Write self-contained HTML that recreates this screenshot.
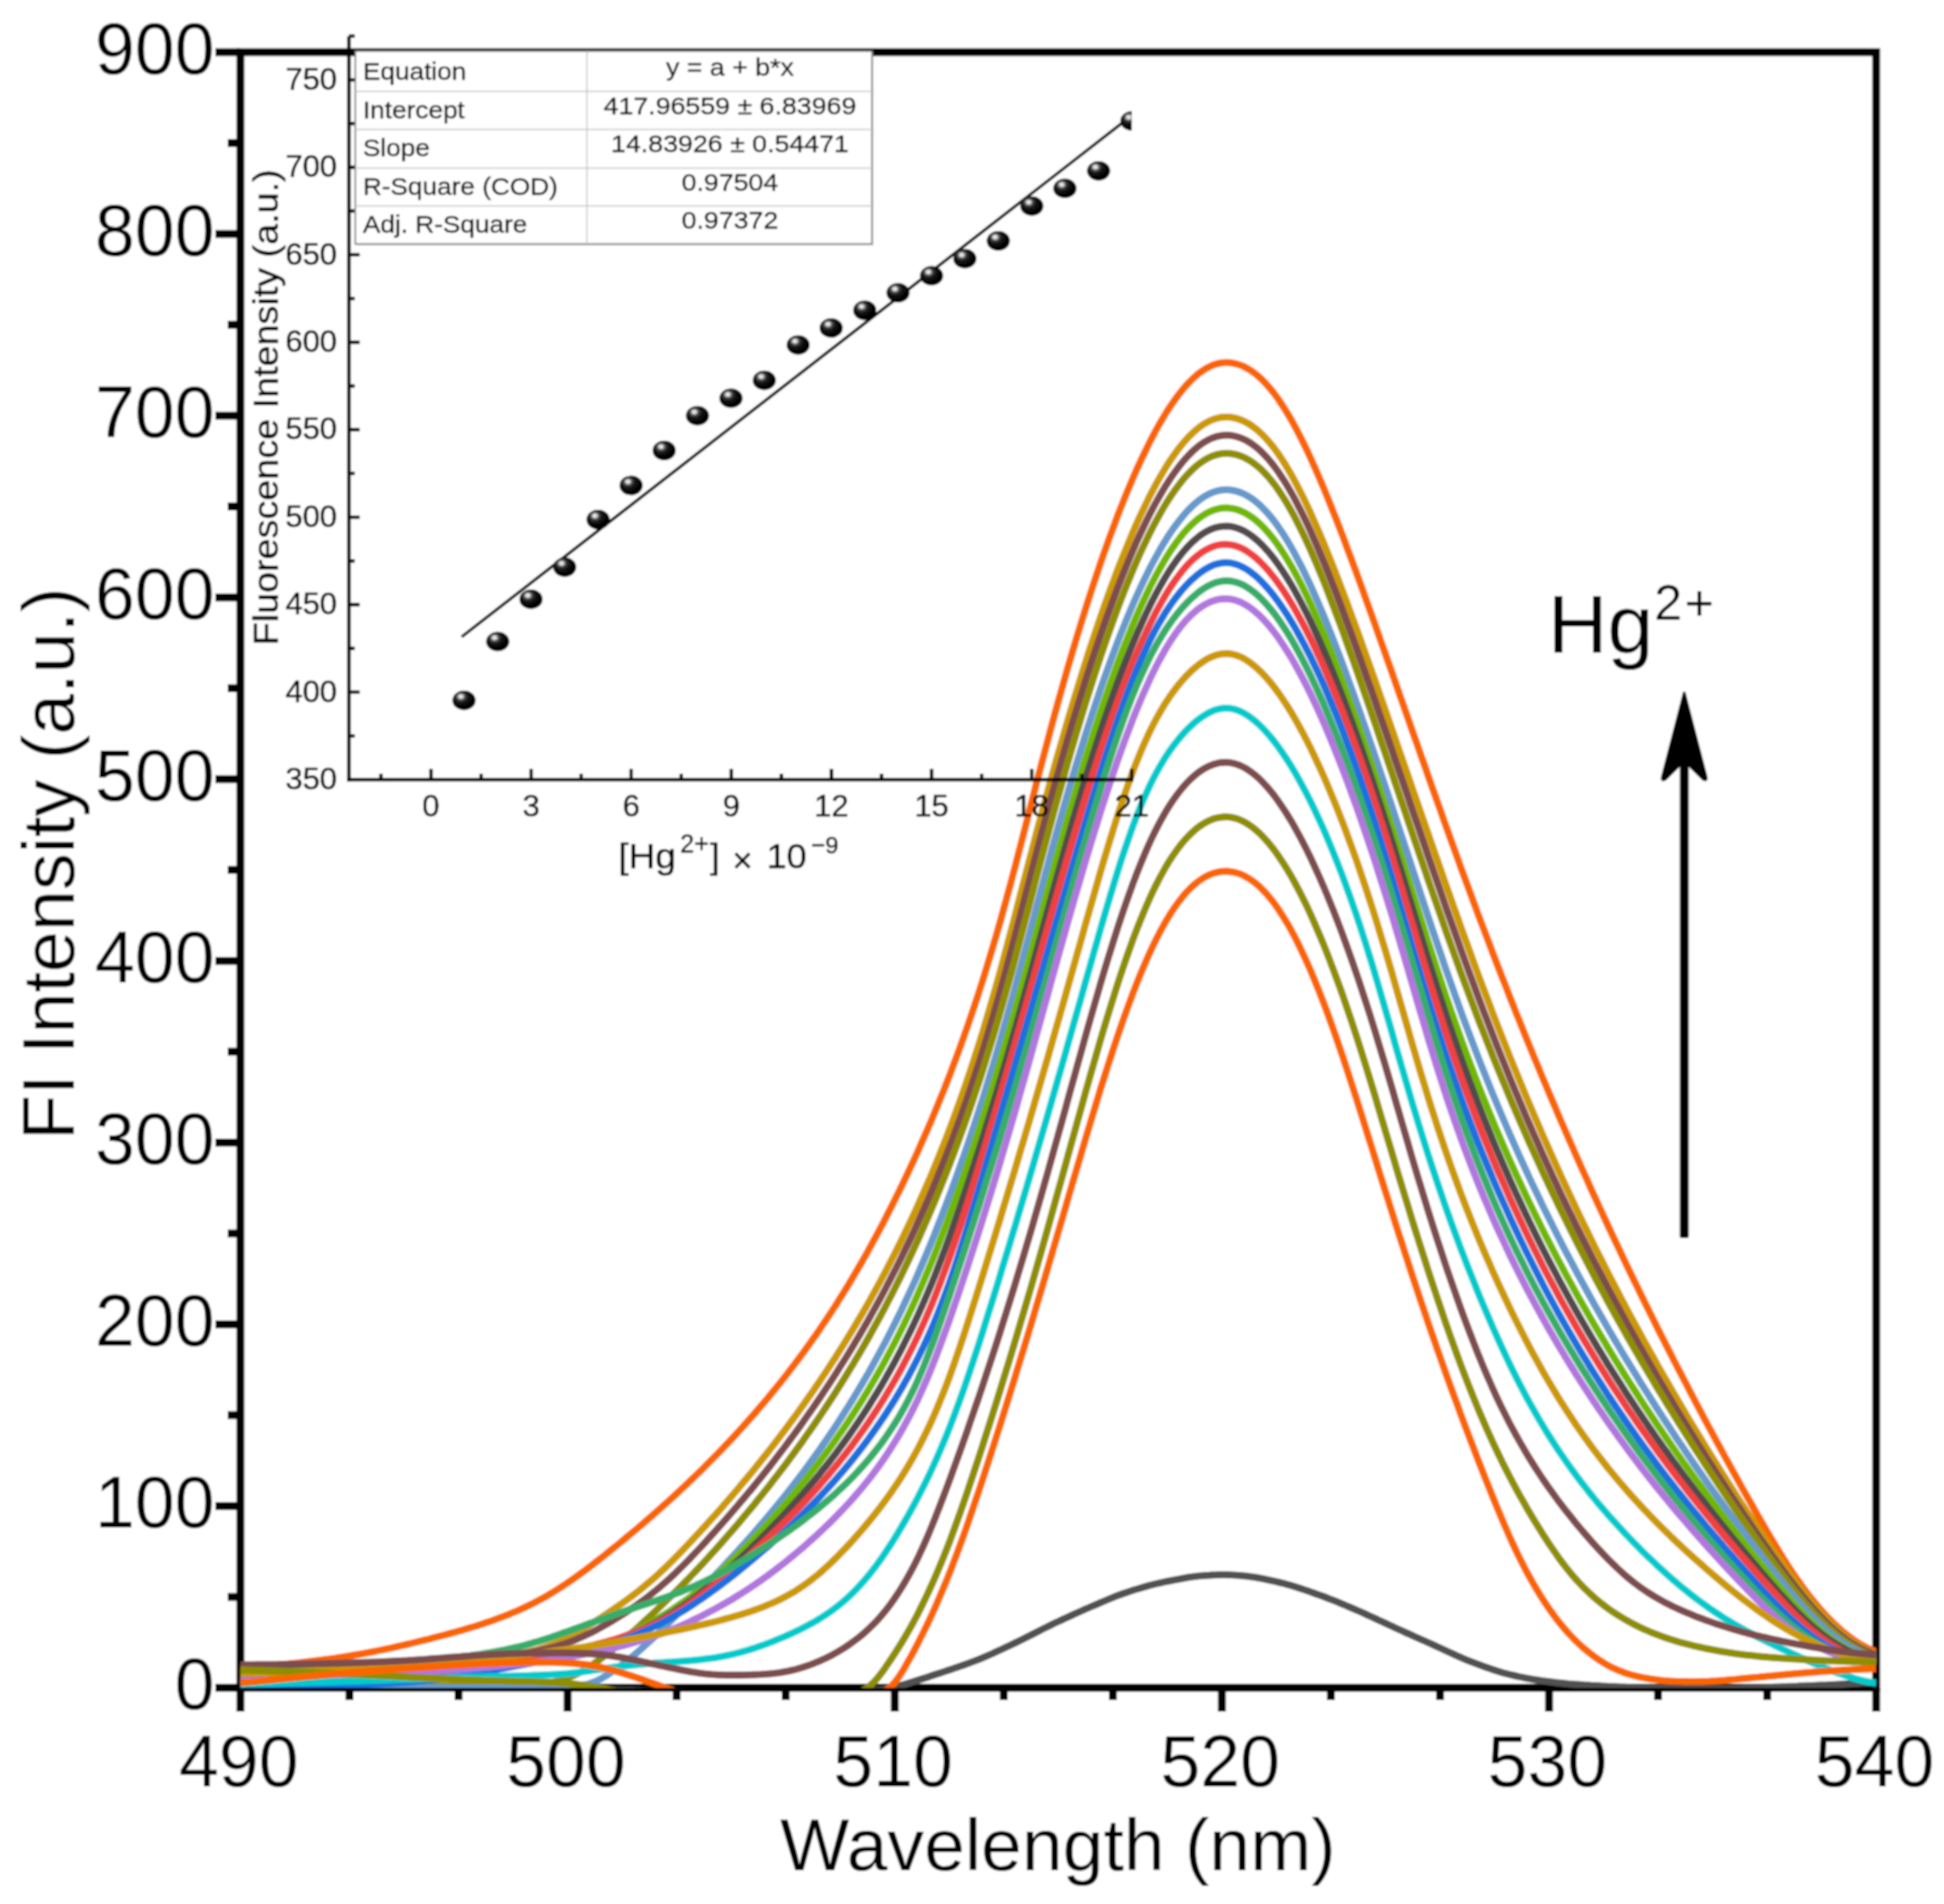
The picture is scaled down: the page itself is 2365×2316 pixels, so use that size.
<!DOCTYPE html>
<html lang="en"><head><meta charset="utf-8"><title>FI Intensity vs Wavelength</title>
<style>
html,body{margin:0;padding:0;background:#fff;}
svg{display:block;}
text{font-family:"Liberation Sans", Arial, Helvetica, sans-serif;fill:#000;}
</style></head><body>
<svg width="2365" height="2316" viewBox="0 0 2365 2316">
<defs>
<filter id="soft" x="0" y="0" width="2365" height="2316" filterUnits="userSpaceOnUse"><feGaussianBlur stdDeviation="0.85"/></filter>
<clipPath id="plotclip"><rect x="292.5" y="63.5" width="1990.0" height="1989.5"/></clipPath>
<clipPath id="insclip"><rect x="423" y="44" width="954" height="905"/></clipPath>
<radialGradient id="ball" cx="0.38" cy="0.33" r="0.62" fx="0.36" fy="0.30">
<stop offset="0" stop-color="#ffffff"/><stop offset="0.13" stop-color="#d8d8d8"/>
<stop offset="0.32" stop-color="#3a3a3a"/><stop offset="0.6" stop-color="#0a0a0a"/><stop offset="1" stop-color="#000"/>
</radialGradient>
</defs>
<g filter="url(#soft)">
<rect width="2365" height="2316" fill="#fff"/>

<g stroke="#000" stroke-width="9.6" fill="none" stroke-linecap="butt">
<rect x="292.5" y="63.5" width="1990.0" height="1989.5"/>
<line x1="262.0" y1="2053.0" x2="292.5" y2="2053.0"/>
<line x1="262.0" y1="1831.9" x2="292.5" y2="1831.9"/>
<line x1="262.0" y1="1610.9" x2="292.5" y2="1610.9"/>
<line x1="262.0" y1="1389.8" x2="292.5" y2="1389.8"/>
<line x1="262.0" y1="1168.8" x2="292.5" y2="1168.8"/>
<line x1="262.0" y1="947.7" x2="292.5" y2="947.7"/>
<line x1="262.0" y1="726.7" x2="292.5" y2="726.7"/>
<line x1="262.0" y1="505.6" x2="292.5" y2="505.6"/>
<line x1="262.0" y1="284.6" x2="292.5" y2="284.6"/>
<line x1="262.0" y1="63.5" x2="292.5" y2="63.5"/>
<line x1="277.0" y1="1942.5" x2="292.5" y2="1942.5"/>
<line x1="277.0" y1="1721.4" x2="292.5" y2="1721.4"/>
<line x1="277.0" y1="1500.4" x2="292.5" y2="1500.4"/>
<line x1="277.0" y1="1279.3" x2="292.5" y2="1279.3"/>
<line x1="277.0" y1="1058.2" x2="292.5" y2="1058.2"/>
<line x1="277.0" y1="837.2" x2="292.5" y2="837.2"/>
<line x1="277.0" y1="616.1" x2="292.5" y2="616.1"/>
<line x1="277.0" y1="395.1" x2="292.5" y2="395.1"/>
<line x1="277.0" y1="174.0" x2="292.5" y2="174.0"/>
<line x1="292.5" y1="2053.0" x2="292.5" y2="2082.0"/>
<line x1="690.5" y1="2053.0" x2="690.5" y2="2082.0"/>
<line x1="1088.5" y1="2053.0" x2="1088.5" y2="2082.0"/>
<line x1="1486.5" y1="2053.0" x2="1486.5" y2="2082.0"/>
<line x1="1884.5" y1="2053.0" x2="1884.5" y2="2082.0"/>
<line x1="2282.5" y1="2053.0" x2="2282.5" y2="2082.0"/>
<line x1="425.2" y1="2053.0" x2="425.2" y2="2068.0"/>
<line x1="557.8" y1="2053.0" x2="557.8" y2="2068.0"/>
<line x1="823.2" y1="2053.0" x2="823.2" y2="2068.0"/>
<line x1="955.8" y1="2053.0" x2="955.8" y2="2068.0"/>
<line x1="1221.2" y1="2053.0" x2="1221.2" y2="2068.0"/>
<line x1="1353.8" y1="2053.0" x2="1353.8" y2="2068.0"/>
<line x1="1619.2" y1="2053.0" x2="1619.2" y2="2068.0"/>
<line x1="1751.8" y1="2053.0" x2="1751.8" y2="2068.0"/>
<line x1="2017.2" y1="2053.0" x2="2017.2" y2="2068.0"/>
<line x1="2149.8" y1="2053.0" x2="2149.8" y2="2068.0"/>
</g>
<g clip-path="url(#plotclip)" fill="none" stroke-width="8.6" stroke-linejoin="round" stroke-linecap="butt">
<polyline stroke="#515151" points="292.5,2053.0 296.5,2053.0 300.5,2053.0 304.4,2053.0 308.4,2053.0 312.4,2053.0 316.4,2053.0 320.4,2053.0 324.3,2053.0 328.3,2053.0 332.3,2053.0 336.3,2053.0 340.3,2053.0 344.2,2053.1 348.2,2053.1 352.2,2053.1 356.2,2053.1 360.2,2053.1 364.1,2053.1 368.1,2053.1 372.1,2053.1 376.1,2053.1 380.1,2053.1 384.0,2053.2 388.0,2053.2 392.0,2053.2 396.0,2053.2 400.0,2053.2 403.9,2053.2 407.9,2053.2 411.9,2053.3 415.9,2053.3 419.9,2053.3 423.8,2053.3 427.8,2053.3 431.8,2053.4 435.8,2053.4 439.8,2053.4 443.7,2053.4 447.7,2053.4 451.7,2053.5 455.7,2053.5 459.7,2053.5 463.6,2053.5 467.6,2053.5 471.6,2053.6 475.6,2053.6 479.6,2053.6 483.5,2053.6 487.5,2053.7 491.5,2053.7 495.5,2053.7 499.5,2053.7 503.4,2053.8 507.4,2053.8 511.4,2053.8 515.4,2053.8 519.4,2053.9 523.3,2053.9 527.3,2053.9 531.3,2053.9 535.3,2054.0 539.3,2054.0 543.2,2054.0 547.2,2054.1 551.2,2054.1 555.2,2054.1 559.2,2054.1 563.1,2054.2 567.1,2054.2 571.1,2054.2 575.1,2054.3 579.1,2054.3 583.0,2054.3 587.0,2054.4 591.0,2054.4 595.0,2054.4 599.0,2054.5 602.9,2054.5 606.9,2054.5 610.9,2054.5 614.9,2054.6 618.9,2054.6 622.8,2054.6 626.8,2054.7 630.8,2054.7 634.8,2054.7 638.8,2054.8 642.7,2054.8 646.7,2054.8 650.7,2054.9 654.7,2054.9 658.7,2054.9 662.6,2055.0 666.6,2055.0 670.6,2055.0 674.6,2055.1 678.6,2055.1 682.5,2055.1 686.5,2055.2 690.5,2055.2 694.5,2055.2 698.5,2055.3 702.4,2055.3 706.4,2055.4 710.4,2055.4 714.4,2055.5 718.4,2055.5 722.3,2055.6 726.3,2055.6 730.3,2055.7 734.3,2055.8 738.3,2055.8 742.2,2055.9 746.2,2056.0 750.2,2056.0 754.2,2056.1 758.2,2056.2 762.1,2056.3 766.1,2056.4 770.1,2056.4 774.1,2056.5 778.1,2056.6 782.0,2056.7 786.0,2056.8 790.0,2056.8 794.0,2056.9 798.0,2057.0 801.9,2057.1 805.9,2057.2 809.9,2057.3 813.9,2057.4 817.9,2057.5 821.8,2057.5 825.8,2057.6 829.8,2057.7 833.8,2057.8 837.8,2057.9 841.7,2058.0 845.7,2058.1 849.7,2058.1 853.7,2058.2 857.7,2058.3 861.6,2058.4 865.6,2058.5 869.6,2058.5 873.6,2058.6 877.6,2058.7 881.5,2058.8 885.5,2058.8 889.5,2058.9 893.5,2059.0 897.5,2059.0 901.4,2059.1 905.4,2059.1 909.4,2059.2 913.4,2059.2 917.4,2059.3 921.3,2059.3 925.3,2059.4 929.3,2059.4 933.3,2059.5 937.3,2059.5 941.2,2059.5 945.2,2059.6 949.2,2059.6 953.2,2059.6 957.2,2059.6 961.1,2059.6 965.1,2059.6 969.1,2059.6 973.1,2059.6 977.1,2059.6 981.0,2059.6 985.0,2059.5 989.0,2059.5 993.0,2059.4 997.0,2059.3 1000.9,2059.2 1004.9,2059.1 1008.9,2059.0 1012.9,2058.8 1016.9,2058.7 1020.8,2058.5 1024.8,2058.3 1028.8,2058.1 1032.8,2057.9 1036.8,2057.7 1040.7,2057.5 1044.7,2057.3 1048.7,2057.0 1052.7,2056.7 1056.7,2056.5 1060.6,2056.2 1064.6,2055.9 1068.6,2055.5 1072.6,2055.2 1076.6,2054.7 1080.5,2053.9 1084.5,2052.9 1088.5,2051.9 1092.5,2050.9 1096.5,2049.9 1100.4,2048.8 1104.4,2047.6 1108.4,2046.4 1112.4,2045.2 1116.4,2043.9 1120.3,2042.7 1124.3,2041.4 1128.3,2040.1 1132.3,2038.7 1136.3,2037.4 1140.2,2036.1 1144.2,2034.8 1148.2,2033.5 1152.2,2032.2 1156.2,2030.9 1160.1,2029.5 1164.1,2028.2 1168.1,2026.8 1172.1,2025.4 1176.1,2024.0 1180.0,2022.5 1184.0,2021.0 1188.0,2019.5 1192.0,2017.9 1196.0,2016.3 1199.9,2014.6 1203.9,2012.8 1207.9,2011.1 1211.9,2009.2 1215.9,2007.4 1219.8,2005.6 1223.8,2003.7 1227.8,2001.8 1231.8,1999.9 1235.8,1998.0 1239.7,1996.1 1243.7,1994.2 1247.7,1992.2 1251.7,1990.2 1255.7,1988.1 1259.6,1986.1 1263.6,1984.1 1267.6,1982.0 1271.6,1980.0 1275.6,1978.1 1279.5,1976.1 1283.5,1974.2 1287.5,1972.4 1291.5,1970.5 1295.5,1968.6 1299.4,1966.8 1303.4,1965.0 1307.4,1963.2 1311.4,1961.4 1315.4,1959.6 1319.3,1957.8 1323.3,1956.1 1327.3,1954.4 1331.3,1952.7 1335.3,1951.0 1339.2,1949.3 1343.2,1947.6 1347.2,1945.9 1351.2,1944.3 1355.2,1942.6 1359.1,1941.1 1363.1,1939.6 1367.1,1938.1 1371.1,1936.8 1375.1,1935.5 1379.0,1934.2 1383.0,1933.0 1387.0,1931.8 1391.0,1930.6 1395.0,1929.5 1398.9,1928.4 1402.9,1927.4 1406.9,1926.4 1410.9,1925.5 1414.9,1924.6 1418.8,1923.8 1422.8,1923.0 1426.8,1922.2 1430.8,1921.4 1434.8,1920.7 1438.7,1920.0 1442.7,1919.3 1446.7,1918.6 1450.7,1918.0 1454.7,1917.5 1458.6,1917.0 1462.6,1916.7 1466.6,1916.4 1470.6,1916.2 1474.6,1915.9 1478.5,1915.8 1482.5,1915.6 1486.5,1915.5 1490.5,1915.5 1494.5,1915.6 1498.4,1915.8 1502.4,1916.0 1506.4,1916.3 1510.4,1916.6 1514.4,1917.0 1518.3,1917.4 1522.3,1917.9 1526.3,1918.5 1530.3,1919.2 1534.3,1919.9 1538.2,1920.7 1542.2,1921.6 1546.2,1922.5 1550.2,1923.4 1554.2,1924.3 1558.1,1925.2 1562.1,1926.2 1566.1,1927.3 1570.1,1928.4 1574.1,1929.6 1578.0,1930.8 1582.0,1932.1 1586.0,1933.5 1590.0,1934.8 1594.0,1936.2 1597.9,1937.6 1601.9,1939.1 1605.9,1940.5 1609.9,1941.9 1613.9,1943.4 1617.8,1945.0 1621.8,1946.5 1625.8,1948.1 1629.8,1949.8 1633.8,1951.4 1637.7,1953.1 1641.7,1954.8 1645.7,1956.5 1649.7,1958.2 1653.7,1959.9 1657.6,1961.7 1661.6,1963.5 1665.6,1965.3 1669.6,1967.1 1673.6,1969.0 1677.5,1970.8 1681.5,1972.7 1685.5,1974.5 1689.5,1976.4 1693.5,1978.2 1697.4,1980.1 1701.4,1981.9 1705.4,1983.7 1709.4,1985.5 1713.4,1987.2 1717.3,1989.0 1721.3,1990.8 1725.3,1992.6 1729.3,1994.4 1733.3,1996.2 1737.2,1997.9 1741.2,1999.7 1745.2,2001.5 1749.2,2003.3 1753.2,2005.1 1757.1,2007.0 1761.1,2008.8 1765.1,2010.7 1769.1,2012.5 1773.1,2014.3 1777.0,2016.0 1781.0,2017.8 1785.0,2019.4 1789.0,2021.0 1793.0,2022.5 1796.9,2024.0 1800.9,2025.5 1804.9,2027.0 1808.9,2028.4 1812.9,2029.8 1816.8,2031.1 1820.8,2032.4 1824.8,2033.6 1828.8,2034.8 1832.8,2035.9 1836.7,2036.9 1840.7,2037.8 1844.7,2038.7 1848.7,2039.6 1852.7,2040.4 1856.6,2041.2 1860.6,2041.9 1864.6,2042.7 1868.6,2043.3 1872.6,2044.0 1876.5,2044.6 1880.5,2045.1 1884.5,2045.6 1888.5,2046.1 1892.5,2046.6 1896.4,2047.0 1900.4,2047.4 1904.4,2047.8 1908.4,2048.2 1912.4,2048.5 1916.3,2048.8 1920.3,2049.1 1924.3,2049.4 1928.3,2049.7 1932.3,2049.9 1936.2,2050.2 1940.2,2050.4 1944.2,2050.6 1948.2,2050.9 1952.2,2051.1 1956.1,2051.3 1960.1,2051.5 1964.1,2051.6 1968.1,2051.8 1972.1,2052.0 1976.0,2052.1 1980.0,2052.2 1984.0,2052.3 1988.0,2052.4 1992.0,2052.6 1995.9,2052.7 1999.9,2052.8 2003.9,2052.9 2007.9,2053.0 2011.9,2053.1 2015.8,2053.2 2019.8,2053.3 2023.8,2053.3 2027.8,2053.4 2031.8,2053.5 2035.7,2053.6 2039.7,2053.7 2043.7,2053.7 2047.7,2053.8 2051.7,2053.9 2055.6,2053.9 2059.6,2054.0 2063.6,2054.0 2067.6,2054.0 2071.6,2054.1 2075.5,2054.1 2079.5,2054.1 2083.5,2054.1 2087.5,2054.1 2091.5,2054.1 2095.4,2054.0 2099.4,2054.0 2103.4,2053.9 2107.4,2053.8 2111.4,2053.8 2115.3,2053.7 2119.3,2053.6 2123.3,2053.4 2127.3,2053.3 2131.3,2053.2 2135.2,2053.1 2139.2,2052.9 2143.2,2052.8 2147.2,2052.6 2151.2,2052.5 2155.1,2052.3 2159.1,2052.1 2163.1,2052.0 2167.1,2051.8 2171.1,2051.7 2175.0,2051.5 2179.0,2051.4 2183.0,2051.2 2187.0,2051.1 2191.0,2050.9 2194.9,2050.8 2198.9,2050.6 2202.9,2050.5 2206.9,2050.3 2210.9,2050.1 2214.8,2049.9 2218.8,2049.7 2222.8,2049.6 2226.8,2049.4 2230.8,2049.2 2234.7,2049.0 2238.7,2048.8 2242.7,2048.6 2246.7,2048.4 2250.7,2048.2 2254.6,2047.9 2258.6,2047.7 2262.6,2047.5 2266.6,2047.3 2270.6,2047.1 2274.5,2046.8 2278.5,2046.6 2282.5,2046.4"/>
<polyline stroke="#FB6501" points="292.5,2028.0 296.5,2027.8 300.5,2027.7 304.4,2027.5 308.4,2027.3 312.4,2027.0 316.4,2026.8 320.4,2026.5 324.3,2026.2 328.3,2025.9 332.3,2025.6 336.3,2025.3 340.3,2024.9 344.2,2024.6 348.2,2024.2 352.2,2023.8 356.2,2023.4 360.2,2022.9 364.1,2022.5 368.1,2022.0 372.1,2021.6 376.1,2021.1 380.1,2020.6 384.0,2020.1 388.0,2019.6 392.0,2019.1 396.0,2018.5 400.0,2018.0 403.9,2017.4 407.9,2016.9 411.9,2016.3 415.9,2015.7 419.9,2015.1 423.8,2014.4 427.8,2013.8 431.8,2013.1 435.8,2012.4 439.8,2011.7 443.7,2011.0 447.7,2010.3 451.7,2009.5 455.7,2008.7 459.7,2007.9 463.6,2007.1 467.6,2006.3 471.6,2005.4 475.6,2004.6 479.6,2003.7 483.5,2002.8 487.5,2001.9 491.5,2001.0 495.5,2000.0 499.5,1999.1 503.4,1998.1 507.4,1997.2 511.4,1996.2 515.4,1995.2 519.4,1994.3 523.3,1993.3 527.3,1992.2 531.3,1991.2 535.3,1990.2 539.3,1989.2 543.2,1988.1 547.2,1987.0 551.2,1985.9 555.2,1984.8 559.2,1983.7 563.1,1982.6 567.1,1981.4 571.1,1980.2 575.1,1979.0 579.1,1977.8 583.0,1976.5 587.0,1975.3 591.0,1973.9 595.0,1972.6 599.0,1971.2 602.9,1969.8 606.9,1968.3 610.9,1966.8 614.9,1965.3 618.9,1963.7 622.8,1962.1 626.8,1960.4 630.8,1958.7 634.8,1956.9 638.8,1955.0 642.7,1953.1 646.7,1951.2 650.7,1949.1 654.7,1947.0 658.7,1944.9 662.6,1942.7 666.6,1940.4 670.6,1938.0 674.6,1935.6 678.6,1933.1 682.5,1930.6 686.5,1928.0 690.5,1925.3 694.5,1922.6 698.5,1919.8 702.4,1917.0 706.4,1914.1 710.4,1911.2 714.4,1908.2 718.4,1905.2 722.3,1902.1 726.3,1899.0 730.3,1895.9 734.3,1892.8 738.3,1889.6 742.2,1886.4 746.2,1883.2 750.2,1880.0 754.2,1876.7 758.2,1873.4 762.1,1870.1 766.1,1866.8 770.1,1863.5 774.1,1860.2 778.1,1856.8 782.0,1853.4 786.0,1850.0 790.0,1846.5 794.0,1843.1 798.0,1839.6 801.9,1836.1 805.9,1832.5 809.9,1829.0 813.9,1825.4 817.9,1821.8 821.8,1818.1 825.8,1814.4 829.8,1810.7 833.8,1807.0 837.8,1803.2 841.7,1799.4 845.7,1795.5 849.7,1791.7 853.7,1787.8 857.7,1783.8 861.6,1779.8 865.6,1775.8 869.6,1771.8 873.6,1767.7 877.6,1763.6 881.5,1759.4 885.5,1755.2 889.5,1751.0 893.5,1746.7 897.5,1742.4 901.4,1738.0 905.4,1733.6 909.4,1729.1 913.4,1724.7 917.4,1720.1 921.3,1715.5 925.3,1710.9 929.3,1706.2 933.3,1701.4 937.3,1696.6 941.2,1691.8 945.2,1686.9 949.2,1681.9 953.2,1676.9 957.2,1671.8 961.1,1666.7 965.1,1661.5 969.1,1656.2 973.1,1650.9 977.1,1645.5 981.0,1640.0 985.0,1634.5 989.0,1628.8 993.0,1623.2 997.0,1617.4 1000.9,1611.5 1004.9,1605.6 1008.9,1599.6 1012.9,1593.5 1016.9,1587.4 1020.8,1581.1 1024.8,1574.7 1028.8,1568.3 1032.8,1561.7 1036.8,1555.1 1040.7,1548.4 1044.7,1541.5 1048.7,1534.6 1052.7,1527.6 1056.7,1520.5 1060.6,1513.2 1064.6,1505.9 1068.6,1498.5 1072.6,1490.9 1076.6,1483.3 1080.5,1475.5 1084.5,1467.7 1088.5,1459.7 1092.5,1451.7 1096.5,1443.5 1100.4,1435.3 1104.4,1426.9 1108.4,1418.4 1112.4,1409.8 1116.4,1401.0 1120.3,1392.1 1124.3,1383.1 1128.3,1374.0 1132.3,1364.7 1136.3,1355.2 1140.2,1345.6 1144.2,1335.9 1148.2,1326.0 1152.2,1315.9 1156.2,1305.6 1160.1,1295.1 1164.1,1284.4 1168.1,1273.5 1172.1,1262.4 1176.1,1251.1 1180.0,1239.6 1184.0,1227.8 1188.0,1215.8 1192.0,1203.5 1196.0,1191.0 1199.9,1178.2 1203.9,1165.1 1207.9,1151.7 1211.9,1138.1 1215.9,1124.2 1219.8,1110.0 1223.8,1095.6 1227.8,1080.9 1231.8,1066.0 1235.8,1050.8 1239.7,1035.5 1243.7,1020.1 1247.7,1004.6 1251.7,989.0 1255.7,973.5 1259.6,957.9 1263.6,942.5 1267.6,927.2 1271.6,912.0 1275.6,897.0 1279.5,882.1 1283.5,867.5 1287.5,853.0 1291.5,838.8 1295.5,824.7 1299.4,810.9 1303.4,797.2 1307.4,783.8 1311.4,770.5 1315.4,757.5 1319.3,744.7 1323.3,732.1 1327.3,719.7 1331.3,707.5 1335.3,695.6 1339.2,683.9 1343.2,672.4 1347.2,661.2 1351.2,650.1 1355.2,639.4 1359.1,628.8 1363.1,618.5 1367.1,608.5 1371.1,598.7 1375.1,589.2 1379.0,579.9 1383.0,570.8 1387.0,562.1 1391.0,553.6 1395.0,545.3 1398.9,537.4 1402.9,529.7 1406.9,522.3 1410.9,515.2 1414.9,508.4 1418.8,501.9 1422.8,495.7 1426.8,489.8 1430.8,484.2 1434.8,478.9 1438.7,473.9 1442.7,469.3 1446.7,465.0 1450.7,461.0 1454.7,457.4 1458.6,454.1 1462.6,451.2 1466.6,448.6 1470.6,446.4 1474.6,444.6 1478.5,443.1 1482.5,442.0 1486.5,441.3 1490.5,441.0 1494.5,441.0 1498.4,441.4 1502.4,442.2 1506.4,443.3 1510.4,444.7 1514.4,446.5 1518.3,448.6 1522.3,451.1 1526.3,454.0 1530.3,457.2 1534.3,460.8 1538.2,464.8 1542.2,469.1 1546.2,473.8 1550.2,478.8 1554.2,484.2 1558.1,490.0 1562.1,496.1 1566.1,502.5 1570.1,509.3 1574.1,516.4 1578.0,523.8 1582.0,531.5 1586.0,539.5 1590.0,547.7 1594.0,556.3 1597.9,565.0 1601.9,574.0 1605.9,583.2 1609.9,592.7 1613.9,602.3 1617.8,612.1 1621.8,622.1 1625.8,632.2 1629.8,642.4 1633.8,652.8 1637.7,663.4 1641.7,674.0 1645.7,684.7 1649.7,695.5 1653.7,706.4 1657.6,717.4 1661.6,728.5 1665.6,739.6 1669.6,750.7 1673.6,761.9 1677.5,773.1 1681.5,784.4 1685.5,795.7 1689.5,807.0 1693.5,818.3 1697.4,829.7 1701.4,841.0 1705.4,852.4 1709.4,863.7 1713.4,875.1 1717.3,886.5 1721.3,897.8 1725.3,909.2 1729.3,920.5 1733.3,931.8 1737.2,943.1 1741.2,954.4 1745.2,965.7 1749.2,976.9 1753.2,988.1 1757.1,999.3 1761.1,1010.4 1765.1,1021.5 1769.1,1032.5 1773.1,1043.6 1777.0,1054.5 1781.0,1065.4 1785.0,1076.3 1789.0,1087.1 1793.0,1097.9 1796.9,1108.6 1800.9,1119.2 1804.9,1129.8 1808.9,1140.3 1812.9,1150.8 1816.8,1161.2 1820.8,1171.6 1824.8,1181.9 1828.8,1192.1 1832.8,1202.3 1836.7,1212.4 1840.7,1222.5 1844.7,1232.5 1848.7,1242.4 1852.7,1252.3 1856.6,1262.2 1860.6,1271.9 1864.6,1281.6 1868.6,1291.3 1872.6,1300.9 1876.5,1310.5 1880.5,1319.9 1884.5,1329.4 1888.5,1338.8 1892.5,1348.1 1896.4,1357.4 1900.4,1366.6 1904.4,1375.8 1908.4,1384.9 1912.4,1394.0 1916.3,1403.0 1920.3,1412.0 1924.3,1420.9 1928.3,1429.8 1932.3,1438.6 1936.2,1447.4 1940.2,1456.1 1944.2,1464.8 1948.2,1473.5 1952.2,1482.1 1956.1,1490.6 1960.1,1499.1 1964.1,1507.6 1968.1,1516.0 1972.1,1524.4 1976.0,1532.8 1980.0,1541.1 1984.0,1549.3 1988.0,1557.6 1992.0,1565.7 1995.9,1573.9 1999.9,1582.0 2003.9,1590.1 2007.9,1598.1 2011.9,1606.1 2015.8,1614.1 2019.8,1622.0 2023.8,1629.9 2027.8,1637.7 2031.8,1645.5 2035.7,1653.3 2039.7,1661.1 2043.7,1668.8 2047.7,1676.5 2051.7,1684.1 2055.6,1691.7 2059.6,1699.3 2063.6,1706.9 2067.6,1714.4 2071.6,1721.9 2075.5,1729.4 2079.5,1736.8 2083.5,1744.2 2087.5,1751.6 2091.5,1758.9 2095.4,1766.2 2099.4,1773.5 2103.4,1780.7 2107.4,1788.0 2111.4,1795.2 2115.3,1802.3 2119.3,1809.5 2123.3,1816.6 2127.3,1823.6 2131.3,1830.7 2135.2,1837.7 2139.2,1844.6 2143.2,1851.6 2147.2,1858.4 2151.2,1865.3 2155.1,1872.0 2159.1,1878.7 2163.1,1885.3 2167.1,1891.8 2171.1,1898.1 2175.0,1904.3 2179.0,1910.4 2183.0,1916.3 2187.0,1922.0 2191.0,1927.6 2194.9,1933.0 2198.9,1938.3 2202.9,1943.4 2206.9,1948.3 2210.9,1953.1 2214.8,1957.7 2218.8,1962.2 2222.8,1966.4 2226.8,1970.5 2230.8,1974.5 2234.7,1978.2 2238.7,1981.8 2242.7,1985.2 2246.7,1988.4 2250.7,1991.5 2254.6,1994.4 2258.6,1997.1 2262.6,1999.6 2266.6,2001.9 2270.6,2004.0 2274.5,2006.0 2278.5,2007.7 2282.5,2009.3"/>
<polyline stroke="#CC9900" points="292.5,2032.8 296.5,2032.7 300.5,2032.6 304.4,2032.5 308.4,2032.4 312.4,2032.3 316.4,2032.1 320.4,2032.0 324.3,2031.9 328.3,2031.7 332.3,2031.6 336.3,2031.5 340.3,2031.3 344.2,2031.2 348.2,2031.0 352.2,2030.8 356.2,2030.7 360.2,2030.5 364.1,2030.4 368.1,2030.2 372.1,2030.0 376.1,2029.9 380.1,2029.7 384.0,2029.5 388.0,2029.4 392.0,2029.2 396.0,2029.0 400.0,2028.8 403.9,2028.7 407.9,2028.5 411.9,2028.3 415.9,2028.1 419.9,2027.9 423.8,2027.8 427.8,2027.6 431.8,2027.4 435.8,2027.2 439.8,2027.0 443.7,2026.8 447.7,2026.7 451.7,2026.5 455.7,2026.3 459.7,2026.1 463.6,2025.9 467.6,2025.7 471.6,2025.5 475.6,2025.3 479.6,2025.1 483.5,2024.9 487.5,2024.7 491.5,2024.5 495.5,2024.3 499.5,2024.1 503.4,2023.9 507.4,2023.7 511.4,2023.5 515.4,2023.3 519.4,2023.1 523.3,2022.8 527.3,2022.6 531.3,2022.4 535.3,2022.1 539.3,2021.9 543.2,2021.6 547.2,2021.3 551.2,2021.1 555.2,2020.8 559.2,2020.5 563.1,2020.2 567.1,2019.8 571.1,2019.5 575.1,2019.2 579.1,2018.8 583.0,2018.5 587.0,2018.1 591.0,2017.7 595.0,2017.2 599.0,2016.8 602.9,2016.3 606.9,2015.8 610.9,2015.3 614.9,2014.7 618.9,2014.1 622.8,2013.5 626.8,2012.8 630.8,2012.1 634.8,2011.3 638.8,2010.4 642.7,2009.5 646.7,2008.5 650.7,2007.5 654.7,2006.4 658.7,2005.1 662.6,2003.8 666.6,2002.4 670.6,2000.9 674.6,1999.3 678.6,1997.7 682.5,1995.9 686.5,1994.0 690.5,1992.0 694.5,1989.9 698.5,1987.8 702.4,1985.5 706.4,1983.2 710.4,1980.9 714.4,1978.4 718.4,1975.9 722.3,1973.4 726.3,1970.9 730.3,1968.3 734.3,1965.6 738.3,1963.0 742.2,1960.3 746.2,1957.6 750.2,1954.9 754.2,1952.1 758.2,1949.3 762.1,1946.4 766.1,1943.5 770.1,1940.5 774.1,1937.4 778.1,1934.3 782.0,1931.1 786.0,1927.8 790.0,1924.4 794.0,1921.0 798.0,1917.5 801.9,1913.8 805.9,1910.1 809.9,1906.3 813.9,1902.4 817.9,1898.5 821.8,1894.5 825.8,1890.4 829.8,1886.3 833.8,1882.1 837.8,1877.9 841.7,1873.7 845.7,1869.4 849.7,1865.1 853.7,1860.8 857.7,1856.5 861.6,1852.1 865.6,1847.7 869.6,1843.3 873.6,1838.8 877.6,1834.3 881.5,1829.8 885.5,1825.2 889.5,1820.6 893.5,1816.0 897.5,1811.3 901.4,1806.6 905.4,1801.8 909.4,1797.1 913.4,1792.2 917.4,1787.4 921.3,1782.5 925.3,1777.5 929.3,1772.5 933.3,1767.5 937.3,1762.4 941.2,1757.3 945.2,1752.1 949.2,1746.9 953.2,1741.7 957.2,1736.4 961.1,1731.0 965.1,1725.6 969.1,1720.2 973.1,1714.6 977.1,1709.1 981.0,1703.5 985.0,1697.8 989.0,1692.1 993.0,1686.3 997.0,1680.4 1000.9,1674.5 1004.9,1668.6 1008.9,1662.5 1012.9,1656.4 1016.9,1650.3 1020.8,1644.0 1024.8,1637.7 1028.8,1631.3 1032.8,1624.8 1036.8,1618.3 1040.7,1611.7 1044.7,1605.0 1048.7,1598.2 1052.7,1591.3 1056.7,1584.3 1060.6,1577.2 1064.6,1570.1 1068.6,1562.8 1072.6,1555.4 1076.6,1548.0 1080.5,1540.4 1084.5,1532.7 1088.5,1524.9 1092.5,1517.0 1096.5,1509.0 1100.4,1500.8 1104.4,1492.5 1108.4,1484.1 1112.4,1475.5 1116.4,1466.8 1120.3,1458.0 1124.3,1449.0 1128.3,1439.9 1132.3,1430.6 1136.3,1421.1 1140.2,1411.5 1144.2,1401.7 1148.2,1391.7 1152.2,1381.5 1156.2,1371.1 1160.1,1360.4 1164.1,1349.6 1168.1,1338.5 1172.1,1327.2 1176.1,1315.7 1180.0,1303.9 1184.0,1291.8 1188.0,1279.4 1192.0,1266.8 1196.0,1253.9 1199.9,1240.7 1203.9,1227.2 1207.9,1213.4 1211.9,1199.4 1215.9,1185.1 1219.8,1170.5 1223.8,1155.7 1227.8,1140.7 1231.8,1125.5 1235.8,1110.3 1239.7,1094.9 1243.7,1079.5 1247.7,1064.1 1251.7,1048.8 1255.7,1033.5 1259.6,1018.4 1263.6,1003.4 1267.6,988.5 1271.6,973.8 1275.6,959.2 1279.5,944.7 1283.5,930.5 1287.5,916.4 1291.5,902.4 1295.5,888.7 1299.4,875.1 1303.4,861.7 1307.4,848.4 1311.4,835.4 1315.4,822.5 1319.3,809.9 1323.3,797.4 1327.3,785.1 1331.3,773.1 1335.3,761.2 1339.2,749.6 1343.2,738.1 1347.2,726.9 1351.2,715.9 1355.2,705.2 1359.1,694.6 1363.1,684.3 1367.1,674.3 1371.1,664.5 1375.1,654.9 1379.0,645.6 1383.0,636.6 1387.0,627.8 1391.0,619.3 1395.0,611.0 1398.9,603.1 1402.9,595.4 1406.9,588.0 1410.9,580.9 1414.9,574.1 1418.8,567.6 1422.8,561.4 1426.8,555.5 1430.8,549.9 1434.8,544.6 1438.7,539.7 1442.7,535.1 1446.7,530.8 1450.7,526.9 1454.7,523.3 1458.6,520.1 1462.6,517.2 1466.6,514.7 1470.6,512.5 1474.6,510.7 1478.5,509.3 1482.5,508.3 1486.5,507.6 1490.5,507.3 1494.5,507.3 1498.4,507.7 1502.4,508.5 1506.4,509.6 1510.4,511.1 1514.4,512.9 1518.3,515.0 1522.3,517.5 1526.3,520.4 1530.3,523.6 1534.3,527.3 1538.2,531.2 1542.2,535.6 1546.2,540.3 1550.2,545.3 1554.2,550.8 1558.1,556.5 1562.1,562.7 1566.1,569.1 1570.1,575.9 1574.1,583.1 1578.0,590.5 1582.0,598.2 1586.0,606.2 1590.0,614.5 1594.0,623.1 1597.9,631.9 1601.9,640.9 1605.9,650.2 1609.9,659.7 1613.9,669.4 1617.8,679.2 1621.8,689.2 1625.8,699.4 1629.8,709.8 1633.8,720.2 1637.7,730.8 1641.7,741.5 1645.7,752.4 1649.7,763.3 1653.7,774.3 1657.6,785.3 1661.6,796.5 1665.6,807.7 1669.6,819.0 1673.6,830.3 1677.5,841.6 1681.5,853.0 1685.5,864.4 1689.5,875.9 1693.5,887.3 1697.4,898.8 1701.4,910.3 1705.4,921.8 1709.4,933.3 1713.4,944.8 1717.3,956.3 1721.3,967.8 1725.3,979.3 1729.3,990.8 1733.3,1002.3 1737.2,1013.7 1741.2,1025.2 1745.2,1036.6 1749.2,1048.0 1753.2,1059.4 1757.1,1070.8 1761.1,1082.1 1765.1,1093.4 1769.1,1104.6 1773.1,1115.8 1777.0,1127.0 1781.0,1138.0 1785.0,1149.0 1789.0,1160.0 1793.0,1170.9 1796.9,1181.6 1800.9,1192.4 1804.9,1203.0 1808.9,1213.6 1812.9,1224.0 1816.8,1234.4 1820.8,1244.7 1824.8,1254.9 1828.8,1265.1 1832.8,1275.1 1836.7,1285.1 1840.7,1294.9 1844.7,1304.7 1848.7,1314.4 1852.7,1324.1 1856.6,1333.6 1860.6,1343.0 1864.6,1352.4 1868.6,1361.7 1872.6,1370.9 1876.5,1380.1 1880.5,1389.1 1884.5,1398.1 1888.5,1407.0 1892.5,1415.9 1896.4,1424.6 1900.4,1433.3 1904.4,1441.9 1908.4,1450.5 1912.4,1459.0 1916.3,1467.4 1920.3,1475.8 1924.3,1484.1 1928.3,1492.3 1932.3,1500.4 1936.2,1508.5 1940.2,1516.6 1944.2,1524.6 1948.2,1532.5 1952.2,1540.4 1956.1,1548.2 1960.1,1555.9 1964.1,1563.6 1968.1,1571.3 1972.1,1578.9 1976.0,1586.4 1980.0,1593.9 1984.0,1601.4 1988.0,1608.8 1992.0,1616.1 1995.9,1623.4 1999.9,1630.7 2003.9,1637.9 2007.9,1645.1 2011.9,1652.2 2015.8,1659.3 2019.8,1666.3 2023.8,1673.3 2027.8,1680.2 2031.8,1687.1 2035.7,1694.0 2039.7,1700.8 2043.7,1707.6 2047.7,1714.4 2051.7,1721.1 2055.6,1727.8 2059.6,1734.4 2063.6,1741.0 2067.6,1747.6 2071.6,1754.1 2075.5,1760.6 2079.5,1767.1 2083.5,1773.5 2087.5,1779.9 2091.5,1786.3 2095.4,1792.6 2099.4,1798.9 2103.4,1805.1 2107.4,1811.3 2111.4,1817.5 2115.3,1823.7 2119.3,1829.8 2123.3,1835.9 2127.3,1842.0 2131.3,1848.0 2135.2,1854.0 2139.2,1859.9 2143.2,1865.9 2147.2,1871.8 2151.2,1877.6 2155.1,1883.5 2159.1,1889.2 2163.1,1895.0 2167.1,1900.6 2171.1,1906.2 2175.0,1911.7 2179.0,1917.2 2183.0,1922.5 2187.0,1927.8 2191.0,1932.9 2194.9,1938.0 2198.9,1943.0 2202.9,1947.9 2206.9,1952.6 2210.9,1957.2 2214.8,1961.7 2218.8,1966.0 2222.8,1970.2 2226.8,1974.3 2230.8,1978.1 2234.7,1981.9 2238.7,1985.4 2242.7,1988.8 2246.7,1992.0 2250.7,1995.0 2254.6,1997.8 2258.6,2000.4 2262.6,2002.8 2266.6,2005.1 2270.6,2007.1 2274.5,2009.0 2278.5,2010.6 2282.5,2012.1"/>
<polyline stroke="#7D4E4E" points="292.5,2030.5 296.5,2030.4 300.5,2030.3 304.4,2030.2 308.4,2030.1 312.4,2030.0 316.4,2029.8 320.4,2029.7 324.3,2029.6 328.3,2029.4 332.3,2029.3 336.3,2029.1 340.3,2029.0 344.2,2028.8 348.2,2028.7 352.2,2028.5 356.2,2028.3 360.2,2028.2 364.1,2028.0 368.1,2027.8 372.1,2027.7 376.1,2027.5 380.1,2027.3 384.0,2027.2 388.0,2027.0 392.0,2026.8 396.0,2026.7 400.0,2026.5 403.9,2026.3 407.9,2026.2 411.9,2026.0 415.9,2025.8 419.9,2025.7 423.8,2025.5 427.8,2025.3 431.8,2025.1 435.8,2025.0 439.8,2024.8 443.7,2024.6 447.7,2024.5 451.7,2024.3 455.7,2024.1 459.7,2024.0 463.6,2023.8 467.6,2023.6 471.6,2023.5 475.6,2023.3 479.6,2023.1 483.5,2023.0 487.5,2022.8 491.5,2022.7 495.5,2022.5 499.5,2022.3 503.4,2022.2 507.4,2022.0 511.4,2021.8 515.4,2021.7 519.4,2021.5 523.3,2021.3 527.3,2021.1 531.3,2020.9 535.3,2020.7 539.3,2020.6 543.2,2020.3 547.2,2020.1 551.2,2019.9 555.2,2019.7 559.2,2019.5 563.1,2019.2 567.1,2018.9 571.1,2018.7 575.1,2018.4 579.1,2018.1 583.0,2017.8 587.0,2017.4 591.0,2017.1 595.0,2016.7 599.0,2016.4 602.9,2015.9 606.9,2015.5 610.9,2015.1 614.9,2014.6 618.9,2014.1 622.8,2013.6 626.8,2013.0 630.8,2012.4 634.8,2011.8 638.8,2011.1 642.7,2010.4 646.7,2009.7 650.7,2008.9 654.7,2008.1 658.7,2007.3 662.6,2006.4 666.6,2005.4 670.6,2004.4 674.6,2003.3 678.6,2002.1 682.5,2000.9 686.5,1999.6 690.5,1998.2 694.5,1996.8 698.5,1995.2 702.4,1993.6 706.4,1991.9 710.4,1990.1 714.4,1988.2 718.4,1986.3 722.3,1984.3 726.3,1982.2 730.3,1980.0 734.3,1977.8 738.3,1975.5 742.2,1973.2 746.2,1970.8 750.2,1968.4 754.2,1965.9 758.2,1963.4 762.1,1960.8 766.1,1958.1 770.1,1955.4 774.1,1952.7 778.1,1949.8 782.0,1946.9 786.0,1943.9 790.0,1940.9 794.0,1937.7 798.0,1934.5 801.9,1931.2 805.9,1927.8 809.9,1924.3 813.9,1920.7 817.9,1917.0 821.8,1913.3 825.8,1909.4 829.8,1905.5 833.8,1901.5 837.8,1897.4 841.7,1893.3 845.7,1889.1 849.7,1884.9 853.7,1880.6 857.7,1876.3 861.6,1871.9 865.6,1867.5 869.6,1863.1 873.6,1858.7 877.6,1854.2 881.5,1849.7 885.5,1845.1 889.5,1840.5 893.5,1835.9 897.5,1831.3 901.4,1826.6 905.4,1821.9 909.4,1817.1 913.4,1812.4 917.4,1807.5 921.3,1802.6 925.3,1797.7 929.3,1792.7 933.3,1787.7 937.3,1782.7 941.2,1777.6 945.2,1772.4 949.2,1767.2 953.2,1762.0 957.2,1756.7 961.1,1751.4 965.1,1746.0 969.1,1740.6 973.1,1735.1 977.1,1729.5 981.0,1723.9 985.0,1718.3 989.0,1712.6 993.0,1706.8 997.0,1701.0 1000.9,1695.1 1004.9,1689.1 1008.9,1683.1 1012.9,1677.0 1016.9,1670.9 1020.8,1664.6 1024.8,1658.3 1028.8,1652.0 1032.8,1645.5 1036.8,1639.0 1040.7,1632.4 1044.7,1625.7 1048.7,1618.9 1052.7,1612.0 1056.7,1605.1 1060.6,1598.0 1064.6,1590.9 1068.6,1583.6 1072.6,1576.3 1076.6,1568.8 1080.5,1561.3 1084.5,1553.6 1088.5,1545.8 1092.5,1537.9 1096.5,1529.9 1100.4,1521.7 1104.4,1513.5 1108.4,1505.1 1112.4,1496.5 1116.4,1487.8 1120.3,1479.0 1124.3,1470.1 1128.3,1461.0 1132.3,1451.7 1136.3,1442.3 1140.2,1432.7 1144.2,1422.9 1148.2,1413.0 1152.2,1402.9 1156.2,1392.6 1160.1,1382.0 1164.1,1371.3 1168.1,1360.4 1172.1,1349.2 1176.1,1337.8 1180.0,1326.2 1184.0,1314.3 1188.0,1302.1 1192.0,1289.7 1196.0,1277.0 1199.9,1264.0 1203.9,1250.7 1207.9,1237.2 1211.9,1223.3 1215.9,1209.2 1219.8,1194.9 1223.8,1180.2 1227.8,1165.4 1231.8,1150.3 1235.8,1135.1 1239.7,1119.7 1243.7,1104.3 1247.7,1088.8 1251.7,1073.3 1255.7,1057.9 1259.6,1042.6 1263.6,1027.3 1267.6,1012.2 1271.6,997.3 1275.6,982.5 1279.5,967.9 1283.5,953.5 1287.5,939.2 1291.5,925.1 1295.5,911.2 1299.4,897.5 1303.4,884.0 1307.4,870.7 1311.4,857.6 1315.4,844.7 1319.3,831.9 1323.3,819.4 1327.3,807.1 1331.3,795.0 1335.3,783.1 1339.2,771.5 1343.2,760.0 1347.2,748.8 1351.2,737.8 1355.2,727.1 1359.1,716.6 1363.1,706.3 1367.1,696.3 1371.1,686.5 1375.1,676.9 1379.0,667.7 1383.0,658.6 1387.0,649.9 1391.0,641.4 1395.0,633.2 1398.9,625.2 1402.9,617.6 1406.9,610.2 1410.9,603.1 1414.9,596.3 1418.8,589.8 1422.8,583.6 1426.8,577.7 1430.8,572.2 1434.8,566.9 1438.7,562.0 1442.7,557.4 1446.7,553.1 1450.7,549.1 1454.7,545.6 1458.6,542.3 1462.6,539.4 1466.6,536.9 1470.6,534.7 1474.6,532.9 1478.5,531.5 1482.5,530.4 1486.5,529.7 1490.5,529.4 1494.5,529.4 1498.4,529.8 1502.4,530.6 1506.4,531.7 1510.4,533.1 1514.4,534.9 1518.3,537.0 1522.3,539.5 1526.3,542.4 1530.3,545.6 1534.3,549.2 1538.2,553.2 1542.2,557.5 1546.2,562.2 1550.2,567.2 1554.2,572.7 1558.1,578.5 1562.1,584.6 1566.1,591.1 1570.1,597.9 1574.1,605.0 1578.0,612.5 1582.0,620.3 1586.0,628.4 1590.0,636.7 1594.0,645.3 1597.9,654.2 1601.9,663.3 1605.9,672.7 1609.9,682.3 1613.9,692.0 1617.8,702.0 1621.8,712.1 1625.8,722.4 1629.8,732.9 1633.8,743.5 1637.7,754.2 1641.7,765.1 1645.7,776.0 1649.7,787.1 1653.7,798.2 1657.6,809.4 1661.6,820.7 1665.6,832.0 1669.6,843.4 1673.6,854.9 1677.5,866.4 1681.5,877.9 1685.5,889.5 1689.5,901.0 1693.5,912.7 1697.4,924.3 1701.4,935.9 1705.4,947.5 1709.4,959.2 1713.4,970.8 1717.3,982.5 1721.3,994.1 1725.3,1005.7 1729.3,1017.4 1733.3,1029.0 1737.2,1040.6 1741.2,1052.1 1745.2,1063.7 1749.2,1075.2 1753.2,1086.6 1757.1,1098.1 1761.1,1109.5 1765.1,1120.8 1769.1,1132.0 1773.1,1143.2 1777.0,1154.4 1781.0,1165.4 1785.0,1176.4 1789.0,1187.2 1793.0,1198.0 1796.9,1208.7 1800.9,1219.3 1804.9,1229.9 1808.9,1240.3 1812.9,1250.6 1816.8,1260.8 1820.8,1271.0 1824.8,1281.0 1828.8,1291.0 1832.8,1300.8 1836.7,1310.6 1840.7,1320.3 1844.7,1329.9 1848.7,1339.4 1852.7,1348.8 1856.6,1358.1 1860.6,1367.3 1864.6,1376.5 1868.6,1385.5 1872.6,1394.5 1876.5,1403.4 1880.5,1412.3 1884.5,1421.0 1888.5,1429.7 1892.5,1438.3 1896.4,1446.8 1900.4,1455.3 1904.4,1463.6 1908.4,1472.0 1912.4,1480.2 1916.3,1488.4 1920.3,1496.5 1924.3,1504.5 1928.3,1512.5 1932.3,1520.4 1936.2,1528.3 1940.2,1536.1 1944.2,1543.8 1948.2,1551.5 1952.2,1559.2 1956.1,1566.7 1960.1,1574.2 1964.1,1581.7 1968.1,1589.1 1972.1,1596.5 1976.0,1603.8 1980.0,1611.0 1984.0,1618.3 1988.0,1625.4 1992.0,1632.5 1995.9,1639.6 1999.9,1646.6 2003.9,1653.6 2007.9,1660.5 2011.9,1667.4 2015.8,1674.3 2019.8,1681.1 2023.8,1687.8 2027.8,1694.6 2031.8,1701.2 2035.7,1707.9 2039.7,1714.5 2043.7,1721.0 2047.7,1727.6 2051.7,1734.1 2055.6,1740.5 2059.6,1746.9 2063.6,1753.3 2067.6,1759.7 2071.6,1766.0 2075.5,1772.3 2079.5,1778.5 2083.5,1784.7 2087.5,1790.9 2091.5,1797.0 2095.4,1803.2 2099.4,1809.2 2103.4,1815.3 2107.4,1821.3 2111.4,1827.2 2115.3,1833.2 2119.3,1839.1 2123.3,1845.0 2127.3,1850.8 2131.3,1856.7 2135.2,1862.5 2139.2,1868.2 2143.2,1873.9 2147.2,1879.6 2151.2,1885.3 2155.1,1890.9 2159.1,1896.5 2163.1,1902.0 2167.1,1907.5 2171.1,1912.9 2175.0,1918.2 2179.0,1923.4 2183.0,1928.6 2187.0,1933.7 2191.0,1938.6 2194.9,1943.5 2198.9,1948.3 2202.9,1953.0 2206.9,1957.5 2210.9,1961.9 2214.8,1966.2 2218.8,1970.3 2222.8,1974.3 2226.8,1978.1 2230.8,1981.7 2234.7,1985.2 2238.7,1988.5 2242.7,1991.6 2246.7,1994.6 2250.7,1997.4 2254.6,2000.0 2258.6,2002.4 2262.6,2004.6 2266.6,2006.6 2270.6,2008.5 2274.5,2010.1 2278.5,2011.6 2282.5,2013.0"/>
<polyline stroke="#8E8E00" points="292.5,2040.2 296.5,2040.3 300.5,2040.5 304.4,2040.7 308.4,2040.9 312.4,2041.1 316.4,2041.3 320.4,2041.5 324.3,2041.8 328.3,2042.0 332.3,2042.2 336.3,2042.4 340.3,2042.7 344.2,2042.9 348.2,2043.1 352.2,2043.3 356.2,2043.6 360.2,2043.8 364.1,2044.0 368.1,2044.2 372.1,2044.4 376.1,2044.6 380.1,2044.8 384.0,2045.0 388.0,2045.2 392.0,2045.4 396.0,2045.6 400.0,2045.8 403.9,2046.0 407.9,2046.2 411.9,2046.4 415.9,2046.6 419.9,2046.7 423.8,2046.9 427.8,2047.1 431.8,2047.3 435.8,2047.5 439.8,2047.7 443.7,2047.9 447.7,2048.1 451.7,2048.3 455.7,2048.5 459.7,2048.7 463.6,2048.9 467.6,2049.0 471.6,2049.2 475.6,2049.4 479.6,2049.5 483.5,2049.7 487.5,2049.9 491.5,2050.0 495.5,2050.1 499.5,2050.2 503.4,2050.3 507.4,2050.4 511.4,2050.5 515.4,2050.6 519.4,2050.7 523.3,2050.7 527.3,2050.7 531.3,2050.7 535.3,2050.8 539.3,2050.8 543.2,2050.8 547.2,2050.8 551.2,2050.8 555.2,2050.7 559.2,2050.7 563.1,2050.7 567.1,2050.7 571.1,2050.7 575.1,2050.6 579.1,2050.6 583.0,2050.6 587.0,2050.6 591.0,2050.5 595.0,2050.5 599.0,2050.4 602.9,2050.4 606.9,2050.4 610.9,2050.3 614.9,2050.3 618.9,2050.2 622.8,2050.1 626.8,2050.1 630.8,2050.0 634.8,2049.9 638.8,2049.8 642.7,2049.7 646.7,2049.5 650.7,2049.3 654.7,2049.0 658.7,2048.6 662.6,2048.1 666.6,2047.4 670.6,2046.7 674.6,2045.8 678.6,2044.7 682.5,2043.6 686.5,2042.3 690.5,2040.9 694.5,2039.4 698.5,2037.7 702.4,2035.9 706.4,2033.8 710.4,2031.6 714.4,2029.2 718.4,2026.6 722.3,2023.9 726.3,2021.1 730.3,2018.1 734.3,2015.1 738.3,2012.0 742.2,2008.8 746.2,2005.6 750.2,2002.3 754.2,1998.9 758.2,1995.4 762.1,1991.9 766.1,1988.4 770.1,1984.8 774.1,1981.2 778.1,1977.6 782.0,1973.9 786.0,1970.3 790.0,1966.6 794.0,1962.9 798.0,1959.1 801.9,1955.4 805.9,1951.6 809.9,1947.7 813.9,1943.9 817.9,1940.0 821.8,1936.1 825.8,1932.1 829.8,1928.1 833.8,1924.1 837.8,1920.0 841.7,1915.9 845.7,1911.7 849.7,1907.5 853.7,1903.2 857.7,1898.9 861.6,1894.6 865.6,1890.2 869.6,1885.8 873.6,1881.4 877.6,1876.9 881.5,1872.4 885.5,1867.8 889.5,1863.2 893.5,1858.6 897.5,1854.0 901.4,1849.3 905.4,1844.5 909.4,1839.8 913.4,1835.0 917.4,1830.2 921.3,1825.3 925.3,1820.4 929.3,1815.4 933.3,1810.4 937.3,1805.3 941.2,1800.2 945.2,1795.1 949.2,1789.9 953.2,1784.6 957.2,1779.3 961.1,1774.0 965.1,1768.6 969.1,1763.1 973.1,1757.6 977.1,1752.1 981.0,1746.4 985.0,1740.8 989.0,1735.0 993.0,1729.2 997.0,1723.4 1000.9,1717.5 1004.9,1711.5 1008.9,1705.4 1012.9,1699.3 1016.9,1693.1 1020.8,1686.9 1024.8,1680.5 1028.8,1674.1 1032.8,1667.6 1036.8,1661.1 1040.7,1654.4 1044.7,1647.7 1048.7,1640.9 1052.7,1634.0 1056.7,1627.0 1060.6,1619.9 1064.6,1612.7 1068.6,1605.4 1072.6,1598.0 1076.6,1590.5 1080.5,1582.9 1084.5,1575.2 1088.5,1567.4 1092.5,1559.4 1096.5,1551.3 1100.4,1543.1 1104.4,1534.8 1108.4,1526.4 1112.4,1517.8 1116.4,1509.1 1120.3,1500.2 1124.3,1491.2 1128.3,1482.1 1132.3,1472.8 1136.3,1463.4 1140.2,1453.8 1144.2,1444.1 1148.2,1434.2 1152.2,1424.1 1156.2,1413.9 1160.1,1403.5 1164.1,1392.9 1168.1,1382.1 1172.1,1371.1 1176.1,1359.9 1180.0,1348.4 1184.0,1336.8 1188.0,1324.9 1192.0,1312.8 1196.0,1300.4 1199.9,1287.8 1203.9,1275.0 1207.9,1261.9 1211.9,1248.5 1215.9,1234.9 1219.8,1221.0 1223.8,1206.9 1227.8,1192.5 1231.8,1178.0 1235.8,1163.2 1239.7,1148.3 1243.7,1133.2 1247.7,1118.0 1251.7,1102.8 1255.7,1087.5 1259.6,1072.2 1263.6,1057.0 1267.6,1041.9 1271.6,1026.9 1275.6,1012.0 1279.5,997.3 1283.5,982.7 1287.5,968.3 1291.5,954.1 1295.5,940.0 1299.4,926.1 1303.4,912.4 1307.4,898.8 1311.4,885.5 1315.4,872.3 1319.3,859.4 1323.3,846.6 1327.3,834.1 1331.3,821.7 1335.3,809.6 1339.2,797.7 1343.2,786.0 1347.2,774.5 1351.2,763.3 1355.2,752.3 1359.1,741.5 1363.1,731.0 1367.1,720.8 1371.1,710.7 1375.1,701.0 1379.0,691.5 1383.0,682.3 1387.0,673.3 1391.0,664.7 1395.0,656.3 1398.9,648.2 1402.9,640.4 1406.9,632.9 1410.9,625.6 1414.9,618.7 1418.8,612.1 1422.8,605.9 1426.8,599.9 1430.8,594.3 1434.8,589.0 1438.7,584.0 1442.7,579.4 1446.7,575.1 1450.7,571.1 1454.7,567.5 1458.6,564.3 1462.6,561.4 1466.6,558.9 1470.6,556.7 1474.6,554.9 1478.5,553.5 1482.5,552.5 1486.5,551.8 1490.5,551.5 1494.5,551.5 1498.4,551.9 1502.4,552.6 1506.4,553.7 1510.4,555.1 1514.4,556.9 1518.3,559.0 1522.3,561.4 1526.3,564.3 1530.3,567.5 1534.3,571.0 1538.2,575.0 1542.2,579.3 1546.2,584.0 1550.2,589.0 1554.2,594.5 1558.1,600.3 1562.1,606.5 1566.1,613.1 1570.1,620.0 1574.1,627.2 1578.0,634.8 1582.0,642.7 1586.0,650.9 1590.0,659.5 1594.0,668.3 1597.9,677.3 1601.9,686.6 1605.9,696.2 1609.9,706.0 1613.9,716.0 1617.8,726.2 1621.8,736.6 1625.8,747.1 1629.8,757.8 1633.8,768.6 1637.7,779.6 1641.7,790.7 1645.7,801.8 1649.7,813.1 1653.7,824.5 1657.6,835.9 1661.6,847.4 1665.6,858.9 1669.6,870.5 1673.6,882.2 1677.5,893.8 1681.5,905.5 1685.5,917.2 1689.5,929.0 1693.5,940.7 1697.4,952.5 1701.4,964.2 1705.4,976.0 1709.4,987.7 1713.4,999.5 1717.3,1011.2 1721.3,1022.9 1725.3,1034.6 1729.3,1046.3 1733.3,1057.9 1737.2,1069.6 1741.2,1081.1 1745.2,1092.7 1749.2,1104.1 1753.2,1115.5 1757.1,1126.9 1761.1,1138.2 1765.1,1149.4 1769.1,1160.5 1773.1,1171.5 1777.0,1182.5 1781.0,1193.3 1785.0,1204.1 1789.0,1214.7 1793.0,1225.3 1796.9,1235.7 1800.9,1246.1 1804.9,1256.3 1808.9,1266.5 1812.9,1276.5 1816.8,1286.5 1820.8,1296.4 1824.8,1306.1 1828.8,1315.8 1832.8,1325.4 1836.7,1334.9 1840.7,1344.2 1844.7,1353.5 1848.7,1362.8 1852.7,1371.9 1856.6,1380.9 1860.6,1389.9 1864.6,1398.7 1868.6,1407.5 1872.6,1416.2 1876.5,1424.9 1880.5,1433.4 1884.5,1441.9 1888.5,1450.3 1892.5,1458.6 1896.4,1466.9 1900.4,1475.1 1904.4,1483.2 1908.4,1491.3 1912.4,1499.2 1916.3,1507.2 1920.3,1515.0 1924.3,1522.8 1928.3,1530.6 1932.3,1538.2 1936.2,1545.9 1940.2,1553.4 1944.2,1560.9 1948.2,1568.4 1952.2,1575.8 1956.1,1583.1 1960.1,1590.4 1964.1,1597.6 1968.1,1604.8 1972.1,1612.0 1976.0,1619.0 1980.0,1626.1 1984.0,1633.1 1988.0,1640.0 1992.0,1646.9 1995.9,1653.8 1999.9,1660.6 2003.9,1667.4 2007.9,1674.1 2011.9,1680.8 2015.8,1687.5 2019.8,1694.1 2023.8,1700.6 2027.8,1707.2 2031.8,1713.7 2035.7,1720.1 2039.7,1726.5 2043.7,1732.9 2047.7,1739.3 2051.7,1745.6 2055.6,1751.8 2059.6,1758.1 2063.6,1764.3 2067.6,1770.5 2071.6,1776.6 2075.5,1782.7 2079.5,1788.8 2083.5,1794.8 2087.5,1800.8 2091.5,1806.8 2095.4,1812.7 2099.4,1818.6 2103.4,1824.5 2107.4,1830.4 2111.4,1836.2 2115.3,1842.0 2119.3,1847.7 2123.3,1853.4 2127.3,1859.1 2131.3,1864.8 2135.2,1870.4 2139.2,1876.1 2143.2,1881.6 2147.2,1887.2 2151.2,1892.7 2155.1,1898.1 2159.1,1903.5 2163.1,1908.9 2167.1,1914.2 2171.1,1919.4 2175.0,1924.5 2179.0,1929.6 2183.0,1934.6 2187.0,1939.5 2191.0,1944.3 2194.9,1949.0 2198.9,1953.6 2202.9,1958.0 2206.9,1962.4 2210.9,1966.6 2214.8,1970.7 2218.8,1974.6 2222.8,1978.4 2226.8,1982.0 2230.8,1985.5 2234.7,1988.8 2238.7,1992.0 2242.7,1995.0 2246.7,1997.8 2250.7,2000.4 2254.6,2002.9 2258.6,2005.2 2262.6,2007.4 2266.6,2009.3 2270.6,2011.1 2274.5,2012.7 2278.5,2014.1 2282.5,2015.4"/>
<polyline stroke="#6699CC" points="292.5,2050.9 296.5,2050.9 300.5,2051.0 304.4,2051.0 308.4,2051.1 312.4,2051.1 316.4,2051.2 320.4,2051.3 324.3,2051.3 328.3,2051.4 332.3,2051.5 336.3,2051.5 340.3,2051.6 344.2,2051.6 348.2,2051.7 352.2,2051.8 356.2,2051.8 360.2,2051.9 364.1,2051.9 368.1,2052.0 372.1,2052.1 376.1,2052.1 380.1,2052.2 384.0,2052.2 388.0,2052.3 392.0,2052.3 396.0,2052.4 400.0,2052.4 403.9,2052.5 407.9,2052.5 411.9,2052.5 415.9,2052.6 419.9,2052.6 423.8,2052.7 427.8,2052.7 431.8,2052.7 435.8,2052.8 439.8,2052.8 443.7,2052.8 447.7,2052.8 451.7,2052.9 455.7,2052.9 459.7,2052.9 463.6,2052.9 467.6,2052.9 471.6,2053.0 475.6,2053.0 479.6,2053.0 483.5,2053.0 487.5,2053.0 491.5,2053.0 495.5,2053.0 499.5,2053.0 503.4,2053.0 507.4,2053.0 511.4,2053.0 515.4,2053.0 519.4,2053.0 523.3,2053.0 527.3,2053.0 531.3,2053.0 535.3,2053.0 539.3,2053.0 543.2,2053.0 547.2,2053.0 551.2,2053.0 555.2,2053.0 559.2,2053.0 563.1,2053.0 567.1,2053.0 571.1,2053.0 575.1,2053.0 579.1,2053.0 583.0,2053.0 587.0,2053.0 591.0,2053.0 595.0,2053.0 599.0,2053.0 602.9,2053.0 606.9,2053.0 610.9,2053.0 614.9,2053.0 618.9,2053.0 622.8,2053.0 626.8,2053.0 630.8,2053.0 634.8,2053.0 638.8,2053.0 642.7,2053.0 646.7,2053.0 650.7,2053.0 654.7,2052.9 658.7,2052.9 662.6,2052.8 666.6,2052.7 670.6,2052.6 674.6,2052.5 678.6,2052.4 682.5,2052.2 686.5,2052.1 690.5,2051.9 694.5,2051.6 698.5,2051.3 702.4,2050.9 706.4,2050.4 710.4,2049.7 714.4,2048.8 718.4,2047.6 722.3,2046.1 726.3,2044.4 730.3,2042.4 734.3,2040.1 738.3,2037.7 742.2,2035.1 746.2,2032.4 750.2,2029.6 754.2,2026.7 758.2,2023.7 762.1,2020.6 766.1,2017.5 770.1,2014.2 774.1,2010.9 778.1,2007.5 782.0,2004.0 786.0,2000.4 790.0,1996.8 794.0,1993.1 798.0,1989.3 801.9,1985.5 805.9,1981.6 809.9,1977.7 813.9,1973.7 817.9,1969.7 821.8,1965.7 825.8,1961.7 829.8,1957.7 833.8,1953.6 837.8,1949.5 841.7,1945.4 845.7,1941.4 849.7,1937.2 853.7,1933.1 857.7,1929.0 861.6,1924.8 865.6,1920.7 869.6,1916.5 873.6,1912.3 877.6,1908.1 881.5,1903.8 885.5,1899.5 889.5,1895.3 893.5,1890.9 897.5,1886.6 901.4,1882.2 905.4,1877.8 909.4,1873.3 913.4,1868.8 917.4,1864.3 921.3,1859.7 925.3,1855.1 929.3,1850.5 933.3,1845.8 937.3,1841.0 941.2,1836.3 945.2,1831.4 949.2,1826.5 953.2,1821.6 957.2,1816.6 961.1,1811.6 965.1,1806.5 969.1,1801.3 973.1,1796.1 977.1,1790.8 981.0,1785.5 985.0,1780.1 989.0,1774.6 993.0,1769.0 997.0,1763.4 1000.9,1757.7 1004.9,1752.0 1008.9,1746.2 1012.9,1740.3 1016.9,1734.3 1020.8,1728.2 1024.8,1722.1 1028.8,1715.8 1032.8,1709.5 1036.8,1703.1 1040.7,1696.6 1044.7,1690.0 1048.7,1683.3 1052.7,1676.5 1056.7,1669.6 1060.6,1662.6 1064.6,1655.4 1068.6,1648.2 1072.6,1640.8 1076.6,1633.3 1080.5,1625.7 1084.5,1617.9 1088.5,1610.0 1092.5,1602.0 1096.5,1593.8 1100.4,1585.4 1104.4,1576.9 1108.4,1568.3 1112.4,1559.5 1116.4,1550.5 1120.3,1541.3 1124.3,1532.0 1128.3,1522.5 1132.3,1512.9 1136.3,1503.1 1140.2,1493.1 1144.2,1482.9 1148.2,1472.6 1152.2,1462.1 1156.2,1451.5 1160.1,1440.7 1164.1,1429.7 1168.1,1418.5 1172.1,1407.2 1176.1,1395.7 1180.0,1384.0 1184.0,1372.1 1188.0,1360.0 1192.0,1347.7 1196.0,1335.2 1199.9,1322.4 1203.9,1309.5 1207.9,1296.4 1211.9,1283.0 1215.9,1269.5 1219.8,1255.7 1223.8,1241.7 1227.8,1227.5 1231.8,1213.1 1235.8,1198.6 1239.7,1183.9 1243.7,1169.0 1247.7,1154.1 1251.7,1139.0 1255.7,1124.0 1259.6,1108.9 1263.6,1093.8 1267.6,1078.8 1271.6,1063.8 1275.6,1049.0 1279.5,1034.3 1283.5,1019.8 1287.5,1005.5 1291.5,991.3 1295.5,977.3 1299.4,963.6 1303.4,950.0 1307.4,936.6 1311.4,923.4 1315.4,910.5 1319.3,897.7 1323.3,885.2 1327.3,872.8 1331.3,860.7 1335.3,848.8 1339.2,837.1 1343.2,825.7 1347.2,814.5 1351.2,803.5 1355.2,792.8 1359.1,782.2 1363.1,772.0 1367.1,762.0 1371.1,752.2 1375.1,742.7 1379.0,733.4 1383.0,724.4 1387.0,715.7 1391.0,707.2 1395.0,699.1 1398.9,691.1 1402.9,683.5 1406.9,676.2 1410.9,669.1 1414.9,662.3 1418.8,655.9 1422.8,649.7 1426.8,643.8 1430.8,638.3 1434.8,633.1 1438.7,628.2 1442.7,623.6 1446.7,619.3 1450.7,615.4 1454.7,611.8 1458.6,608.6 1462.6,605.7 1466.6,603.2 1470.6,601.0 1474.6,599.2 1478.5,597.8 1482.5,596.7 1486.5,596.0 1490.5,595.7 1494.5,595.8 1498.4,596.2 1502.4,597.0 1506.4,598.1 1510.4,599.6 1514.4,601.4 1518.3,603.6 1522.3,606.1 1526.3,609.0 1530.3,612.3 1534.3,615.9 1538.2,619.9 1542.2,624.2 1546.2,628.9 1550.2,634.0 1554.2,639.4 1558.1,645.1 1562.1,651.2 1566.1,657.6 1570.1,664.4 1574.1,671.5 1578.0,678.9 1582.0,686.5 1586.0,694.5 1590.0,702.8 1594.0,711.3 1597.9,720.1 1601.9,729.1 1605.9,738.4 1609.9,747.9 1613.9,757.6 1617.8,767.6 1621.8,777.7 1625.8,788.0 1629.8,798.4 1633.8,809.0 1637.7,819.8 1641.7,830.7 1645.7,841.8 1649.7,852.9 1653.7,864.2 1657.6,875.6 1661.6,887.0 1665.6,898.6 1669.6,910.2 1673.6,921.9 1677.5,933.7 1681.5,945.6 1685.5,957.4 1689.5,969.4 1693.5,981.4 1697.4,993.4 1701.4,1005.5 1705.4,1017.6 1709.4,1029.7 1713.4,1041.8 1717.3,1053.9 1721.3,1066.1 1725.3,1078.2 1729.3,1090.3 1733.3,1102.4 1737.2,1114.4 1741.2,1126.3 1745.2,1138.2 1749.2,1150.0 1753.2,1161.7 1757.1,1173.3 1761.1,1184.8 1765.1,1196.1 1769.1,1207.4 1773.1,1218.5 1777.0,1229.5 1781.0,1240.4 1785.0,1251.1 1789.0,1261.7 1793.0,1272.2 1796.9,1282.6 1800.9,1292.8 1804.9,1302.9 1808.9,1312.9 1812.9,1322.8 1816.8,1332.5 1820.8,1342.1 1824.8,1351.7 1828.8,1361.1 1832.8,1370.4 1836.7,1379.5 1840.7,1388.6 1844.7,1397.6 1848.7,1406.5 1852.7,1415.3 1856.6,1423.9 1860.6,1432.5 1864.6,1441.0 1868.6,1449.4 1872.6,1457.7 1876.5,1466.0 1880.5,1474.1 1884.5,1482.2 1888.5,1490.2 1892.5,1498.1 1896.4,1505.9 1900.4,1513.7 1904.4,1521.4 1908.4,1529.0 1912.4,1536.6 1916.3,1544.1 1920.3,1551.5 1924.3,1558.8 1928.3,1566.1 1932.3,1573.4 1936.2,1580.5 1940.2,1587.6 1944.2,1594.7 1948.2,1601.7 1952.2,1608.6 1956.1,1615.5 1960.1,1622.4 1964.1,1629.2 1968.1,1635.9 1972.1,1642.6 1976.0,1649.2 1980.0,1655.8 1984.0,1662.3 1988.0,1668.8 1992.0,1675.3 1995.9,1681.7 1999.9,1688.0 2003.9,1694.3 2007.9,1700.6 2011.9,1706.9 2015.8,1713.1 2019.8,1719.2 2023.8,1725.3 2027.8,1731.4 2031.8,1737.4 2035.7,1743.4 2039.7,1749.4 2043.7,1755.3 2047.7,1761.2 2051.7,1767.1 2055.6,1772.9 2059.6,1778.7 2063.6,1784.5 2067.6,1790.2 2071.6,1795.9 2075.5,1801.5 2079.5,1807.2 2083.5,1812.7 2087.5,1818.3 2091.5,1823.8 2095.4,1829.3 2099.4,1834.8 2103.4,1840.2 2107.4,1845.6 2111.4,1851.0 2115.3,1856.4 2119.3,1861.7 2123.3,1867.0 2127.3,1872.3 2131.3,1877.5 2135.2,1882.7 2139.2,1887.9 2143.2,1893.1 2147.2,1898.3 2151.2,1903.4 2155.1,1908.5 2159.1,1913.5 2163.1,1918.5 2167.1,1923.5 2171.1,1928.4 2175.0,1933.2 2179.0,1938.0 2183.0,1942.7 2187.0,1947.4 2191.0,1951.9 2194.9,1956.3 2198.9,1960.6 2202.9,1964.8 2206.9,1968.9 2210.9,1972.9 2214.8,1976.7 2218.8,1980.3 2222.8,1983.8 2226.8,1987.1 2230.8,1990.3 2234.7,1993.3 2238.7,1996.2 2242.7,1998.9 2246.7,2001.4 2250.7,2003.7 2254.6,2005.9 2258.6,2007.9 2262.6,2009.8 2266.6,2011.4 2270.6,2013.0 2274.5,2014.3 2278.5,2015.6 2282.5,2016.6"/>
<polyline stroke="#6FB802" points="292.5,2044.1 296.5,2044.1 300.5,2044.1 304.4,2044.1 308.4,2044.0 312.4,2044.0 316.4,2044.0 320.4,2043.9 324.3,2043.9 328.3,2043.8 332.3,2043.7 336.3,2043.7 340.3,2043.6 344.2,2043.5 348.2,2043.4 352.2,2043.3 356.2,2043.2 360.2,2043.1 364.1,2043.0 368.1,2042.9 372.1,2042.7 376.1,2042.6 380.1,2042.5 384.0,2042.3 388.0,2042.2 392.0,2042.1 396.0,2041.9 400.0,2041.8 403.9,2041.6 407.9,2041.4 411.9,2041.3 415.9,2041.1 419.9,2040.9 423.8,2040.8 427.8,2040.6 431.8,2040.4 435.8,2040.2 439.8,2040.0 443.7,2039.9 447.7,2039.7 451.7,2039.5 455.7,2039.3 459.7,2039.1 463.6,2038.9 467.6,2038.7 471.6,2038.5 475.6,2038.3 479.6,2038.1 483.5,2037.9 487.5,2037.7 491.5,2037.4 495.5,2037.2 499.5,2037.0 503.4,2036.7 507.4,2036.5 511.4,2036.3 515.4,2036.0 519.4,2035.7 523.3,2035.4 527.3,2035.2 531.3,2034.9 535.3,2034.6 539.3,2034.2 543.2,2033.9 547.2,2033.6 551.2,2033.2 555.2,2032.9 559.2,2032.5 563.1,2032.2 567.1,2031.8 571.1,2031.4 575.1,2031.0 579.1,2030.6 583.0,2030.2 587.0,2029.7 591.0,2029.3 595.0,2028.9 599.0,2028.4 602.9,2028.0 606.9,2027.5 610.9,2027.0 614.9,2026.5 618.9,2026.0 622.8,2025.5 626.8,2025.0 630.8,2024.4 634.8,2023.9 638.8,2023.3 642.7,2022.7 646.7,2022.1 650.7,2021.5 654.7,2020.9 658.7,2020.2 662.6,2019.5 666.6,2018.8 670.6,2018.0 674.6,2017.3 678.6,2016.5 682.5,2015.7 686.5,2014.8 690.5,2013.9 694.5,2013.0 698.5,2012.0 702.4,2011.0 706.4,2009.9 710.4,2008.8 714.4,2007.6 718.4,2006.4 722.3,2005.2 726.3,2003.9 730.3,2002.5 734.3,2001.1 738.3,1999.6 742.2,1998.0 746.2,1996.4 750.2,1994.8 754.2,1993.0 758.2,1991.2 762.1,1989.4 766.1,1987.5 770.1,1985.5 774.1,1983.5 778.1,1981.4 782.0,1979.3 786.0,1977.1 790.0,1974.8 794.0,1972.6 798.0,1970.2 801.9,1967.9 805.9,1965.4 809.9,1962.9 813.9,1960.4 817.9,1957.8 821.8,1955.1 825.8,1952.4 829.8,1949.6 833.8,1946.8 837.8,1943.9 841.7,1940.9 845.7,1937.8 849.7,1934.7 853.7,1931.5 857.7,1928.2 861.6,1924.8 865.6,1921.4 869.6,1917.9 873.6,1914.3 877.6,1910.7 881.5,1907.0 885.5,1903.2 889.5,1899.3 893.5,1895.5 897.5,1891.5 901.4,1887.5 905.4,1883.5 909.4,1879.4 913.4,1875.3 917.4,1871.2 921.3,1867.0 925.3,1862.7 929.3,1858.5 933.3,1854.2 937.3,1849.8 941.2,1845.4 945.2,1841.0 949.2,1836.5 953.2,1831.9 957.2,1827.4 961.1,1822.7 965.1,1818.0 969.1,1813.3 973.1,1808.5 977.1,1803.6 981.0,1798.6 985.0,1793.6 989.0,1788.6 993.0,1783.4 997.0,1778.2 1000.9,1773.0 1004.9,1767.6 1008.9,1762.2 1012.9,1756.7 1016.9,1751.1 1020.8,1745.4 1024.8,1739.7 1028.8,1733.8 1032.8,1727.9 1036.8,1721.9 1040.7,1715.8 1044.7,1709.5 1048.7,1703.2 1052.7,1696.8 1056.7,1690.2 1060.6,1683.6 1064.6,1676.8 1068.6,1669.8 1072.6,1662.8 1076.6,1655.6 1080.5,1648.3 1084.5,1640.8 1088.5,1633.2 1092.5,1625.4 1096.5,1617.4 1100.4,1609.3 1104.4,1601.0 1108.4,1592.6 1112.4,1583.9 1116.4,1575.0 1120.3,1566.0 1124.3,1556.7 1128.3,1547.3 1132.3,1537.6 1136.3,1527.8 1140.2,1517.8 1144.2,1507.5 1148.2,1497.1 1152.2,1486.5 1156.2,1475.7 1160.1,1464.8 1164.1,1453.7 1168.1,1442.4 1172.1,1431.0 1176.1,1419.4 1180.0,1407.7 1184.0,1395.8 1188.0,1383.7 1192.0,1371.5 1196.0,1359.1 1199.9,1346.5 1203.9,1333.8 1207.9,1320.9 1211.9,1307.8 1215.9,1294.5 1219.8,1281.0 1223.8,1267.4 1227.8,1253.6 1231.8,1239.7 1235.8,1225.6 1239.7,1211.4 1243.7,1197.0 1247.7,1182.5 1251.7,1167.9 1255.7,1153.3 1259.6,1138.6 1263.6,1123.8 1267.6,1109.1 1271.6,1094.3 1275.6,1079.7 1279.5,1065.1 1283.5,1050.6 1287.5,1036.2 1291.5,1022.0 1295.5,1007.9 1299.4,994.0 1303.4,980.3 1307.4,966.7 1311.4,953.3 1315.4,940.1 1319.3,927.1 1323.3,914.3 1327.3,901.7 1331.3,889.3 1335.3,877.1 1339.2,865.1 1343.2,853.3 1347.2,841.8 1351.2,830.4 1355.2,819.4 1359.1,808.5 1363.1,797.9 1367.1,787.6 1371.1,777.5 1375.1,767.6 1379.0,758.1 1383.0,748.8 1387.0,739.8 1391.0,731.0 1395.0,722.6 1398.9,714.4 1402.9,706.6 1406.9,699.0 1410.9,691.8 1414.9,684.8 1418.8,678.2 1422.8,671.9 1426.8,666.0 1430.8,660.3 1434.8,655.0 1438.7,650.0 1442.7,645.4 1446.7,641.1 1450.7,637.2 1454.7,633.6 1458.6,630.4 1462.6,627.6 1466.6,625.1 1470.6,622.9 1474.6,621.2 1478.5,619.8 1482.5,618.8 1486.5,618.1 1490.5,617.8 1494.5,617.9 1498.4,618.4 1502.4,619.2 1506.4,620.4 1510.4,621.9 1514.4,623.8 1518.3,626.1 1522.3,628.7 1526.3,631.6 1530.3,635.0 1534.3,638.6 1538.2,642.7 1542.2,647.1 1546.2,651.8 1550.2,656.9 1554.2,662.3 1558.1,668.0 1562.1,674.1 1566.1,680.5 1570.1,687.2 1574.1,694.2 1578.0,701.5 1582.0,709.1 1586.0,717.0 1590.0,725.1 1594.0,733.6 1597.9,742.3 1601.9,751.2 1605.9,760.4 1609.9,769.8 1613.9,779.4 1617.8,789.3 1621.8,799.3 1625.8,809.6 1629.8,820.0 1633.8,830.6 1637.7,841.4 1641.7,852.4 1645.7,863.5 1649.7,874.8 1653.7,886.2 1657.6,897.7 1661.6,909.4 1665.6,921.1 1669.6,933.0 1673.6,945.0 1677.5,957.1 1681.5,969.3 1685.5,981.6 1689.5,994.0 1693.5,1006.4 1697.4,1018.9 1701.4,1031.5 1705.4,1044.1 1709.4,1056.8 1713.4,1069.5 1717.3,1082.2 1721.3,1094.9 1725.3,1107.6 1729.3,1120.2 1733.3,1132.8 1737.2,1145.3 1741.2,1157.6 1745.2,1169.9 1749.2,1182.0 1753.2,1194.0 1757.1,1205.9 1761.1,1217.6 1765.1,1229.1 1769.1,1240.5 1773.1,1251.7 1777.0,1262.8 1781.0,1273.7 1785.0,1284.5 1789.0,1295.1 1793.0,1305.5 1796.9,1315.8 1800.9,1326.0 1804.9,1336.0 1808.9,1345.9 1812.9,1355.6 1816.8,1365.2 1820.8,1374.7 1824.8,1384.0 1828.8,1393.3 1832.8,1402.4 1836.7,1411.3 1840.7,1420.2 1844.7,1429.0 1848.7,1437.6 1852.7,1446.1 1856.6,1454.6 1860.6,1462.9 1864.6,1471.2 1868.6,1479.3 1872.6,1487.4 1876.5,1495.4 1880.5,1503.2 1884.5,1511.0 1888.5,1518.8 1892.5,1526.4 1896.4,1534.0 1900.4,1541.4 1904.4,1548.9 1908.4,1556.2 1912.4,1563.5 1916.3,1570.7 1920.3,1577.8 1924.3,1584.9 1928.3,1591.9 1932.3,1598.8 1936.2,1605.7 1940.2,1612.5 1944.2,1619.3 1948.2,1626.0 1952.2,1632.6 1956.1,1639.2 1960.1,1645.8 1964.1,1652.3 1968.1,1658.7 1972.1,1665.1 1976.0,1671.5 1980.0,1677.8 1984.0,1684.0 1988.0,1690.2 1992.0,1696.4 1995.9,1702.5 1999.9,1708.6 2003.9,1714.6 2007.9,1720.6 2011.9,1726.5 2015.8,1732.5 2019.8,1738.3 2023.8,1744.2 2027.8,1750.0 2031.8,1755.7 2035.7,1761.4 2039.7,1767.1 2043.7,1772.8 2047.7,1778.4 2051.7,1784.0 2055.6,1789.5 2059.6,1795.0 2063.6,1800.5 2067.6,1805.9 2071.6,1811.3 2075.5,1816.7 2079.5,1822.1 2083.5,1827.4 2087.5,1832.7 2091.5,1837.9 2095.4,1843.1 2099.4,1848.3 2103.4,1853.5 2107.4,1858.6 2111.4,1863.7 2115.3,1868.8 2119.3,1873.9 2123.3,1879.0 2127.3,1884.0 2131.3,1889.0 2135.2,1894.0 2139.2,1898.9 2143.2,1903.8 2147.2,1908.7 2151.2,1913.6 2155.1,1918.5 2159.1,1923.3 2163.1,1928.0 2167.1,1932.8 2171.1,1937.4 2175.0,1942.0 2179.0,1946.6 2183.0,1951.0 2187.0,1955.4 2191.0,1959.7 2194.9,1963.9 2198.9,1967.9 2202.9,1971.8 2206.9,1975.6 2210.9,1979.3 2214.8,1982.8 2218.8,1986.2 2222.8,1989.4 2226.8,1992.5 2230.8,1995.4 2234.7,1998.2 2238.7,2000.8 2242.7,2003.2 2246.7,2005.5 2250.7,2007.7 2254.6,2009.7 2258.6,2011.5 2262.6,2013.2 2266.6,2014.7 2270.6,2016.1 2274.5,2017.3 2278.5,2018.4 2282.5,2019.4"/>
<polyline stroke="#534c4c" points="292.5,2044.1 296.5,2044.1 300.5,2044.1 304.4,2044.1 308.4,2044.0 312.4,2044.0 316.4,2044.0 320.4,2043.9 324.3,2043.9 328.3,2043.8 332.3,2043.7 336.3,2043.7 340.3,2043.6 344.2,2043.5 348.2,2043.4 352.2,2043.3 356.2,2043.2 360.2,2043.1 364.1,2043.0 368.1,2042.9 372.1,2042.8 376.1,2042.6 380.1,2042.5 384.0,2042.4 388.0,2042.2 392.0,2042.1 396.0,2041.9 400.0,2041.8 403.9,2041.6 407.9,2041.5 411.9,2041.3 415.9,2041.2 419.9,2041.0 423.8,2040.8 427.8,2040.6 431.8,2040.5 435.8,2040.3 439.8,2040.1 443.7,2039.9 447.7,2039.7 451.7,2039.5 455.7,2039.3 459.7,2039.1 463.6,2038.9 467.6,2038.7 471.6,2038.5 475.6,2038.3 479.6,2038.1 483.5,2037.9 487.5,2037.6 491.5,2037.4 495.5,2037.2 499.5,2036.9 503.4,2036.6 507.4,2036.4 511.4,2036.1 515.4,2035.8 519.4,2035.5 523.3,2035.2 527.3,2034.8 531.3,2034.5 535.3,2034.2 539.3,2033.8 543.2,2033.4 547.2,2033.0 551.2,2032.6 555.2,2032.2 559.2,2031.8 563.1,2031.4 567.1,2030.9 571.1,2030.5 575.1,2030.0 579.1,2029.5 583.0,2029.0 587.0,2028.6 591.0,2028.1 595.0,2027.5 599.0,2027.0 602.9,2026.5 606.9,2026.0 610.9,2025.4 614.9,2024.9 618.9,2024.3 622.8,2023.7 626.8,2023.1 630.8,2022.6 634.8,2021.9 638.8,2021.3 642.7,2020.7 646.7,2020.0 650.7,2019.4 654.7,2018.7 658.7,2018.0 662.6,2017.3 666.6,2016.5 670.6,2015.8 674.6,2015.0 678.6,2014.2 682.5,2013.3 686.5,2012.5 690.5,2011.6 694.5,2010.7 698.5,2009.7 702.4,2008.8 706.4,2007.8 710.4,2006.7 714.4,2005.7 718.4,2004.6 722.3,2003.4 726.3,2002.3 730.3,2001.1 734.3,1999.8 738.3,1998.5 742.2,1997.2 746.2,1995.8 750.2,1994.4 754.2,1992.9 758.2,1991.4 762.1,1989.9 766.1,1988.3 770.1,1986.6 774.1,1984.9 778.1,1983.1 782.0,1981.3 786.0,1979.4 790.0,1977.4 794.0,1975.4 798.0,1973.3 801.9,1971.2 805.9,1968.9 809.9,1966.7 813.9,1964.3 817.9,1961.8 821.8,1959.3 825.8,1956.7 829.8,1954.0 833.8,1951.3 837.8,1948.5 841.7,1945.6 845.7,1942.6 849.7,1939.6 853.7,1936.5 857.7,1933.3 861.6,1930.1 865.6,1926.8 869.6,1923.4 873.6,1920.1 877.6,1916.6 881.5,1913.1 885.5,1909.6 889.5,1906.0 893.5,1902.4 897.5,1898.7 901.4,1895.0 905.4,1891.2 909.4,1887.4 913.4,1883.6 917.4,1879.7 921.3,1875.8 925.3,1871.9 929.3,1867.9 933.3,1863.9 937.3,1859.8 941.2,1855.7 945.2,1851.6 949.2,1847.4 953.2,1843.2 957.2,1838.9 961.1,1834.6 965.1,1830.2 969.1,1825.8 973.1,1821.3 977.1,1816.8 981.0,1812.2 985.0,1807.5 989.0,1802.8 993.0,1798.0 997.0,1793.2 1000.9,1788.2 1004.9,1783.2 1008.9,1778.2 1012.9,1773.0 1016.9,1767.8 1020.8,1762.5 1024.8,1757.1 1028.8,1751.6 1032.8,1746.1 1036.8,1740.4 1040.7,1734.7 1044.7,1728.8 1048.7,1722.9 1052.7,1716.8 1056.7,1710.6 1060.6,1704.3 1064.6,1697.9 1068.6,1691.4 1072.6,1684.7 1076.6,1677.9 1080.5,1670.9 1084.5,1663.8 1088.5,1656.6 1092.5,1649.1 1096.5,1641.5 1100.4,1633.7 1104.4,1625.7 1108.4,1617.5 1112.4,1609.1 1116.4,1600.5 1120.3,1591.7 1124.3,1582.7 1128.3,1573.4 1132.3,1563.9 1136.3,1554.1 1140.2,1544.1 1144.2,1533.8 1148.2,1523.3 1152.2,1512.6 1156.2,1501.7 1160.1,1490.5 1164.1,1479.2 1168.1,1467.7 1172.1,1456.0 1176.1,1444.2 1180.0,1432.2 1184.0,1420.0 1188.0,1407.8 1192.0,1395.3 1196.0,1382.7 1199.9,1370.0 1203.9,1357.1 1207.9,1344.1 1211.9,1330.9 1215.9,1317.6 1219.8,1304.2 1223.8,1290.6 1227.8,1276.8 1231.8,1262.9 1235.8,1248.9 1239.7,1234.8 1243.7,1220.5 1247.7,1206.1 1251.7,1191.7 1255.7,1177.2 1259.6,1162.6 1263.6,1148.0 1267.6,1133.4 1271.6,1118.7 1275.6,1104.2 1279.5,1089.6 1283.5,1075.2 1287.5,1060.8 1291.5,1046.6 1295.5,1032.4 1299.4,1018.5 1303.4,1004.7 1307.4,991.0 1311.4,977.6 1315.4,964.3 1319.3,951.2 1323.3,938.3 1327.3,925.6 1331.3,913.1 1335.3,900.8 1339.2,888.7 1343.2,876.9 1347.2,865.2 1351.2,853.8 1355.2,842.6 1359.1,831.7 1363.1,821.0 1367.1,810.6 1371.1,800.4 1375.1,790.5 1379.0,780.8 1383.0,771.4 1387.0,762.4 1391.0,753.5 1395.0,745.0 1398.9,736.8 1402.9,728.9 1406.9,721.3 1410.9,714.0 1414.9,707.0 1418.8,700.4 1422.8,694.0 1426.8,688.0 1430.8,682.4 1434.8,677.1 1438.7,672.1 1442.7,667.5 1446.7,663.2 1450.7,659.2 1454.7,655.7 1458.6,652.5 1462.6,649.6 1466.6,647.1 1470.6,645.0 1474.6,643.3 1478.5,641.9 1482.5,640.9 1486.5,640.2 1490.5,640.0 1494.5,640.1 1498.4,640.6 1502.4,641.5 1506.4,642.8 1510.4,644.4 1514.4,646.4 1518.3,648.8 1522.3,651.5 1526.3,654.6 1530.3,658.0 1534.3,661.8 1538.2,665.9 1542.2,670.3 1546.2,675.0 1550.2,680.1 1554.2,685.5 1558.1,691.1 1562.1,697.1 1566.1,703.4 1570.1,709.9 1574.1,716.8 1578.0,723.9 1582.0,731.3 1586.0,738.9 1590.0,746.8 1594.0,754.9 1597.9,763.3 1601.9,771.9 1605.9,780.8 1609.9,789.9 1613.9,799.2 1617.8,808.7 1621.8,818.4 1625.8,828.3 1629.8,838.5 1633.8,848.8 1637.7,859.3 1641.7,870.0 1645.7,880.9 1649.7,891.9 1653.7,903.1 1657.6,914.5 1661.6,926.1 1665.6,937.7 1669.6,949.6 1673.6,961.6 1677.5,973.7 1681.5,986.0 1685.5,998.4 1689.5,1010.9 1693.5,1023.6 1697.4,1036.3 1701.4,1049.2 1705.4,1062.2 1709.4,1075.2 1713.4,1088.3 1717.3,1101.3 1721.3,1114.4 1725.3,1127.5 1729.3,1140.5 1733.3,1153.4 1737.2,1166.2 1741.2,1178.9 1745.2,1191.4 1749.2,1203.8 1753.2,1216.0 1757.1,1228.1 1761.1,1240.0 1765.1,1251.7 1769.1,1263.3 1773.1,1274.7 1777.0,1285.9 1781.0,1296.9 1785.0,1307.7 1789.0,1318.4 1793.0,1328.9 1796.9,1339.3 1800.9,1349.5 1804.9,1359.5 1808.9,1369.4 1812.9,1379.1 1816.8,1388.7 1820.8,1398.2 1824.8,1407.5 1828.8,1416.7 1832.8,1425.8 1836.7,1434.7 1840.7,1443.6 1844.7,1452.3 1848.7,1460.9 1852.7,1469.4 1856.6,1477.7 1860.6,1486.0 1864.6,1494.2 1868.6,1502.3 1872.6,1510.3 1876.5,1518.1 1880.5,1525.9 1884.5,1533.7 1888.5,1541.3 1892.5,1548.8 1896.4,1556.3 1900.4,1563.6 1904.4,1570.9 1908.4,1578.2 1912.4,1585.3 1916.3,1592.4 1920.3,1599.4 1924.3,1606.3 1928.3,1613.2 1932.3,1620.0 1936.2,1626.7 1940.2,1633.3 1944.2,1639.9 1948.2,1646.5 1952.2,1653.0 1956.1,1659.4 1960.1,1665.8 1964.1,1672.1 1968.1,1678.3 1972.1,1684.5 1976.0,1690.7 1980.0,1696.8 1984.0,1702.9 1988.0,1708.9 1992.0,1714.8 1995.9,1720.7 1999.9,1726.6 2003.9,1732.4 2007.9,1738.2 2011.9,1743.9 2015.8,1749.6 2019.8,1755.3 2023.8,1760.9 2027.8,1766.4 2031.8,1772.0 2035.7,1777.4 2039.7,1782.9 2043.7,1788.3 2047.7,1793.7 2051.7,1799.0 2055.6,1804.3 2059.6,1809.6 2063.6,1814.8 2067.6,1820.0 2071.6,1825.1 2075.5,1830.2 2079.5,1835.3 2083.5,1840.4 2087.5,1845.4 2091.5,1850.4 2095.4,1855.4 2099.4,1860.3 2103.4,1865.2 2107.4,1870.1 2111.4,1874.9 2115.3,1879.8 2119.3,1884.6 2123.3,1889.4 2127.3,1894.1 2131.3,1898.9 2135.2,1903.6 2139.2,1908.3 2143.2,1913.0 2147.2,1917.6 2151.2,1922.2 2155.1,1926.8 2159.1,1931.3 2163.1,1935.8 2167.1,1940.3 2171.1,1944.6 2175.0,1948.9 2179.0,1953.2 2183.0,1957.3 2187.0,1961.4 2191.0,1965.4 2194.9,1969.2 2198.9,1972.9 2202.9,1976.5 2206.9,1980.0 2210.9,1983.4 2214.8,1986.6 2218.8,1989.7 2222.8,1992.6 2226.8,1995.4 2230.8,1998.0 2234.7,2000.5 2238.7,2002.9 2242.7,2005.1 2246.7,2007.2 2250.7,2009.2 2254.6,2011.0 2258.6,2012.6 2262.6,2014.2 2266.6,2015.6 2270.6,2016.8 2274.5,2017.9 2278.5,2018.9 2282.5,2019.8"/>
<polyline stroke="#F14040" points="292.5,2044.1 296.5,2044.1 300.5,2044.1 304.4,2044.0 308.4,2044.0 312.4,2044.0 316.4,2043.9 320.4,2043.8 324.3,2043.8 328.3,2043.7 332.3,2043.6 336.3,2043.5 340.3,2043.4 344.2,2043.3 348.2,2043.1 352.2,2043.0 356.2,2042.9 360.2,2042.7 364.1,2042.6 368.1,2042.4 372.1,2042.2 376.1,2042.1 380.1,2041.9 384.0,2041.7 388.0,2041.5 392.0,2041.3 396.0,2041.1 400.0,2040.9 403.9,2040.7 407.9,2040.5 411.9,2040.3 415.9,2040.1 419.9,2039.8 423.8,2039.6 427.8,2039.4 431.8,2039.1 435.8,2038.9 439.8,2038.6 443.7,2038.4 447.7,2038.1 451.7,2037.9 455.7,2037.6 459.7,2037.4 463.6,2037.1 467.6,2036.9 471.6,2036.6 475.6,2036.3 479.6,2036.0 483.5,2035.7 487.5,2035.5 491.5,2035.2 495.5,2034.9 499.5,2034.5 503.4,2034.2 507.4,2033.9 511.4,2033.5 515.4,2033.2 519.4,2032.8 523.3,2032.4 527.3,2032.0 531.3,2031.6 535.3,2031.2 539.3,2030.7 543.2,2030.3 547.2,2029.8 551.2,2029.4 555.2,2028.9 559.2,2028.4 563.1,2027.9 567.1,2027.4 571.1,2026.9 575.1,2026.4 579.1,2025.9 583.0,2025.3 587.0,2024.8 591.0,2024.2 595.0,2023.7 599.0,2023.1 602.9,2022.5 606.9,2022.0 610.9,2021.4 614.9,2020.8 618.9,2020.2 622.8,2019.6 626.8,2019.0 630.8,2018.4 634.8,2017.8 638.8,2017.1 642.7,2016.5 646.7,2015.9 650.7,2015.2 654.7,2014.6 658.7,2013.9 662.6,2013.2 666.6,2012.5 670.6,2011.8 674.6,2011.1 678.6,2010.4 682.5,2009.6 686.5,2008.9 690.5,2008.1 694.5,2007.3 698.5,2006.5 702.4,2005.6 706.4,2004.8 710.4,2003.9 714.4,2003.0 718.4,2002.0 722.3,2001.1 726.3,2000.0 730.3,1999.0 734.3,1997.9 738.3,1996.8 742.2,1995.7 746.2,1994.5 750.2,1993.3 754.2,1992.0 758.2,1990.7 762.1,1989.4 766.1,1988.0 770.1,1986.5 774.1,1985.0 778.1,1983.4 782.0,1981.8 786.0,1980.1 790.0,1978.4 794.0,1976.5 798.0,1974.6 801.9,1972.7 805.9,1970.6 809.9,1968.5 813.9,1966.2 817.9,1964.0 821.8,1961.6 825.8,1959.1 829.8,1956.6 833.8,1954.0 837.8,1951.3 841.7,1948.5 845.7,1945.7 849.7,1942.8 853.7,1939.8 857.7,1936.8 861.6,1933.8 865.6,1930.7 869.6,1927.5 873.6,1924.3 877.6,1921.1 881.5,1917.8 885.5,1914.5 889.5,1911.2 893.5,1907.8 897.5,1904.4 901.4,1900.9 905.4,1897.4 909.4,1893.9 913.4,1890.4 917.4,1886.8 921.3,1883.2 925.3,1879.6 929.3,1875.9 933.3,1872.2 937.3,1868.4 941.2,1864.6 945.2,1860.8 949.2,1856.9 953.2,1853.0 957.2,1849.0 961.1,1845.0 965.1,1841.0 969.1,1836.9 973.1,1832.8 977.1,1828.6 981.0,1824.3 985.0,1820.0 989.0,1815.7 993.0,1811.3 997.0,1806.8 1000.9,1802.2 1004.9,1797.6 1008.9,1792.9 1012.9,1788.1 1016.9,1783.3 1020.8,1778.4 1024.8,1773.4 1028.8,1768.3 1032.8,1763.1 1036.8,1757.8 1040.7,1752.5 1044.7,1747.0 1048.7,1741.5 1052.7,1735.8 1056.7,1730.0 1060.6,1724.2 1064.6,1718.1 1068.6,1712.0 1072.6,1705.7 1076.6,1699.3 1080.5,1692.8 1084.5,1686.1 1088.5,1679.2 1092.5,1672.1 1096.5,1664.9 1100.4,1657.5 1104.4,1649.8 1108.4,1642.0 1112.4,1633.9 1116.4,1625.6 1120.3,1617.0 1124.3,1608.2 1128.3,1599.1 1132.3,1589.7 1136.3,1580.0 1140.2,1570.1 1144.2,1559.7 1148.2,1549.1 1152.2,1538.2 1156.2,1527.0 1160.1,1515.5 1164.1,1503.7 1168.1,1491.7 1172.1,1479.5 1176.1,1467.1 1180.0,1454.5 1184.0,1441.8 1188.0,1429.0 1192.0,1416.1 1196.0,1403.0 1199.9,1389.9 1203.9,1376.6 1207.9,1363.3 1211.9,1349.8 1215.9,1336.3 1219.8,1322.7 1223.8,1308.9 1227.8,1295.1 1231.8,1281.3 1235.8,1267.3 1239.7,1253.3 1243.7,1239.2 1247.7,1225.1 1251.7,1210.9 1255.7,1196.7 1259.6,1182.4 1263.6,1168.2 1267.6,1153.9 1271.6,1139.7 1275.6,1125.4 1279.5,1111.3 1283.5,1097.1 1287.5,1083.1 1291.5,1069.1 1295.5,1055.3 1299.4,1041.6 1303.4,1028.0 1307.4,1014.5 1311.4,1001.2 1315.4,988.0 1319.3,975.0 1323.3,962.1 1327.3,949.5 1331.3,937.0 1335.3,924.7 1339.2,912.6 1343.2,900.7 1347.2,889.0 1351.2,877.5 1355.2,866.3 1359.1,855.2 1363.1,844.5 1367.1,833.9 1371.1,823.6 1375.1,813.6 1379.0,803.8 1383.0,794.4 1387.0,785.1 1391.0,776.2 1395.0,767.6 1398.9,759.3 1402.9,751.3 1406.9,743.6 1410.9,736.2 1414.9,729.1 1418.8,722.4 1422.8,716.0 1426.8,710.0 1430.8,704.3 1434.8,699.0 1438.7,694.0 1442.7,689.3 1446.7,685.0 1450.7,681.1 1454.7,677.6 1458.6,674.4 1462.6,671.5 1466.6,669.1 1470.6,667.0 1474.6,665.3 1478.5,663.9 1482.5,662.9 1486.5,662.3 1490.5,662.1 1494.5,662.3 1498.4,662.9 1502.4,663.8 1506.4,665.1 1510.4,666.8 1514.4,668.9 1518.3,671.4 1522.3,674.2 1526.3,677.3 1530.3,680.8 1534.3,684.6 1538.2,688.7 1542.2,693.1 1546.2,697.9 1550.2,702.9 1554.2,708.2 1558.1,713.8 1562.1,719.7 1566.1,725.9 1570.1,732.3 1574.1,739.0 1578.0,745.9 1582.0,753.1 1586.0,760.5 1590.0,768.2 1594.0,776.1 1597.9,784.2 1601.9,792.6 1605.9,801.2 1609.9,810.1 1613.9,819.1 1617.8,828.4 1621.8,837.9 1625.8,847.6 1629.8,857.5 1633.8,867.6 1637.7,877.9 1641.7,888.4 1645.7,899.1 1649.7,910.0 1653.7,921.1 1657.6,932.4 1661.6,943.9 1665.6,955.6 1669.6,967.5 1673.6,979.5 1677.5,991.8 1681.5,1004.2 1685.5,1016.8 1689.5,1029.5 1693.5,1042.5 1697.4,1055.5 1701.4,1068.7 1705.4,1082.0 1709.4,1095.4 1713.4,1108.8 1717.3,1122.2 1721.3,1135.6 1725.3,1149.0 1729.3,1162.3 1733.3,1175.4 1737.2,1188.5 1741.2,1201.3 1745.2,1214.0 1749.2,1226.6 1753.2,1238.9 1757.1,1251.1 1761.1,1263.1 1765.1,1274.9 1769.1,1286.4 1773.1,1297.8 1777.0,1309.0 1781.0,1320.1 1785.0,1330.9 1789.0,1341.5 1793.0,1352.0 1796.9,1362.3 1800.9,1372.4 1804.9,1382.4 1808.9,1392.2 1812.9,1401.9 1816.8,1411.4 1820.8,1420.8 1824.8,1430.0 1828.8,1439.1 1832.8,1448.1 1836.7,1457.0 1840.7,1465.7 1844.7,1474.3 1848.7,1482.8 1852.7,1491.2 1856.6,1499.4 1860.6,1507.6 1864.6,1515.7 1868.6,1523.6 1872.6,1531.5 1876.5,1539.2 1880.5,1546.9 1884.5,1554.5 1888.5,1561.9 1892.5,1569.3 1896.4,1576.6 1900.4,1583.8 1904.4,1591.0 1908.4,1598.0 1912.4,1605.0 1916.3,1611.9 1920.3,1618.7 1924.3,1625.5 1928.3,1632.2 1932.3,1638.8 1936.2,1645.3 1940.2,1651.8 1944.2,1658.2 1948.2,1664.6 1952.2,1670.9 1956.1,1677.1 1960.1,1683.3 1964.1,1689.4 1968.1,1695.4 1972.1,1701.4 1976.0,1707.4 1980.0,1713.3 1984.0,1719.1 1988.0,1724.9 1992.0,1730.7 1995.9,1736.4 1999.9,1742.0 2003.9,1747.6 2007.9,1753.2 2011.9,1758.7 2015.8,1764.2 2019.8,1769.6 2023.8,1775.0 2027.8,1780.3 2031.8,1785.7 2035.7,1790.9 2039.7,1796.1 2043.7,1801.3 2047.7,1806.5 2051.7,1811.6 2055.6,1816.6 2059.6,1821.7 2063.6,1826.6 2067.6,1831.6 2071.6,1836.5 2075.5,1841.4 2079.5,1846.3 2083.5,1851.1 2087.5,1855.9 2091.5,1860.7 2095.4,1865.4 2099.4,1870.1 2103.4,1874.8 2107.4,1879.5 2111.4,1884.1 2115.3,1888.7 2119.3,1893.3 2123.3,1897.9 2127.3,1902.5 2131.3,1907.1 2135.2,1911.6 2139.2,1916.1 2143.2,1920.7 2147.2,1925.1 2151.2,1929.6 2155.1,1934.1 2159.1,1938.5 2163.1,1942.8 2167.1,1947.1 2171.1,1951.4 2175.0,1955.6 2179.0,1959.7 2183.0,1963.7 2187.0,1967.6 2191.0,1971.4 2194.9,1975.1 2198.9,1978.7 2202.9,1982.2 2206.9,1985.5 2210.9,1988.7 2214.8,1991.7 2218.8,1994.6 2222.8,1997.4 2226.8,2000.0 2230.8,2002.5 2234.7,2004.8 2238.7,2007.0 2242.7,2009.1 2246.7,2011.0 2250.7,2012.8 2254.6,2014.5 2258.6,2016.0 2262.6,2017.4 2266.6,2018.7 2270.6,2019.8 2274.5,2020.8 2278.5,2021.8 2282.5,2022.6"/>
<polyline stroke="#1A6FDF" points="292.5,2053.0 296.5,2053.0 300.5,2053.0 304.4,2052.9 308.4,2052.9 312.4,2052.9 316.4,2052.8 320.4,2052.8 324.3,2052.8 328.3,2052.7 332.3,2052.6 336.3,2052.6 340.3,2052.5 344.2,2052.4 348.2,2052.3 352.2,2052.2 356.2,2052.1 360.2,2052.0 364.1,2051.9 368.1,2051.8 372.1,2051.7 376.1,2051.6 380.1,2051.5 384.0,2051.3 388.0,2051.2 392.0,2051.1 396.0,2050.9 400.0,2050.8 403.9,2050.6 407.9,2050.5 411.9,2050.3 415.9,2050.1 419.9,2050.0 423.8,2049.8 427.8,2049.6 431.8,2049.4 435.8,2049.2 439.8,2049.1 443.7,2048.9 447.7,2048.7 451.7,2048.5 455.7,2048.3 459.7,2048.1 463.6,2047.9 467.6,2047.6 471.6,2047.4 475.6,2047.2 479.6,2047.0 483.5,2046.8 487.5,2046.5 491.5,2046.3 495.5,2046.0 499.5,2045.7 503.4,2045.4 507.4,2045.0 511.4,2044.7 515.4,2044.3 519.4,2043.8 523.3,2043.4 527.3,2042.9 531.3,2042.5 535.3,2041.9 539.3,2041.4 543.2,2040.9 547.2,2040.3 551.2,2039.7 555.2,2039.1 559.2,2038.5 563.1,2037.9 567.1,2037.2 571.1,2036.6 575.1,2035.9 579.1,2035.2 583.0,2034.5 587.0,2033.8 591.0,2033.1 595.0,2032.4 599.0,2031.7 602.9,2030.9 606.9,2030.2 610.9,2029.5 614.9,2028.7 618.9,2028.0 622.8,2027.3 626.8,2026.5 630.8,2025.8 634.8,2025.0 638.8,2024.2 642.7,2023.5 646.7,2022.7 650.7,2021.9 654.7,2021.2 658.7,2020.4 662.6,2019.6 666.6,2018.8 670.6,2017.9 674.6,2017.1 678.6,2016.3 682.5,2015.4 686.5,2014.5 690.5,2013.6 694.5,2012.7 698.5,2011.8 702.4,2010.8 706.4,2009.9 710.4,2008.8 714.4,2007.8 718.4,2006.8 722.3,2005.7 726.3,2004.5 730.3,2003.4 734.3,2002.2 738.3,2001.0 742.2,1999.7 746.2,1998.4 750.2,1997.1 754.2,1995.7 758.2,1994.3 762.1,1992.8 766.1,1991.3 770.1,1989.8 774.1,1988.2 778.1,1986.5 782.0,1984.8 786.0,1983.1 790.0,1981.3 794.0,1979.4 798.0,1977.5 801.9,1975.6 805.9,1973.5 809.9,1971.5 813.9,1969.3 817.9,1967.1 821.8,1964.8 825.8,1962.5 829.8,1960.1 833.8,1957.7 837.8,1955.2 841.7,1952.6 845.7,1950.0 849.7,1947.3 853.7,1944.6 857.7,1941.8 861.6,1939.0 865.6,1936.1 869.6,1933.2 873.6,1930.2 877.6,1927.3 881.5,1924.2 885.5,1921.2 889.5,1918.1 893.5,1915.0 897.5,1911.8 901.4,1908.6 905.4,1905.4 909.4,1902.1 913.4,1898.8 917.4,1895.5 921.3,1892.1 925.3,1888.7 929.3,1885.3 933.3,1881.9 937.3,1878.4 941.2,1874.8 945.2,1871.3 949.2,1867.7 953.2,1864.0 957.2,1860.4 961.1,1856.6 965.1,1852.9 969.1,1849.1 973.1,1845.2 977.1,1841.3 981.0,1837.4 985.0,1833.4 989.0,1829.4 993.0,1825.3 997.0,1821.1 1000.9,1816.9 1004.9,1812.6 1008.9,1808.3 1012.9,1803.9 1016.9,1799.4 1020.8,1794.8 1024.8,1790.2 1028.8,1785.5 1032.8,1780.7 1036.8,1775.8 1040.7,1770.8 1044.7,1765.8 1048.7,1760.6 1052.7,1755.4 1056.7,1750.0 1060.6,1744.5 1064.6,1739.0 1068.6,1733.3 1072.6,1727.4 1076.6,1721.5 1080.5,1715.4 1084.5,1709.1 1088.5,1702.7 1092.5,1696.1 1096.5,1689.4 1100.4,1682.4 1104.4,1675.3 1108.4,1667.9 1112.4,1660.3 1116.4,1652.5 1120.3,1644.4 1124.3,1636.0 1128.3,1627.4 1132.3,1618.4 1136.3,1609.1 1140.2,1599.5 1144.2,1589.4 1148.2,1579.0 1152.2,1568.2 1156.2,1557.1 1160.1,1545.5 1164.1,1533.5 1168.1,1521.2 1172.1,1508.6 1176.1,1495.7 1180.0,1482.6 1184.0,1469.3 1188.0,1455.9 1192.0,1442.3 1196.0,1428.8 1199.9,1415.1 1203.9,1401.5 1207.9,1387.8 1211.9,1374.1 1215.9,1360.5 1219.8,1346.7 1223.8,1333.0 1227.8,1319.3 1231.8,1305.5 1235.8,1291.8 1239.7,1278.0 1243.7,1264.3 1247.7,1250.5 1251.7,1236.7 1255.7,1222.9 1259.6,1209.2 1263.6,1195.4 1267.6,1181.6 1271.6,1167.8 1275.6,1154.0 1279.5,1140.3 1283.5,1126.5 1287.5,1112.8 1291.5,1099.0 1295.5,1085.3 1299.4,1071.6 1303.4,1058.0 1307.4,1044.4 1311.4,1030.8 1315.4,1017.3 1319.3,1003.9 1323.3,990.5 1327.3,977.3 1331.3,964.2 1335.3,951.2 1339.2,938.4 1343.2,925.8 1347.2,913.4 1351.2,901.2 1355.2,889.3 1359.1,877.6 1363.1,866.2 1367.1,855.1 1371.1,844.3 1375.1,833.9 1379.0,823.8 1383.0,814.1 1387.0,804.8 1391.0,795.8 1395.0,787.2 1398.9,779.0 1402.9,771.2 1406.9,763.8 1410.9,756.7 1414.9,750.0 1418.8,743.6 1422.8,737.6 1426.8,731.9 1430.8,726.6 1434.8,721.5 1438.7,716.8 1442.7,712.4 1446.7,708.2 1450.7,704.4 1454.7,700.9 1458.6,697.7 1462.6,694.8 1466.6,692.2 1470.6,690.0 1474.6,688.1 1478.5,686.6 1482.5,685.5 1486.5,684.8 1490.5,684.4 1494.5,684.5 1498.4,685.1 1502.4,686.0 1506.4,687.3 1510.4,689.1 1514.4,691.2 1518.3,693.6 1522.3,696.5 1526.3,699.6 1530.3,703.1 1534.3,707.0 1538.2,711.1 1542.2,715.5 1546.2,720.3 1550.2,725.3 1554.2,730.6 1558.1,736.2 1562.1,742.1 1566.1,748.2 1570.1,754.6 1574.1,761.2 1578.0,768.1 1582.0,775.3 1586.0,782.7 1590.0,790.4 1594.0,798.2 1597.9,806.4 1601.9,814.7 1605.9,823.3 1609.9,832.1 1613.9,841.2 1617.8,850.5 1621.8,860.0 1625.8,869.7 1629.8,879.6 1633.8,889.8 1637.7,900.2 1641.7,910.8 1645.7,921.6 1649.7,932.6 1653.7,943.9 1657.6,955.3 1661.6,967.0 1665.6,978.9 1669.6,991.0 1673.6,1003.3 1677.5,1015.8 1681.5,1028.5 1685.5,1041.4 1689.5,1054.5 1693.5,1067.8 1697.4,1081.2 1701.4,1094.7 1705.4,1108.3 1709.4,1121.9 1713.4,1135.5 1717.3,1149.1 1721.3,1162.6 1725.3,1176.0 1729.3,1189.3 1733.3,1202.4 1737.2,1215.4 1741.2,1228.2 1745.2,1240.8 1749.2,1253.2 1753.2,1265.4 1757.1,1277.5 1761.1,1289.3 1765.1,1300.9 1769.1,1312.3 1773.1,1323.5 1777.0,1334.6 1781.0,1345.4 1785.0,1356.1 1789.0,1366.6 1793.0,1376.9 1796.9,1387.0 1800.9,1397.0 1804.9,1406.8 1808.9,1416.5 1812.9,1426.0 1816.8,1435.4 1820.8,1444.6 1824.8,1453.7 1828.8,1462.7 1832.8,1471.6 1836.7,1480.3 1840.7,1488.9 1844.7,1497.4 1848.7,1505.8 1852.7,1514.1 1856.6,1522.2 1860.6,1530.2 1864.6,1538.2 1868.6,1546.0 1872.6,1553.7 1876.5,1561.4 1880.5,1568.9 1884.5,1576.4 1888.5,1583.7 1892.5,1591.0 1896.4,1598.1 1900.4,1605.2 1904.4,1612.2 1908.4,1619.1 1912.4,1626.0 1916.3,1632.7 1920.3,1639.4 1924.3,1646.0 1928.3,1652.6 1932.3,1659.0 1936.2,1665.4 1940.2,1671.8 1944.2,1678.0 1948.2,1684.2 1952.2,1690.4 1956.1,1696.5 1960.1,1702.5 1964.1,1708.5 1968.1,1714.4 1972.1,1720.2 1976.0,1726.0 1980.0,1731.8 1984.0,1737.5 1988.0,1743.1 1992.0,1748.7 1995.9,1754.3 1999.9,1759.8 2003.9,1765.2 2007.9,1770.6 2011.9,1776.0 2015.8,1781.3 2019.8,1786.6 2023.8,1791.8 2027.8,1797.0 2031.8,1802.1 2035.7,1807.2 2039.7,1812.3 2043.7,1817.3 2047.7,1822.3 2051.7,1827.2 2055.6,1832.1 2059.6,1837.0 2063.6,1841.8 2067.6,1846.6 2071.6,1851.4 2075.5,1856.2 2079.5,1860.9 2083.5,1865.5 2087.5,1870.2 2091.5,1874.8 2095.4,1879.4 2099.4,1884.0 2103.4,1888.5 2107.4,1893.1 2111.4,1897.6 2115.3,1902.1 2119.3,1906.5 2123.3,1911.0 2127.3,1915.4 2131.3,1919.8 2135.2,1924.2 2139.2,1928.5 2143.2,1932.9 2147.2,1937.1 2151.2,1941.4 2155.1,1945.6 2159.1,1949.7 2163.1,1953.8 2167.1,1957.8 2171.1,1961.7 2175.0,1965.5 2179.0,1969.2 2183.0,1972.8 2187.0,1976.3 2191.0,1979.7 2194.9,1982.9 2198.9,1986.0 2202.9,1989.0 2206.9,1991.9 2210.9,1994.6 2214.8,1997.2 2218.8,1999.7 2222.8,2002.0 2226.8,2004.3 2230.8,2006.4 2234.7,2008.4 2238.7,2010.2 2242.7,2012.0 2246.7,2013.6 2250.7,2015.1 2254.6,2016.5 2258.6,2017.8 2262.6,2019.0 2266.6,2020.1 2270.6,2021.0 2274.5,2021.9 2278.5,2022.6 2282.5,2023.3"/>
<polyline stroke="#37AD6B" points="292.5,2035.0 296.5,2034.9 300.5,2034.8 304.4,2034.7 308.4,2034.6 312.4,2034.4 316.4,2034.3 320.4,2034.2 324.3,2034.0 328.3,2033.8 332.3,2033.7 336.3,2033.5 340.3,2033.3 344.2,2033.1 348.2,2032.9 352.2,2032.7 356.2,2032.5 360.2,2032.3 364.1,2032.1 368.1,2031.9 372.1,2031.6 376.1,2031.4 380.1,2031.2 384.0,2030.9 388.0,2030.7 392.0,2030.4 396.0,2030.2 400.0,2029.9 403.9,2029.7 407.9,2029.4 411.9,2029.2 415.9,2028.9 419.9,2028.6 423.8,2028.4 427.8,2028.1 431.8,2027.8 435.8,2027.5 439.8,2027.2 443.7,2027.0 447.7,2026.7 451.7,2026.4 455.7,2026.1 459.7,2025.8 463.6,2025.4 467.6,2025.1 471.6,2024.8 475.6,2024.5 479.6,2024.1 483.5,2023.8 487.5,2023.5 491.5,2023.1 495.5,2022.7 499.5,2022.4 503.4,2022.0 507.4,2021.6 511.4,2021.2 515.4,2020.8 519.4,2020.4 523.3,2020.0 527.3,2019.6 531.3,2019.2 535.3,2018.7 539.3,2018.3 543.2,2017.8 547.2,2017.3 551.2,2016.8 555.2,2016.3 559.2,2015.8 563.1,2015.3 567.1,2014.7 571.1,2014.2 575.1,2013.6 579.1,2013.0 583.0,2012.4 587.0,2011.8 591.0,2011.1 595.0,2010.4 599.0,2009.7 602.9,2009.0 606.9,2008.3 610.9,2007.5 614.9,2006.7 618.9,2005.8 622.8,2004.9 626.8,2004.0 630.8,2003.1 634.8,2002.1 638.8,2001.1 642.7,2000.0 646.7,1998.9 650.7,1997.7 654.7,1996.6 658.7,1995.3 662.6,1994.1 666.6,1992.8 670.6,1991.5 674.6,1990.1 678.6,1988.7 682.5,1987.3 686.5,1985.9 690.5,1984.5 694.5,1983.1 698.5,1981.6 702.4,1980.2 706.4,1978.7 710.4,1977.3 714.4,1975.8 718.4,1974.4 722.3,1973.0 726.3,1971.5 730.3,1970.1 734.3,1968.7 738.3,1967.3 742.2,1965.9 746.2,1964.5 750.2,1963.1 754.2,1961.7 758.2,1960.4 762.1,1959.0 766.1,1957.7 770.1,1956.4 774.1,1955.0 778.1,1953.7 782.0,1952.4 786.0,1951.1 790.0,1949.8 794.0,1948.4 798.0,1947.1 801.9,1945.7 805.9,1944.4 809.9,1943.0 813.9,1941.6 817.9,1940.1 821.8,1938.6 825.8,1937.1 829.8,1935.6 833.8,1933.9 837.8,1932.3 841.7,1930.6 845.7,1928.8 849.7,1927.0 853.7,1925.2 857.7,1923.3 861.6,1921.3 865.6,1919.4 869.6,1917.3 873.6,1915.2 877.6,1913.1 881.5,1910.9 885.5,1908.7 889.5,1906.4 893.5,1904.2 897.5,1901.8 901.4,1899.5 905.4,1897.1 909.4,1894.7 913.4,1892.3 917.4,1889.9 921.3,1887.4 925.3,1884.9 929.3,1882.4 933.3,1879.8 937.3,1877.2 941.2,1874.6 945.2,1871.9 949.2,1869.2 953.2,1866.5 957.2,1863.7 961.1,1860.9 965.1,1858.0 969.1,1855.2 973.1,1852.2 977.1,1849.2 981.0,1846.2 985.0,1843.1 989.0,1840.0 993.0,1836.8 997.0,1833.6 1000.9,1830.3 1004.9,1826.9 1008.9,1823.5 1012.9,1820.0 1016.9,1816.4 1020.8,1812.7 1024.8,1809.0 1028.8,1805.2 1032.8,1801.2 1036.8,1797.2 1040.7,1793.1 1044.7,1788.8 1048.7,1784.4 1052.7,1779.9 1056.7,1775.3 1060.6,1770.5 1064.6,1765.5 1068.6,1760.4 1072.6,1755.1 1076.6,1749.6 1080.5,1743.9 1084.5,1737.9 1088.5,1731.7 1092.5,1725.2 1096.5,1718.5 1100.4,1711.4 1104.4,1703.9 1108.4,1696.1 1112.4,1687.8 1116.4,1679.2 1120.3,1670.1 1124.3,1660.6 1128.3,1650.6 1132.3,1640.3 1136.3,1629.7 1140.2,1618.7 1144.2,1607.5 1148.2,1596.0 1152.2,1584.4 1156.2,1572.7 1160.1,1560.9 1164.1,1549.0 1168.1,1536.9 1172.1,1524.8 1176.1,1512.7 1180.0,1500.4 1184.0,1488.1 1188.0,1475.6 1192.0,1463.1 1196.0,1450.5 1199.9,1437.8 1203.9,1425.0 1207.9,1412.2 1211.9,1399.2 1215.9,1386.2 1219.8,1373.1 1223.8,1359.9 1227.8,1346.6 1231.8,1333.2 1235.8,1319.7 1239.7,1306.2 1243.7,1292.5 1247.7,1278.8 1251.7,1265.1 1255.7,1251.2 1259.6,1237.3 1263.6,1223.3 1267.6,1209.3 1271.6,1195.2 1275.6,1181.1 1279.5,1166.9 1283.5,1152.7 1287.5,1138.5 1291.5,1124.3 1295.5,1110.1 1299.4,1095.9 1303.4,1081.8 1307.4,1067.7 1311.4,1053.6 1315.4,1039.7 1319.3,1025.8 1323.3,1012.0 1327.3,998.4 1331.3,984.9 1335.3,971.7 1339.2,958.6 1343.2,945.7 1347.2,933.1 1351.2,920.7 1355.2,908.7 1359.1,896.9 1363.1,885.5 1367.1,874.4 1371.1,863.6 1375.1,853.3 1379.0,843.3 1383.0,833.7 1387.0,824.5 1391.0,815.7 1395.0,807.3 1398.9,799.3 1402.9,791.7 1406.9,784.4 1410.9,777.6 1414.9,771.1 1418.8,764.9 1422.8,759.1 1426.8,753.5 1430.8,748.3 1434.8,743.4 1438.7,738.8 1442.7,734.5 1446.7,730.4 1450.7,726.7 1454.7,723.2 1458.6,720.0 1462.6,717.1 1466.6,714.5 1470.6,712.3 1474.6,710.4 1478.5,708.8 1482.5,707.7 1486.5,706.9 1490.5,706.5 1494.5,706.6 1498.4,707.0 1502.4,707.9 1506.4,709.1 1510.4,710.7 1514.4,712.7 1518.3,715.1 1522.3,717.8 1526.3,720.9 1530.3,724.3 1534.3,728.1 1538.2,732.2 1542.2,736.6 1546.2,741.3 1550.2,746.3 1554.2,751.7 1558.1,757.3 1562.1,763.3 1566.1,769.5 1570.1,776.1 1574.1,782.9 1578.0,789.9 1582.0,797.3 1586.0,804.9 1590.0,812.7 1594.0,820.8 1597.9,829.2 1601.9,837.8 1605.9,846.6 1609.9,855.6 1613.9,864.9 1617.8,874.4 1621.8,884.1 1625.8,894.0 1629.8,904.1 1633.8,914.3 1637.7,924.8 1641.7,935.5 1645.7,946.3 1649.7,957.4 1653.7,968.6 1657.6,979.9 1661.6,991.5 1665.6,1003.1 1669.6,1015.0 1673.6,1027.0 1677.5,1039.1 1681.5,1051.4 1685.5,1063.8 1689.5,1076.4 1693.5,1089.1 1697.4,1101.9 1701.4,1114.8 1705.4,1127.9 1709.4,1141.1 1713.4,1154.3 1717.3,1167.6 1721.3,1181.0 1725.3,1194.4 1729.3,1207.8 1733.3,1221.2 1737.2,1234.5 1741.2,1247.7 1745.2,1260.7 1749.2,1273.6 1753.2,1286.3 1757.1,1298.8 1761.1,1311.0 1765.1,1323.1 1769.1,1334.9 1773.1,1346.5 1777.0,1357.9 1781.0,1369.0 1785.0,1379.9 1789.0,1390.6 1793.0,1401.1 1796.9,1411.4 1800.9,1421.4 1804.9,1431.3 1808.9,1441.0 1812.9,1450.5 1816.8,1459.9 1820.8,1469.0 1824.8,1478.0 1828.8,1486.9 1832.8,1495.6 1836.7,1504.1 1840.7,1512.5 1844.7,1520.8 1848.7,1528.9 1852.7,1536.9 1856.6,1544.8 1860.6,1552.6 1864.6,1560.3 1868.6,1567.9 1872.6,1575.3 1876.5,1582.7 1880.5,1589.9 1884.5,1597.1 1888.5,1604.2 1892.5,1611.1 1896.4,1618.0 1900.4,1624.9 1904.4,1631.6 1908.4,1638.2 1912.4,1644.8 1916.3,1651.3 1920.3,1657.8 1924.3,1664.1 1928.3,1670.4 1932.3,1676.7 1936.2,1682.8 1940.2,1688.9 1944.2,1695.0 1948.2,1701.0 1952.2,1706.9 1956.1,1712.8 1960.1,1718.6 1964.1,1724.4 1968.1,1730.1 1972.1,1735.7 1976.0,1741.4 1980.0,1746.9 1984.0,1752.5 1988.0,1757.9 1992.0,1763.4 1995.9,1768.7 1999.9,1774.1 2003.9,1779.4 2007.9,1784.6 2011.9,1789.9 2015.8,1795.0 2019.8,1800.2 2023.8,1805.3 2027.8,1810.3 2031.8,1815.3 2035.7,1820.3 2039.7,1825.2 2043.7,1830.1 2047.7,1835.0 2051.7,1839.8 2055.6,1844.6 2059.6,1849.4 2063.6,1854.1 2067.6,1858.8 2071.6,1863.5 2075.5,1868.2 2079.5,1872.8 2083.5,1877.4 2087.5,1882.0 2091.5,1886.5 2095.4,1891.1 2099.4,1895.6 2103.4,1900.0 2107.4,1904.5 2111.4,1908.9 2115.3,1913.3 2119.3,1917.6 2123.3,1922.0 2127.3,1926.3 2131.3,1930.5 2135.2,1934.8 2139.2,1938.9 2143.2,1943.1 2147.2,1947.1 2151.2,1951.1 2155.1,1955.0 2159.1,1958.9 2163.1,1962.7 2167.1,1966.3 2171.1,1969.9 2175.0,1973.3 2179.0,1976.7 2183.0,1979.9 2187.0,1983.0 2191.0,1986.0 2194.9,1988.9 2198.9,1991.6 2202.9,1994.2 2206.9,1996.7 2210.9,1999.1 2214.8,2001.4 2218.8,2003.5 2222.8,2005.5 2226.8,2007.5 2230.8,2009.3 2234.7,2011.0 2238.7,2012.6 2242.7,2014.1 2246.7,2015.5 2250.7,2016.9 2254.6,2018.1 2258.6,2019.2 2262.6,2020.2 2266.6,2021.1 2270.6,2021.9 2274.5,2022.6 2278.5,2023.3 2282.5,2023.8"/>
<polyline stroke="#B177DE" points="292.5,2044.0 296.5,2043.9 300.5,2043.9 304.4,2043.8 308.4,2043.7 312.4,2043.6 316.4,2043.5 320.4,2043.4 324.3,2043.2 328.3,2043.1 332.3,2043.0 336.3,2042.8 340.3,2042.7 344.2,2042.6 348.2,2042.4 352.2,2042.3 356.2,2042.1 360.2,2042.0 364.1,2041.8 368.1,2041.6 372.1,2041.5 376.1,2041.3 380.1,2041.1 384.0,2041.0 388.0,2040.8 392.0,2040.6 396.0,2040.4 400.0,2040.2 403.9,2040.0 407.9,2039.8 411.9,2039.6 415.9,2039.4 419.9,2039.2 423.8,2039.0 427.8,2038.8 431.8,2038.6 435.8,2038.4 439.8,2038.2 443.7,2038.0 447.7,2037.8 451.7,2037.6 455.7,2037.3 459.7,2037.1 463.6,2036.9 467.6,2036.7 471.6,2036.4 475.6,2036.2 479.6,2036.0 483.5,2035.7 487.5,2035.5 491.5,2035.3 495.5,2035.0 499.5,2034.8 503.4,2034.5 507.4,2034.3 511.4,2034.0 515.4,2033.8 519.4,2033.5 523.3,2033.2 527.3,2033.0 531.3,2032.7 535.3,2032.4 539.3,2032.1 543.2,2031.8 547.2,2031.5 551.2,2031.2 555.2,2030.9 559.2,2030.6 563.1,2030.3 567.1,2030.0 571.1,2029.7 575.1,2029.3 579.1,2029.0 583.0,2028.7 587.0,2028.3 591.0,2028.0 595.0,2027.6 599.0,2027.2 602.9,2026.8 606.9,2026.5 610.9,2026.1 614.9,2025.7 618.9,2025.3 622.8,2024.8 626.8,2024.4 630.8,2024.0 634.8,2023.5 638.8,2023.1 642.7,2022.6 646.7,2022.1 650.7,2021.6 654.7,2021.1 658.7,2020.6 662.6,2020.1 666.6,2019.5 670.6,2018.9 674.6,2018.4 678.6,2017.8 682.5,2017.1 686.5,2016.5 690.5,2015.8 694.5,2015.2 698.5,2014.5 702.4,2013.7 706.4,2013.0 710.4,2012.3 714.4,2011.5 718.4,2010.7 722.3,2009.9 726.3,2009.1 730.3,2008.2 734.3,2007.3 738.3,2006.4 742.2,2005.5 746.2,2004.6 750.2,2003.6 754.2,2002.6 758.2,2001.6 762.1,2000.5 766.1,1999.5 770.1,1998.3 774.1,1997.2 778.1,1996.0 782.0,1994.8 786.0,1993.6 790.0,1992.3 794.0,1990.9 798.0,1989.6 801.9,1988.1 805.9,1986.7 809.9,1985.2 813.9,1983.6 817.9,1982.0 821.8,1980.4 825.8,1978.7 829.8,1976.9 833.8,1975.1 837.8,1973.3 841.7,1971.4 845.7,1969.5 849.7,1967.5 853.7,1965.6 857.7,1963.5 861.6,1961.4 865.6,1959.3 869.6,1957.2 873.6,1955.0 877.6,1952.8 881.5,1950.5 885.5,1948.2 889.5,1945.9 893.5,1943.5 897.5,1941.0 901.4,1938.6 905.4,1936.0 909.4,1933.5 913.4,1930.8 917.4,1928.2 921.3,1925.4 925.3,1922.7 929.3,1919.8 933.3,1917.0 937.3,1914.0 941.2,1911.1 945.2,1908.0 949.2,1904.9 953.2,1901.8 957.2,1898.6 961.1,1895.4 965.1,1892.1 969.1,1888.8 973.1,1885.5 977.1,1882.1 981.0,1878.6 985.0,1875.1 989.0,1871.5 993.0,1867.9 997.0,1864.2 1000.9,1860.5 1004.9,1856.7 1008.9,1852.8 1012.9,1848.9 1016.9,1844.9 1020.8,1840.8 1024.8,1836.6 1028.8,1832.4 1032.8,1828.1 1036.8,1823.7 1040.7,1819.1 1044.7,1814.5 1048.7,1809.8 1052.7,1804.9 1056.7,1799.9 1060.6,1794.8 1064.6,1789.5 1068.6,1784.1 1072.6,1778.5 1076.6,1772.7 1080.5,1766.8 1084.5,1760.6 1088.5,1754.3 1092.5,1747.7 1096.5,1740.9 1100.4,1733.9 1104.4,1726.5 1108.4,1718.9 1112.4,1711.0 1116.4,1702.8 1120.3,1694.2 1124.3,1685.3 1128.3,1676.0 1132.3,1666.4 1136.3,1656.5 1140.2,1646.2 1144.2,1635.6 1148.2,1624.8 1152.2,1613.7 1156.2,1602.4 1160.1,1591.0 1164.1,1579.3 1168.1,1567.6 1172.1,1555.7 1176.1,1543.7 1180.0,1531.6 1184.0,1519.3 1188.0,1506.9 1192.0,1494.4 1196.0,1481.8 1199.9,1469.0 1203.9,1456.2 1207.9,1443.2 1211.9,1430.0 1215.9,1416.8 1219.8,1403.4 1223.8,1389.9 1227.8,1376.3 1231.8,1362.6 1235.8,1348.7 1239.7,1334.8 1243.7,1320.7 1247.7,1306.6 1251.7,1292.4 1255.7,1278.1 1259.6,1263.7 1263.6,1249.3 1267.6,1234.9 1271.6,1220.5 1275.6,1206.0 1279.5,1191.6 1283.5,1177.3 1287.5,1162.9 1291.5,1148.7 1295.5,1134.5 1299.4,1120.4 1303.4,1106.5 1307.4,1092.6 1311.4,1078.8 1315.4,1065.2 1319.3,1051.8 1323.3,1038.4 1327.3,1025.3 1331.3,1012.2 1335.3,999.4 1339.2,986.8 1343.2,974.3 1347.2,962.1 1351.2,950.0 1355.2,938.2 1359.1,926.7 1363.1,915.3 1367.1,904.3 1371.1,893.5 1375.1,883.0 1379.0,872.7 1383.0,862.8 1387.0,853.2 1391.0,843.9 1395.0,834.9 1398.9,826.2 1402.9,817.9 1406.9,809.9 1410.9,802.3 1414.9,795.1 1418.8,788.2 1422.8,781.7 1426.8,775.6 1430.8,769.8 1434.8,764.4 1438.7,759.4 1442.7,754.8 1446.7,750.6 1450.7,746.7 1454.7,743.2 1458.6,740.1 1462.6,737.4 1466.6,735.0 1470.6,733.0 1474.6,731.3 1478.5,730.0 1482.5,729.1 1486.5,728.6 1490.5,728.4 1494.5,728.5 1498.4,729.1 1502.4,730.0 1506.4,731.3 1510.4,733.0 1514.4,735.1 1518.3,737.5 1522.3,740.3 1526.3,743.4 1530.3,746.9 1534.3,750.7 1538.2,754.8 1542.2,759.2 1546.2,764.0 1550.2,769.1 1554.2,774.4 1558.1,780.1 1562.1,786.1 1566.1,792.3 1570.1,798.8 1574.1,805.6 1578.0,812.6 1582.0,819.9 1586.0,827.5 1590.0,835.3 1594.0,843.4 1597.9,851.7 1601.9,860.2 1605.9,869.0 1609.9,878.0 1613.9,887.3 1617.8,896.7 1621.8,906.4 1625.8,916.3 1629.8,926.4 1633.8,936.6 1637.7,947.1 1641.7,957.8 1645.7,968.7 1649.7,979.8 1653.7,991.1 1657.6,1002.6 1661.6,1014.2 1665.6,1026.0 1669.6,1038.0 1673.6,1050.2 1677.5,1062.6 1681.5,1075.1 1685.5,1087.8 1689.5,1100.6 1693.5,1113.6 1697.4,1126.8 1701.4,1140.1 1705.4,1153.5 1709.4,1167.0 1713.4,1180.7 1717.3,1194.3 1721.3,1208.0 1725.3,1221.7 1729.3,1235.3 1733.3,1248.8 1737.2,1262.2 1741.2,1275.3 1745.2,1288.3 1749.2,1301.1 1753.2,1313.7 1757.1,1326.0 1761.1,1338.1 1765.1,1349.9 1769.1,1361.5 1773.1,1372.8 1777.0,1383.9 1781.0,1394.8 1785.0,1405.4 1789.0,1415.9 1793.0,1426.1 1796.9,1436.1 1800.9,1445.9 1804.9,1455.5 1808.9,1464.9 1812.9,1474.2 1816.8,1483.2 1820.8,1492.2 1824.8,1500.9 1828.8,1509.5 1832.8,1518.0 1836.7,1526.3 1840.7,1534.5 1844.7,1542.6 1848.7,1550.5 1852.7,1558.3 1856.6,1566.0 1860.6,1573.6 1864.6,1581.1 1868.6,1588.5 1872.6,1595.7 1876.5,1602.9 1880.5,1610.0 1884.5,1617.0 1888.5,1623.9 1892.5,1630.7 1896.4,1637.5 1900.4,1644.1 1904.4,1650.7 1908.4,1657.2 1912.4,1663.6 1916.3,1670.0 1920.3,1676.3 1924.3,1682.5 1928.3,1688.6 1932.3,1694.7 1936.2,1700.7 1940.2,1706.7 1944.2,1712.6 1948.2,1718.4 1952.2,1724.2 1956.1,1729.9 1960.1,1735.5 1964.1,1741.1 1968.1,1746.7 1972.1,1752.2 1976.0,1757.6 1980.0,1763.0 1984.0,1768.4 1988.0,1773.7 1992.0,1778.9 1995.9,1784.1 1999.9,1789.3 2003.9,1794.4 2007.9,1799.5 2011.9,1804.5 2015.8,1809.5 2019.8,1814.4 2023.8,1819.3 2027.8,1824.1 2031.8,1828.9 2035.7,1833.7 2039.7,1838.4 2043.7,1843.1 2047.7,1847.8 2051.7,1852.4 2055.6,1857.0 2059.6,1861.6 2063.6,1866.2 2067.6,1870.7 2071.6,1875.1 2075.5,1879.6 2079.5,1884.0 2083.5,1888.4 2087.5,1892.8 2091.5,1897.1 2095.4,1901.5 2099.4,1905.8 2103.4,1910.1 2107.4,1914.3 2111.4,1918.5 2115.3,1922.7 2119.3,1926.9 2123.3,1931.1 2127.3,1935.2 2131.3,1939.3 2135.2,1943.3 2139.2,1947.3 2143.2,1951.2 2147.2,1955.1 2151.2,1958.9 2155.1,1962.6 2159.1,1966.2 2163.1,1969.7 2167.1,1973.2 2171.1,1976.5 2175.0,1979.7 2179.0,1982.7 2183.0,1985.7 2187.0,1988.5 2191.0,1991.2 2194.9,1993.8 2198.9,1996.2 2202.9,1998.5 2206.9,2000.7 2210.9,2002.7 2214.8,2004.7 2218.8,2006.5 2222.8,2008.3 2226.8,2009.9 2230.8,2011.5 2234.7,2012.9 2238.7,2014.3 2242.7,2015.5 2246.7,2016.7 2250.7,2017.8 2254.6,2018.8 2258.6,2019.8 2262.6,2020.7 2266.6,2021.4 2270.6,2022.2 2274.5,2022.8 2278.5,2023.4 2282.5,2023.9"/>
<polyline stroke="#CC9900" points="292.5,2035.1 296.5,2035.1 300.5,2035.0 304.4,2035.0 308.4,2034.9 312.4,2034.8 316.4,2034.7 320.4,2034.6 324.3,2034.5 328.3,2034.4 332.3,2034.3 336.3,2034.2 340.3,2034.1 344.2,2033.9 348.2,2033.8 352.2,2033.7 356.2,2033.5 360.2,2033.4 364.1,2033.2 368.1,2033.0 372.1,2032.9 376.1,2032.7 380.1,2032.5 384.0,2032.4 388.0,2032.2 392.0,2032.0 396.0,2031.8 400.0,2031.6 403.9,2031.4 407.9,2031.2 411.9,2031.0 415.9,2030.8 419.9,2030.6 423.8,2030.4 427.8,2030.2 431.8,2029.9 435.8,2029.7 439.8,2029.5 443.7,2029.3 447.7,2029.0 451.7,2028.8 455.7,2028.6 459.7,2028.3 463.6,2028.1 467.6,2027.9 471.6,2027.6 475.6,2027.4 479.6,2027.1 483.5,2026.8 487.5,2026.6 491.5,2026.3 495.5,2026.0 499.5,2025.7 503.4,2025.4 507.4,2025.1 511.4,2024.8 515.4,2024.5 519.4,2024.2 523.3,2023.9 527.3,2023.5 531.3,2023.2 535.3,2022.8 539.3,2022.5 543.2,2022.1 547.2,2021.8 551.2,2021.4 555.2,2021.0 559.2,2020.6 563.1,2020.2 567.1,2019.9 571.1,2019.5 575.1,2019.1 579.1,2018.7 583.0,2018.3 587.0,2017.9 591.0,2017.5 595.0,2017.1 599.0,2016.6 602.9,2016.2 606.9,2015.8 610.9,2015.4 614.9,2015.0 618.9,2014.6 622.8,2014.2 626.8,2013.7 630.8,2013.3 634.8,2012.9 638.8,2012.5 642.7,2012.0 646.7,2011.6 650.7,2011.1 654.7,2010.7 658.7,2010.2 662.6,2009.8 666.6,2009.3 670.6,2008.8 674.6,2008.3 678.6,2007.8 682.5,2007.3 686.5,2006.8 690.5,2006.2 694.5,2005.7 698.5,2005.1 702.4,2004.6 706.4,2004.0 710.4,2003.4 714.4,2002.8 718.4,2002.2 722.3,2001.6 726.3,2001.0 730.3,2000.3 734.3,1999.7 738.3,1999.0 742.2,1998.3 746.2,1997.7 750.2,1997.0 754.2,1996.3 758.2,1995.6 762.1,1994.8 766.1,1994.1 770.1,1993.4 774.1,1992.7 778.1,1991.9 782.0,1991.2 786.0,1990.4 790.0,1989.6 794.0,1988.9 798.0,1988.1 801.9,1987.3 805.9,1986.5 809.9,1985.7 813.9,1984.9 817.9,1984.1 821.8,1983.3 825.8,1982.5 829.8,1981.7 833.8,1980.8 837.8,1980.0 841.7,1979.1 845.7,1978.2 849.7,1977.3 853.7,1976.4 857.7,1975.5 861.6,1974.5 865.6,1973.6 869.6,1972.6 873.6,1971.6 877.6,1970.6 881.5,1969.5 885.5,1968.4 889.5,1967.3 893.5,1966.2 897.5,1965.0 901.4,1963.8 905.4,1962.6 909.4,1961.3 913.4,1960.0 917.4,1958.6 921.3,1957.2 925.3,1955.7 929.3,1954.2 933.3,1952.6 937.3,1950.9 941.2,1949.2 945.2,1947.4 949.2,1945.5 953.2,1943.4 957.2,1941.3 961.1,1939.1 965.1,1936.8 969.1,1934.3 973.1,1931.7 977.1,1929.0 981.0,1926.2 985.0,1923.3 989.0,1920.2 993.0,1917.0 997.0,1913.7 1000.9,1910.2 1004.9,1906.6 1008.9,1903.0 1012.9,1899.1 1016.9,1895.2 1020.8,1891.2 1024.8,1887.1 1028.8,1883.0 1032.8,1878.7 1036.8,1874.4 1040.7,1869.9 1044.7,1865.4 1048.7,1860.8 1052.7,1856.1 1056.7,1851.3 1060.6,1846.5 1064.6,1841.5 1068.6,1836.4 1072.6,1831.2 1076.6,1825.8 1080.5,1820.4 1084.5,1814.7 1088.5,1808.9 1092.5,1803.0 1096.5,1796.8 1100.4,1790.5 1104.4,1783.9 1108.4,1777.1 1112.4,1770.0 1116.4,1762.7 1120.3,1755.2 1124.3,1747.3 1128.3,1739.1 1132.3,1730.6 1136.3,1721.7 1140.2,1712.5 1144.2,1702.9 1148.2,1692.9 1152.2,1682.6 1156.2,1671.8 1160.1,1660.7 1164.1,1649.2 1168.1,1637.4 1172.1,1625.4 1176.1,1613.2 1180.0,1600.7 1184.0,1588.2 1188.0,1575.5 1192.0,1562.8 1196.0,1550.0 1199.9,1537.2 1203.9,1524.3 1207.9,1511.3 1211.9,1498.3 1215.9,1485.2 1219.8,1472.1 1223.8,1459.0 1227.8,1445.8 1231.8,1432.5 1235.8,1419.2 1239.7,1405.8 1243.7,1392.4 1247.7,1378.9 1251.7,1365.4 1255.7,1351.8 1259.6,1338.2 1263.6,1324.5 1267.6,1310.8 1271.6,1297.0 1275.6,1283.2 1279.5,1269.3 1283.5,1255.4 1287.5,1241.4 1291.5,1227.4 1295.5,1213.4 1299.4,1199.3 1303.4,1185.2 1307.4,1171.1 1311.4,1156.9 1315.4,1142.8 1319.3,1128.7 1323.3,1114.6 1327.3,1100.6 1331.3,1086.6 1335.3,1072.8 1339.2,1059.1 1343.2,1045.5 1347.2,1032.2 1351.2,1019.1 1355.2,1006.3 1359.1,993.7 1363.1,981.5 1367.1,969.6 1371.1,958.1 1375.1,947.0 1379.0,936.3 1383.0,926.1 1387.0,916.3 1391.0,906.9 1395.0,898.0 1398.9,889.6 1402.9,881.6 1406.9,874.0 1410.9,866.9 1414.9,860.1 1418.8,853.8 1422.8,847.8 1426.8,842.1 1430.8,836.8 1434.8,831.8 1438.7,827.2 1442.7,822.8 1446.7,818.7 1450.7,814.9 1454.7,811.5 1458.6,808.3 1462.6,805.4 1466.6,802.8 1470.6,800.6 1474.6,798.7 1478.5,797.2 1482.5,796.1 1486.5,795.3 1490.5,795.0 1494.5,795.1 1498.4,795.6 1502.4,796.6 1506.4,797.9 1510.4,799.6 1514.4,801.8 1518.3,804.2 1522.3,807.1 1526.3,810.3 1530.3,813.8 1534.3,817.6 1538.2,821.7 1542.2,826.2 1546.2,830.9 1550.2,836.0 1554.2,841.3 1558.1,846.9 1562.1,852.8 1566.1,858.9 1570.1,865.3 1574.1,872.0 1578.0,878.9 1582.0,886.1 1586.0,893.6 1590.0,901.2 1594.0,909.2 1597.9,917.3 1601.9,925.8 1605.9,934.4 1609.9,943.3 1613.9,952.4 1617.8,961.8 1621.8,971.4 1625.8,981.2 1629.8,991.3 1633.8,1001.6 1637.7,1012.1 1641.7,1022.9 1645.7,1033.9 1649.7,1045.1 1653.7,1056.6 1657.6,1068.3 1661.6,1080.2 1665.6,1092.4 1669.6,1104.8 1673.6,1117.5 1677.5,1130.3 1681.5,1143.4 1685.5,1156.7 1689.5,1170.2 1693.5,1183.9 1697.4,1197.7 1701.4,1211.6 1705.4,1225.5 1709.4,1239.5 1713.4,1253.4 1717.3,1267.2 1721.3,1280.9 1725.3,1294.5 1729.3,1307.9 1733.3,1321.1 1737.2,1334.0 1741.2,1346.8 1745.2,1359.3 1749.2,1371.6 1753.2,1383.6 1757.1,1395.4 1761.1,1407.0 1765.1,1418.4 1769.1,1429.5 1773.1,1440.4 1777.0,1451.1 1781.0,1461.6 1785.0,1471.9 1789.0,1482.0 1793.0,1492.0 1796.9,1501.7 1800.9,1511.3 1804.9,1520.7 1808.9,1530.0 1812.9,1539.1 1816.8,1548.1 1820.8,1556.9 1824.8,1565.6 1828.8,1574.1 1832.8,1582.6 1836.7,1590.9 1840.7,1599.1 1844.7,1607.1 1848.7,1615.1 1852.7,1622.9 1856.6,1630.6 1860.6,1638.2 1864.6,1645.7 1868.6,1653.0 1872.6,1660.3 1876.5,1667.4 1880.5,1674.3 1884.5,1681.2 1888.5,1687.9 1892.5,1694.5 1896.4,1700.9 1900.4,1707.3 1904.4,1713.5 1908.4,1719.7 1912.4,1725.7 1916.3,1731.6 1920.3,1737.4 1924.3,1743.1 1928.3,1748.7 1932.3,1754.2 1936.2,1759.7 1940.2,1765.0 1944.2,1770.2 1948.2,1775.4 1952.2,1780.5 1956.1,1785.5 1960.1,1790.4 1964.1,1795.3 1968.1,1800.0 1972.1,1804.7 1976.0,1809.3 1980.0,1813.9 1984.0,1818.4 1988.0,1822.8 1992.0,1827.2 1995.9,1831.5 1999.9,1835.7 2003.9,1839.9 2007.9,1844.1 2011.9,1848.2 2015.8,1852.2 2019.8,1856.2 2023.8,1860.2 2027.8,1864.1 2031.8,1868.0 2035.7,1871.8 2039.7,1875.6 2043.7,1879.4 2047.7,1883.1 2051.7,1886.8 2055.6,1890.4 2059.6,1894.0 2063.6,1897.6 2067.6,1901.1 2071.6,1904.6 2075.5,1908.1 2079.5,1911.6 2083.5,1915.0 2087.5,1918.4 2091.5,1921.7 2095.4,1925.1 2099.4,1928.4 2103.4,1931.6 2107.4,1934.9 2111.4,1938.1 2115.3,1941.2 2119.3,1944.3 2123.3,1947.4 2127.3,1950.4 2131.3,1953.4 2135.2,1956.4 2139.2,1959.2 2143.2,1962.1 2147.2,1964.8 2151.2,1967.6 2155.1,1970.2 2159.1,1972.8 2163.1,1975.4 2167.1,1977.8 2171.1,1980.2 2175.0,1982.6 2179.0,1984.9 2183.0,1987.1 2187.0,1989.2 2191.0,1991.3 2194.9,1993.4 2198.9,1995.3 2202.9,1997.2 2206.9,1999.0 2210.9,2000.8 2214.8,2002.4 2218.8,2004.1 2222.8,2005.6 2226.8,2007.1 2230.8,2008.4 2234.7,2009.8 2238.7,2011.0 2242.7,2012.2 2246.7,2013.3 2250.7,2014.3 2254.6,2015.2 2258.6,2016.1 2262.6,2016.9 2266.6,2017.6 2270.6,2018.3 2274.5,2018.8 2278.5,2019.4 2282.5,2019.8"/>
<polyline stroke="#00CBCC" points="292.5,2048.5 296.5,2048.4 300.5,2048.3 304.4,2048.3 308.4,2048.2 312.4,2048.1 316.4,2048.0 320.4,2047.9 324.3,2047.8 328.3,2047.7 332.3,2047.6 336.3,2047.5 340.3,2047.4 344.2,2047.3 348.2,2047.1 352.2,2047.0 356.2,2046.9 360.2,2046.8 364.1,2046.7 368.1,2046.6 372.1,2046.5 376.1,2046.4 380.1,2046.3 384.0,2046.2 388.0,2046.0 392.0,2045.9 396.0,2045.8 400.0,2045.7 403.9,2045.6 407.9,2045.5 411.9,2045.4 415.9,2045.2 419.9,2045.1 423.8,2045.0 427.8,2044.9 431.8,2044.8 435.8,2044.6 439.8,2044.5 443.7,2044.4 447.7,2044.3 451.7,2044.1 455.7,2044.0 459.7,2043.9 463.6,2043.8 467.6,2043.6 471.6,2043.5 475.6,2043.4 479.6,2043.2 483.5,2043.1 487.5,2043.0 491.5,2042.8 495.5,2042.7 499.5,2042.6 503.4,2042.4 507.4,2042.3 511.4,2042.1 515.4,2042.0 519.4,2041.9 523.3,2041.7 527.3,2041.6 531.3,2041.5 535.3,2041.3 539.3,2041.2 543.2,2041.0 547.2,2040.9 551.2,2040.8 555.2,2040.6 559.2,2040.5 563.1,2040.4 567.1,2040.2 571.1,2040.1 575.1,2040.0 579.1,2039.9 583.0,2039.8 587.0,2039.6 591.0,2039.5 595.0,2039.4 599.0,2039.3 602.9,2039.2 606.9,2039.1 610.9,2039.0 614.9,2038.9 618.9,2038.8 622.8,2038.7 626.8,2038.6 630.8,2038.5 634.8,2038.4 638.8,2038.3 642.7,2038.2 646.7,2038.0 650.7,2037.9 654.7,2037.8 658.7,2037.6 662.6,2037.4 666.6,2037.2 670.6,2037.0 674.6,2036.8 678.6,2036.6 682.5,2036.3 686.5,2036.0 690.5,2035.7 694.5,2035.3 698.5,2034.9 702.4,2034.4 706.4,2033.9 710.4,2033.3 714.4,2032.8 718.4,2032.2 722.3,2031.6 726.3,2031.0 730.3,2030.4 734.3,2029.8 738.3,2029.2 742.2,2028.7 746.2,2028.1 750.2,2027.6 754.2,2027.1 758.2,2026.6 762.1,2026.1 766.1,2025.7 770.1,2025.3 774.1,2024.9 778.1,2024.5 782.0,2024.2 786.0,2023.8 790.0,2023.5 794.0,2023.2 798.0,2022.9 801.9,2022.6 805.9,2022.4 809.9,2022.1 813.9,2021.8 817.9,2021.6 821.8,2021.3 825.8,2021.0 829.8,2020.7 833.8,2020.4 837.8,2020.1 841.7,2019.8 845.7,2019.4 849.7,2019.0 853.7,2018.6 857.7,2018.1 861.6,2017.6 865.6,2017.1 869.6,2016.5 873.6,2015.8 877.6,2015.1 881.5,2014.3 885.5,2013.5 889.5,2012.6 893.5,2011.7 897.5,2010.7 901.4,2009.6 905.4,2008.5 909.4,2007.3 913.4,2006.1 917.4,2004.8 921.3,2003.5 925.3,2002.1 929.3,2000.7 933.3,1999.2 937.3,1997.7 941.2,1996.2 945.2,1994.6 949.2,1992.9 953.2,1991.3 957.2,1989.5 961.1,1987.8 965.1,1985.9 969.1,1984.0 973.1,1982.1 977.1,1980.1 981.0,1978.0 985.0,1975.9 989.0,1973.7 993.0,1971.4 997.0,1969.0 1000.9,1966.5 1004.9,1964.0 1008.9,1961.2 1012.9,1958.4 1016.9,1955.4 1020.8,1952.3 1024.8,1949.0 1028.8,1945.6 1032.8,1942.0 1036.8,1938.1 1040.7,1934.2 1044.7,1930.0 1048.7,1925.6 1052.7,1921.0 1056.7,1916.3 1060.6,1911.3 1064.6,1906.2 1068.6,1900.8 1072.6,1895.2 1076.6,1889.4 1080.5,1883.4 1084.5,1877.3 1088.5,1871.0 1092.5,1864.5 1096.5,1857.8 1100.4,1851.0 1104.4,1844.1 1108.4,1836.9 1112.4,1829.6 1116.4,1822.1 1120.3,1814.4 1124.3,1806.5 1128.3,1798.4 1132.3,1790.0 1136.3,1781.3 1140.2,1772.4 1144.2,1763.2 1148.2,1753.8 1152.2,1744.0 1156.2,1734.0 1160.1,1723.7 1164.1,1713.0 1168.1,1702.1 1172.1,1690.9 1176.1,1679.4 1180.0,1667.7 1184.0,1655.7 1188.0,1643.5 1192.0,1631.1 1196.0,1618.5 1199.9,1605.8 1203.9,1593.0 1207.9,1580.2 1211.9,1567.2 1215.9,1554.2 1219.8,1541.1 1223.8,1528.0 1227.8,1514.9 1231.8,1501.6 1235.8,1488.4 1239.7,1475.0 1243.7,1461.7 1247.7,1448.2 1251.7,1434.8 1255.7,1421.2 1259.6,1407.7 1263.6,1394.0 1267.6,1380.4 1271.6,1366.6 1275.6,1352.9 1279.5,1339.1 1283.5,1325.2 1287.5,1311.3 1291.5,1297.4 1295.5,1283.4 1299.4,1269.4 1303.4,1255.3 1307.4,1241.3 1311.4,1227.2 1315.4,1213.1 1319.3,1199.0 1323.3,1184.9 1327.3,1170.8 1331.3,1156.7 1335.3,1142.7 1339.2,1128.8 1343.2,1115.0 1347.2,1101.4 1351.2,1088.0 1355.2,1074.8 1359.1,1061.9 1363.1,1049.3 1367.1,1037.1 1371.1,1025.3 1375.1,1013.8 1379.0,1002.9 1383.0,992.4 1387.0,982.4 1391.0,972.9 1395.0,963.9 1398.9,955.4 1402.9,947.3 1406.9,939.8 1410.9,932.6 1414.9,925.9 1418.8,919.6 1422.8,913.7 1426.8,908.1 1430.8,902.9 1434.8,898.0 1438.7,893.4 1442.7,889.0 1446.7,885.0 1450.7,881.3 1454.7,877.8 1458.6,874.7 1462.6,871.8 1466.6,869.3 1470.6,867.0 1474.6,865.1 1478.5,863.6 1482.5,862.5 1486.5,861.7 1490.5,861.4 1494.5,861.5 1498.4,862.0 1502.4,862.9 1506.4,864.3 1510.4,866.0 1514.4,868.1 1518.3,870.6 1522.3,873.4 1526.3,876.6 1530.3,880.0 1534.3,883.8 1538.2,887.9 1542.2,892.3 1546.2,897.0 1550.2,902.0 1554.2,907.2 1558.1,912.7 1562.1,918.5 1566.1,924.5 1570.1,930.8 1574.1,937.4 1578.0,944.2 1582.0,951.3 1586.0,958.7 1590.0,966.3 1594.0,974.1 1597.9,982.2 1601.9,990.6 1605.9,999.2 1609.9,1008.1 1613.9,1017.3 1617.8,1026.7 1621.8,1036.3 1625.8,1046.3 1629.8,1056.5 1633.8,1067.0 1637.7,1077.7 1641.7,1088.8 1645.7,1100.1 1649.7,1111.7 1653.7,1123.6 1657.6,1135.8 1661.6,1148.3 1665.6,1161.1 1669.6,1174.1 1673.6,1187.4 1677.5,1200.9 1681.5,1214.6 1685.5,1228.4 1689.5,1242.3 1693.5,1256.3 1697.4,1270.3 1701.4,1284.2 1705.4,1298.1 1709.4,1311.8 1713.4,1325.5 1717.3,1339.0 1721.3,1352.3 1725.3,1365.5 1729.3,1378.4 1733.3,1391.2 1737.2,1403.7 1741.2,1416.1 1745.2,1428.2 1749.2,1440.2 1753.2,1451.9 1757.1,1463.5 1761.1,1474.8 1765.1,1486.0 1769.1,1496.9 1773.1,1507.7 1777.0,1518.4 1781.0,1528.8 1785.0,1539.1 1789.0,1549.3 1793.0,1559.2 1796.9,1569.1 1800.9,1578.8 1804.9,1588.3 1808.9,1597.7 1812.9,1607.0 1816.8,1616.1 1820.8,1625.1 1824.8,1633.9 1828.8,1642.6 1832.8,1651.1 1836.7,1659.4 1840.7,1667.6 1844.7,1675.5 1848.7,1683.4 1852.7,1691.0 1856.6,1698.5 1860.6,1705.8 1864.6,1712.9 1868.6,1719.9 1872.6,1726.8 1876.5,1733.4 1880.5,1740.0 1884.5,1746.4 1888.5,1752.6 1892.5,1758.8 1896.4,1764.8 1900.4,1770.6 1904.4,1776.4 1908.4,1782.1 1912.4,1787.6 1916.3,1793.0 1920.3,1798.4 1924.3,1803.6 1928.3,1808.7 1932.3,1813.8 1936.2,1818.7 1940.2,1823.6 1944.2,1828.4 1948.2,1833.1 1952.2,1837.7 1956.1,1842.3 1960.1,1846.8 1964.1,1851.2 1968.1,1855.6 1972.1,1859.9 1976.0,1864.2 1980.0,1868.4 1984.0,1872.6 1988.0,1876.7 1992.0,1880.7 1995.9,1884.7 1999.9,1888.7 2003.9,1892.6 2007.9,1896.4 2011.9,1900.2 2015.8,1904.0 2019.8,1907.7 2023.8,1911.3 2027.8,1914.9 2031.8,1918.4 2035.7,1921.9 2039.7,1925.3 2043.7,1928.7 2047.7,1932.0 2051.7,1935.2 2055.6,1938.4 2059.6,1941.5 2063.6,1944.6 2067.6,1947.6 2071.6,1950.5 2075.5,1953.3 2079.5,1956.2 2083.5,1958.9 2087.5,1961.6 2091.5,1964.2 2095.4,1966.8 2099.4,1969.3 2103.4,1971.7 2107.4,1974.1 2111.4,1976.4 2115.3,1978.7 2119.3,1981.0 2123.3,1983.2 2127.3,1985.3 2131.3,1987.5 2135.2,1989.5 2139.2,1991.6 2143.2,1993.6 2147.2,1995.6 2151.2,1997.6 2155.1,1999.5 2159.1,2001.5 2163.1,2003.4 2167.1,2005.3 2171.1,2007.1 2175.0,2009.0 2179.0,2010.8 2183.0,2012.7 2187.0,2014.5 2191.0,2016.3 2194.9,2018.0 2198.9,2019.8 2202.9,2021.5 2206.9,2023.2 2210.9,2024.9 2214.8,2026.6 2218.8,2028.2 2222.8,2029.8 2226.8,2031.4 2230.8,2032.9 2234.7,2034.4 2238.7,2035.9 2242.7,2037.3 2246.7,2038.6 2250.7,2039.9 2254.6,2041.1 2258.6,2042.3 2262.6,2043.4 2266.6,2044.4 2270.6,2045.3 2274.5,2046.1 2278.5,2046.8 2282.5,2047.4"/>
<polyline stroke="#7D4E4E" points="292.5,2025.1 296.5,2025.0 300.5,2025.0 304.4,2025.0 308.4,2025.0 312.4,2024.9 316.4,2024.9 320.4,2024.9 324.3,2024.8 328.3,2024.8 332.3,2024.7 336.3,2024.7 340.3,2024.6 344.2,2024.6 348.2,2024.5 352.2,2024.4 356.2,2024.4 360.2,2024.3 364.1,2024.2 368.1,2024.1 372.1,2024.0 376.1,2024.0 380.1,2023.9 384.0,2023.8 388.0,2023.7 392.0,2023.6 396.0,2023.5 400.0,2023.4 403.9,2023.3 407.9,2023.2 411.9,2023.1 415.9,2023.0 419.9,2022.9 423.8,2022.7 427.8,2022.6 431.8,2022.5 435.8,2022.4 439.8,2022.3 443.7,2022.1 447.7,2022.0 451.7,2021.8 455.7,2021.7 459.7,2021.5 463.6,2021.4 467.6,2021.2 471.6,2021.0 475.6,2020.8 479.6,2020.6 483.5,2020.4 487.5,2020.2 491.5,2020.0 495.5,2019.8 499.5,2019.5 503.4,2019.3 507.4,2019.0 511.4,2018.7 515.4,2018.5 519.4,2018.2 523.3,2017.9 527.3,2017.6 531.3,2017.3 535.3,2017.0 539.3,2016.7 543.2,2016.4 547.2,2016.1 551.2,2015.8 555.2,2015.5 559.2,2015.2 563.1,2014.9 567.1,2014.6 571.1,2014.3 575.1,2014.0 579.1,2013.7 583.0,2013.5 587.0,2013.2 591.0,2013.0 595.0,2012.7 599.0,2012.5 602.9,2012.3 606.9,2012.1 610.9,2011.9 614.9,2011.7 618.9,2011.5 622.8,2011.4 626.8,2011.2 630.8,2011.1 634.8,2011.0 638.8,2010.9 642.7,2010.8 646.7,2010.7 650.7,2010.6 654.7,2010.6 658.7,2010.5 662.6,2010.5 666.6,2010.5 670.6,2010.5 674.6,2010.5 678.6,2010.5 682.5,2010.5 686.5,2010.5 690.5,2010.6 694.5,2010.6 698.5,2010.7 702.4,2010.8 706.4,2011.0 710.4,2011.1 714.4,2011.3 718.4,2011.6 722.3,2011.9 726.3,2012.2 730.3,2012.6 734.3,2013.0 738.3,2013.5 742.2,2014.0 746.2,2014.6 750.2,2015.2 754.2,2015.8 758.2,2016.5 762.1,2017.3 766.1,2018.1 770.1,2018.9 774.1,2019.7 778.1,2020.5 782.0,2021.4 786.0,2022.2 790.0,2023.1 794.0,2024.0 798.0,2024.9 801.9,2025.7 805.9,2026.6 809.9,2027.4 813.9,2028.3 817.9,2029.1 821.8,2029.9 825.8,2030.7 829.8,2031.5 833.8,2032.2 837.8,2033.0 841.7,2033.7 845.7,2034.3 849.7,2034.9 853.7,2035.5 857.7,2036.0 861.6,2036.4 865.6,2036.8 869.6,2037.0 873.6,2037.3 877.6,2037.4 881.5,2037.5 885.5,2037.6 889.5,2037.6 893.5,2037.6 897.5,2037.6 901.4,2037.6 905.4,2037.5 909.4,2037.4 913.4,2037.3 917.4,2037.1 921.3,2037.0 925.3,2036.8 929.3,2036.5 933.3,2036.2 937.3,2035.9 941.2,2035.5 945.2,2035.0 949.2,2034.5 953.2,2033.8 957.2,2033.1 961.1,2032.2 965.1,2031.3 969.1,2030.3 973.1,2029.1 977.1,2027.9 981.0,2026.6 985.0,2025.2 989.0,2023.7 993.0,2022.1 997.0,2020.5 1000.9,2018.7 1004.9,2016.8 1008.9,2014.8 1012.9,2012.8 1016.9,2010.6 1020.8,2008.3 1024.8,2005.9 1028.8,2003.3 1032.8,2000.6 1036.8,1997.8 1040.7,1994.9 1044.7,1991.8 1048.7,1988.6 1052.7,1985.2 1056.7,1981.5 1060.6,1977.7 1064.6,1973.7 1068.6,1969.5 1072.6,1964.9 1076.6,1960.1 1080.5,1955.1 1084.5,1949.7 1088.5,1944.0 1092.5,1938.0 1096.5,1931.7 1100.4,1925.2 1104.4,1918.3 1108.4,1911.1 1112.4,1903.5 1116.4,1895.5 1120.3,1887.2 1124.3,1878.4 1128.3,1869.2 1132.3,1859.7 1136.3,1849.9 1140.2,1839.9 1144.2,1829.6 1148.2,1819.1 1152.2,1808.5 1156.2,1797.8 1160.1,1786.9 1164.1,1775.9 1168.1,1764.7 1172.1,1753.5 1176.1,1742.2 1180.0,1730.7 1184.0,1719.2 1188.0,1707.5 1192.0,1695.8 1196.0,1683.9 1199.9,1671.9 1203.9,1659.8 1207.9,1647.6 1211.9,1635.3 1215.9,1622.9 1219.8,1610.4 1223.8,1597.7 1227.8,1584.9 1231.8,1572.1 1235.8,1559.0 1239.7,1545.9 1243.7,1532.7 1247.7,1519.3 1251.7,1505.8 1255.7,1492.3 1259.6,1478.5 1263.6,1464.7 1267.6,1450.8 1271.6,1436.8 1275.6,1422.7 1279.5,1408.5 1283.5,1394.2 1287.5,1379.9 1291.5,1365.5 1295.5,1351.1 1299.4,1336.7 1303.4,1322.2 1307.4,1307.8 1311.4,1293.4 1315.4,1279.1 1319.3,1264.8 1323.3,1250.6 1327.3,1236.6 1331.3,1222.6 1335.3,1208.9 1339.2,1195.3 1343.2,1181.8 1347.2,1168.6 1351.2,1155.7 1355.2,1142.9 1359.1,1130.5 1363.1,1118.3 1367.1,1106.4 1371.1,1094.9 1375.1,1083.7 1379.0,1072.9 1383.0,1062.4 1387.0,1052.3 1391.0,1042.6 1395.0,1033.3 1398.9,1024.5 1402.9,1016.0 1406.9,1008.0 1410.9,1000.3 1414.9,993.1 1418.8,986.3 1422.8,979.9 1426.8,973.9 1430.8,968.2 1434.8,963.0 1438.7,958.1 1442.7,953.6 1446.7,949.4 1450.7,945.6 1454.7,942.2 1458.6,939.1 1462.6,936.4 1466.6,934.1 1470.6,932.0 1474.6,930.4 1478.5,929.1 1482.5,928.1 1486.5,927.6 1490.5,927.3 1494.5,927.5 1498.4,928.1 1502.4,929.0 1506.4,930.3 1510.4,932.0 1514.4,934.0 1518.3,936.4 1522.3,939.2 1526.3,942.3 1530.3,945.7 1534.3,949.5 1538.2,953.6 1542.2,958.0 1546.2,962.8 1550.2,967.8 1554.2,973.2 1558.1,978.9 1562.1,984.8 1566.1,991.1 1570.1,997.6 1574.1,1004.4 1578.0,1011.5 1582.0,1018.8 1586.0,1026.5 1590.0,1034.4 1594.0,1042.5 1597.9,1050.9 1601.9,1059.6 1605.9,1068.5 1609.9,1077.7 1613.9,1087.2 1617.8,1096.8 1621.8,1106.7 1625.8,1116.9 1629.8,1127.3 1633.8,1137.9 1637.7,1148.8 1641.7,1159.9 1645.7,1171.2 1649.7,1182.8 1653.7,1194.6 1657.6,1206.6 1661.6,1218.8 1665.6,1231.3 1669.6,1244.0 1673.6,1256.9 1677.5,1269.9 1681.5,1283.2 1685.5,1296.6 1689.5,1310.2 1693.5,1323.8 1697.4,1337.5 1701.4,1351.3 1705.4,1365.1 1709.4,1378.8 1713.4,1392.5 1717.3,1406.1 1721.3,1419.6 1725.3,1432.9 1729.3,1446.1 1733.3,1459.2 1737.2,1472.1 1741.2,1484.8 1745.2,1497.4 1749.2,1509.8 1753.2,1521.9 1757.1,1534.0 1761.1,1545.8 1765.1,1557.4 1769.1,1568.9 1773.1,1580.2 1777.0,1591.3 1781.0,1602.2 1785.0,1612.9 1789.0,1623.4 1793.0,1633.8 1796.9,1643.9 1800.9,1653.7 1804.9,1663.4 1808.9,1672.7 1812.9,1681.9 1816.8,1690.7 1820.8,1699.4 1824.8,1707.8 1828.8,1715.9 1832.8,1723.9 1836.7,1731.6 1840.7,1739.1 1844.7,1746.4 1848.7,1753.5 1852.7,1760.4 1856.6,1767.1 1860.6,1773.7 1864.6,1780.1 1868.6,1786.4 1872.6,1792.5 1876.5,1798.5 1880.5,1804.3 1884.5,1810.0 1888.5,1815.6 1892.5,1821.0 1896.4,1826.4 1900.4,1831.6 1904.4,1836.8 1908.4,1841.8 1912.4,1846.8 1916.3,1851.7 1920.3,1856.5 1924.3,1861.2 1928.3,1865.9 1932.3,1870.4 1936.2,1875.0 1940.2,1879.4 1944.2,1883.7 1948.2,1888.0 1952.2,1892.2 1956.1,1896.3 1960.1,1900.3 1964.1,1904.2 1968.1,1908.0 1972.1,1911.7 1976.0,1915.2 1980.0,1918.6 1984.0,1921.9 1988.0,1925.1 1992.0,1928.1 1995.9,1931.0 1999.9,1933.8 2003.9,1936.5 2007.9,1939.0 2011.9,1941.5 2015.8,1943.8 2019.8,1946.1 2023.8,1948.3 2027.8,1950.3 2031.8,1952.3 2035.7,1954.3 2039.7,1956.1 2043.7,1958.0 2047.7,1959.7 2051.7,1961.5 2055.6,1963.1 2059.6,1964.8 2063.6,1966.4 2067.6,1967.9 2071.6,1969.4 2075.5,1970.9 2079.5,1972.3 2083.5,1973.7 2087.5,1975.1 2091.5,1976.4 2095.4,1977.7 2099.4,1979.0 2103.4,1980.2 2107.4,1981.4 2111.4,1982.6 2115.3,1983.7 2119.3,1984.8 2123.3,1985.9 2127.3,1987.0 2131.3,1988.0 2135.2,1989.0 2139.2,1989.9 2143.2,1990.9 2147.2,1991.8 2151.2,1992.7 2155.1,1993.6 2159.1,1994.5 2163.1,1995.3 2167.1,1996.2 2171.1,1997.0 2175.0,1997.8 2179.0,1998.6 2183.0,1999.3 2187.0,2000.1 2191.0,2000.8 2194.9,2001.6 2198.9,2002.3 2202.9,2003.0 2206.9,2003.7 2210.9,2004.3 2214.8,2005.0 2218.8,2005.6 2222.8,2006.3 2226.8,2006.9 2230.8,2007.4 2234.7,2008.0 2238.7,2008.6 2242.7,2009.1 2246.7,2009.6 2250.7,2010.1 2254.6,2010.5 2258.6,2010.9 2262.6,2011.4 2266.6,2011.7 2270.6,2012.1 2274.5,2012.4 2278.5,2012.7 2282.5,2012.9"/>
<polyline stroke="#8E8E00" points="292.5,2031.3 296.5,2031.4 300.5,2031.5 304.4,2031.6 308.4,2031.7 312.4,2031.8 316.4,2031.9 320.4,2032.0 324.3,2032.2 328.3,2032.3 332.3,2032.5 336.3,2032.6 340.3,2032.8 344.2,2032.9 348.2,2033.1 352.2,2033.2 356.2,2033.4 360.2,2033.5 364.1,2033.7 368.1,2033.9 372.1,2034.0 376.1,2034.2 380.1,2034.4 384.0,2034.5 388.0,2034.7 392.0,2034.9 396.0,2035.0 400.0,2035.2 403.9,2035.4 407.9,2035.6 411.9,2035.7 415.9,2035.9 419.9,2036.1 423.8,2036.3 427.8,2036.5 431.8,2036.6 435.8,2036.8 439.8,2037.0 443.7,2037.2 447.7,2037.4 451.7,2037.6 455.7,2037.8 459.7,2038.0 463.6,2038.2 467.6,2038.4 471.6,2038.6 475.6,2038.8 479.6,2039.0 483.5,2039.2 487.5,2039.4 491.5,2039.6 495.5,2039.9 499.5,2040.1 503.4,2040.3 507.4,2040.5 511.4,2040.7 515.4,2040.9 519.4,2041.1 523.3,2041.3 527.3,2041.5 531.3,2041.7 535.3,2041.9 539.3,2042.1 543.2,2042.3 547.2,2042.5 551.2,2042.6 555.2,2042.8 559.2,2043.0 563.1,2043.2 567.1,2043.3 571.1,2043.5 575.1,2043.7 579.1,2043.8 583.0,2043.9 587.0,2044.1 591.0,2044.2 595.0,2044.3 599.0,2044.4 602.9,2044.6 606.9,2044.7 610.9,2044.8 614.9,2044.9 618.9,2045.0 622.8,2045.1 626.8,2045.2 630.8,2045.3 634.8,2045.4 638.8,2045.5 642.7,2045.6 646.7,2045.7 650.7,2045.8 654.7,2046.0 658.7,2046.1 662.6,2046.3 666.6,2046.4 670.6,2046.6 674.6,2046.8 678.6,2047.0 682.5,2047.2 686.5,2047.4 690.5,2047.7 694.5,2048.1 698.5,2048.4 702.4,2048.9 706.4,2049.4 710.4,2049.9 714.4,2050.5 718.4,2051.1 722.3,2051.8 726.3,2052.4 730.3,2053.2 734.3,2053.9 738.3,2054.7 742.2,2055.6 746.2,2056.4 750.2,2057.4 754.2,2058.3 758.2,2059.3 762.1,2060.3 766.1,2061.3 770.1,2062.3 774.1,2063.3 778.1,2064.3 782.0,2065.2 786.0,2066.1 790.0,2067.0 794.0,2067.8 798.0,2068.6 801.9,2069.3 805.9,2069.9 809.9,2070.5 813.9,2071.0 817.9,2071.5 821.8,2072.0 825.8,2072.4 829.8,2072.9 833.8,2073.3 837.8,2073.7 841.7,2074.2 845.7,2074.6 849.7,2075.0 853.7,2075.3 857.7,2075.7 861.6,2076.1 865.6,2076.4 869.6,2076.8 873.6,2077.1 877.6,2077.4 881.5,2077.7 885.5,2077.9 889.5,2078.2 893.5,2078.4 897.5,2078.6 901.4,2078.8 905.4,2078.9 909.4,2079.1 913.4,2079.2 917.4,2079.3 921.3,2079.3 925.3,2079.3 929.3,2079.3 933.3,2079.2 937.3,2079.1 941.2,2078.9 945.2,2078.7 949.2,2078.4 953.2,2078.0 957.2,2077.6 961.1,2077.1 965.1,2076.6 969.1,2076.1 973.1,2075.5 977.1,2074.8 981.0,2074.2 985.0,2073.5 989.0,2072.7 993.0,2072.0 997.0,2071.2 1000.9,2070.4 1004.9,2069.6 1008.9,2068.8 1012.9,2067.9 1016.9,2067.0 1020.8,2066.1 1024.8,2065.2 1028.8,2064.2 1032.8,2063.1 1036.8,2061.9 1040.7,2060.5 1044.7,2058.9 1048.7,2057.0 1052.7,2054.7 1056.7,2051.9 1060.6,2048.5 1064.6,2044.5 1068.6,2039.9 1072.6,2034.7 1076.6,2029.2 1080.5,2023.4 1084.5,2017.5 1088.5,2011.4 1092.5,2005.2 1096.5,1998.8 1100.4,1992.2 1104.4,1985.4 1108.4,1978.3 1112.4,1971.0 1116.4,1963.4 1120.3,1955.5 1124.3,1947.4 1128.3,1939.0 1132.3,1930.4 1136.3,1921.5 1140.2,1912.4 1144.2,1902.9 1148.2,1893.2 1152.2,1883.1 1156.2,1872.7 1160.1,1862.0 1164.1,1851.1 1168.1,1839.9 1172.1,1828.4 1176.1,1816.8 1180.0,1805.1 1184.0,1793.2 1188.0,1781.1 1192.0,1769.0 1196.0,1756.7 1199.9,1744.3 1203.9,1731.9 1207.9,1719.3 1211.9,1706.6 1215.9,1693.9 1219.8,1681.0 1223.8,1668.0 1227.8,1655.0 1231.8,1641.8 1235.8,1628.6 1239.7,1615.2 1243.7,1601.8 1247.7,1588.2 1251.7,1574.6 1255.7,1560.9 1259.6,1547.1 1263.6,1533.2 1267.6,1519.2 1271.6,1505.1 1275.6,1491.0 1279.5,1476.8 1283.5,1462.5 1287.5,1448.2 1291.5,1433.9 1295.5,1419.5 1299.4,1405.1 1303.4,1390.7 1307.4,1376.3 1311.4,1361.9 1315.4,1347.6 1319.3,1333.3 1323.3,1319.1 1327.3,1305.0 1331.3,1291.1 1335.3,1277.3 1339.2,1263.6 1343.2,1250.2 1347.2,1237.0 1351.2,1224.0 1355.2,1211.2 1359.1,1198.7 1363.1,1186.5 1367.1,1174.6 1371.1,1163.0 1375.1,1151.8 1379.0,1140.9 1383.0,1130.4 1387.0,1120.3 1391.0,1110.5 1395.0,1101.1 1398.9,1092.2 1402.9,1083.6 1406.9,1075.5 1410.9,1067.8 1414.9,1060.5 1418.8,1053.5 1422.8,1047.0 1426.8,1040.9 1430.8,1035.2 1434.8,1029.8 1438.7,1024.9 1442.7,1020.3 1446.7,1016.1 1450.7,1012.2 1454.7,1008.7 1458.6,1005.6 1462.6,1002.9 1466.6,1000.5 1470.6,998.4 1474.6,996.7 1478.5,995.4 1482.5,994.5 1486.5,993.9 1490.5,993.6 1494.5,993.8 1498.4,994.3 1502.4,995.2 1506.4,996.4 1510.4,998.1 1514.4,1000.1 1518.3,1002.5 1522.3,1005.2 1526.3,1008.3 1530.3,1011.7 1534.3,1015.5 1538.2,1019.6 1542.2,1024.1 1546.2,1028.9 1550.2,1034.0 1554.2,1039.5 1558.1,1045.3 1562.1,1051.4 1566.1,1057.8 1570.1,1064.5 1574.1,1071.6 1578.0,1078.9 1582.0,1086.6 1586.0,1094.5 1590.0,1102.7 1594.0,1111.3 1597.9,1120.1 1601.9,1129.2 1605.9,1138.5 1609.9,1148.2 1613.9,1158.1 1617.8,1168.2 1621.8,1178.7 1625.8,1189.4 1629.8,1200.3 1633.8,1211.5 1637.7,1223.0 1641.7,1234.7 1645.7,1246.6 1649.7,1258.8 1653.7,1271.2 1657.6,1283.8 1661.6,1296.5 1665.6,1309.5 1669.6,1322.6 1673.6,1335.8 1677.5,1349.1 1681.5,1362.5 1685.5,1375.9 1689.5,1389.3 1693.5,1402.7 1697.4,1416.0 1701.4,1429.4 1705.4,1442.6 1709.4,1455.8 1713.4,1468.8 1717.3,1481.8 1721.3,1494.6 1725.3,1507.3 1729.3,1519.9 1733.3,1532.4 1737.2,1544.7 1741.2,1556.9 1745.2,1569.0 1749.2,1580.9 1753.2,1592.7 1757.1,1604.3 1761.1,1615.8 1765.1,1627.1 1769.1,1638.2 1773.1,1649.2 1777.0,1659.9 1781.0,1670.5 1785.0,1680.8 1789.0,1690.9 1793.0,1700.8 1796.9,1710.5 1800.9,1720.0 1804.9,1729.3 1808.9,1738.4 1812.9,1747.2 1816.8,1755.9 1820.8,1764.4 1824.8,1772.7 1828.8,1780.8 1832.8,1788.7 1836.7,1796.4 1840.7,1804.0 1844.7,1811.4 1848.7,1818.7 1852.7,1825.7 1856.6,1832.7 1860.6,1839.5 1864.6,1846.2 1868.6,1852.8 1872.6,1859.2 1876.5,1865.5 1880.5,1871.7 1884.5,1877.8 1888.5,1883.7 1892.5,1889.4 1896.4,1895.0 1900.4,1900.4 1904.4,1905.6 1908.4,1910.6 1912.4,1915.4 1916.3,1920.0 1920.3,1924.4 1924.3,1928.6 1928.3,1932.7 1932.3,1936.5 1936.2,1940.2 1940.2,1943.8 1944.2,1947.2 1948.2,1950.4 1952.2,1953.5 1956.1,1956.4 1960.1,1959.2 1964.1,1961.9 1968.1,1964.5 1972.1,1966.9 1976.0,1969.3 1980.0,1971.6 1984.0,1973.8 1988.0,1975.9 1992.0,1977.9 1995.9,1979.8 1999.9,1981.7 2003.9,1983.4 2007.9,1985.2 2011.9,1986.8 2015.8,1988.3 2019.8,1989.8 2023.8,1991.3 2027.8,1992.6 2031.8,1994.0 2035.7,1995.2 2039.7,1996.4 2043.7,1997.6 2047.7,1998.7 2051.7,1999.7 2055.6,2000.7 2059.6,2001.7 2063.6,2002.6 2067.6,2003.5 2071.6,2004.4 2075.5,2005.2 2079.5,2006.0 2083.5,2006.8 2087.5,2007.5 2091.5,2008.2 2095.4,2008.9 2099.4,2009.6 2103.4,2010.2 2107.4,2010.8 2111.4,2011.4 2115.3,2011.9 2119.3,2012.4 2123.3,2012.9 2127.3,2013.4 2131.3,2013.8 2135.2,2014.3 2139.2,2014.7 2143.2,2015.1 2147.2,2015.4 2151.2,2015.8 2155.1,2016.1 2159.1,2016.4 2163.1,2016.7 2167.1,2017.0 2171.1,2017.3 2175.0,2017.5 2179.0,2017.8 2183.0,2018.0 2187.0,2018.3 2191.0,2018.5 2194.9,2018.7 2198.9,2018.9 2202.9,2019.1 2206.9,2019.3 2210.9,2019.5 2214.8,2019.7 2218.8,2019.9 2222.8,2020.0 2226.8,2020.2 2230.8,2020.3 2234.7,2020.5 2238.7,2020.6 2242.7,2020.8 2246.7,2020.9 2250.7,2021.0 2254.6,2021.1 2258.6,2021.2 2262.6,2021.3 2266.6,2021.4 2270.6,2021.5 2274.5,2021.6 2278.5,2021.7 2282.5,2021.7"/>
<polyline stroke="#FB6501" points="292.5,2046.9 296.5,2046.6 300.5,2046.3 304.4,2046.0 308.4,2045.6 312.4,2045.2 316.4,2044.8 320.4,2044.4 324.3,2044.0 328.3,2043.6 332.3,2043.2 336.3,2042.8 340.3,2042.4 344.2,2042.0 348.2,2041.6 352.2,2041.2 356.2,2040.9 360.2,2040.5 364.1,2040.1 368.1,2039.7 372.1,2039.3 376.1,2039.0 380.1,2038.6 384.0,2038.2 388.0,2037.9 392.0,2037.5 396.0,2037.2 400.0,2036.8 403.9,2036.5 407.9,2036.1 411.9,2035.8 415.9,2035.4 419.9,2035.1 423.8,2034.8 427.8,2034.4 431.8,2034.1 435.8,2033.8 439.8,2033.5 443.7,2033.2 447.7,2032.9 451.7,2032.6 455.7,2032.3 459.7,2032.0 463.6,2031.7 467.6,2031.4 471.6,2031.1 475.6,2030.8 479.6,2030.5 483.5,2030.3 487.5,2030.0 491.5,2029.7 495.5,2029.5 499.5,2029.2 503.4,2028.9 507.4,2028.7 511.4,2028.4 515.4,2028.1 519.4,2027.9 523.3,2027.6 527.3,2027.3 531.3,2027.1 535.3,2026.8 539.3,2026.6 543.2,2026.3 547.2,2026.1 551.2,2025.8 555.2,2025.6 559.2,2025.3 563.1,2025.1 567.1,2024.9 571.1,2024.6 575.1,2024.4 579.1,2024.2 583.0,2024.0 587.0,2023.8 591.0,2023.6 595.0,2023.4 599.0,2023.2 602.9,2023.1 606.9,2022.9 610.9,2022.8 614.9,2022.6 618.9,2022.5 622.8,2022.4 626.8,2022.3 630.8,2022.2 634.8,2022.1 638.8,2022.0 642.7,2022.0 646.7,2021.9 650.7,2021.9 654.7,2021.9 658.7,2021.9 662.6,2021.9 666.6,2021.9 670.6,2022.0 674.6,2022.0 678.6,2022.1 682.5,2022.3 686.5,2022.4 690.5,2022.7 694.5,2022.9 698.5,2023.2 702.4,2023.6 706.4,2024.0 710.4,2024.5 714.4,2025.1 718.4,2025.7 722.3,2026.4 726.3,2027.1 730.3,2027.9 734.3,2028.8 738.3,2029.8 742.2,2030.8 746.2,2031.8 750.2,2033.0 754.2,2034.2 758.2,2035.4 762.1,2036.6 766.1,2037.9 770.1,2039.2 774.1,2040.5 778.1,2041.9 782.0,2043.2 786.0,2044.6 790.0,2046.0 794.0,2047.4 798.0,2048.8 801.9,2050.2 805.9,2051.7 809.9,2053.1 813.9,2054.6 817.9,2056.1 821.8,2057.6 825.8,2059.2 829.8,2060.7 833.8,2062.3 837.8,2063.9 841.7,2065.5 845.7,2067.1 849.7,2068.6 853.7,2070.1 857.7,2071.5 861.6,2072.8 865.6,2074.1 869.6,2075.2 873.6,2076.2 877.6,2077.1 881.5,2077.9 885.5,2078.6 889.5,2079.1 893.5,2079.6 897.5,2080.0 901.4,2080.3 905.4,2080.7 909.4,2081.0 913.4,2081.2 917.4,2081.5 921.3,2081.7 925.3,2082.0 929.3,2082.2 933.3,2082.4 937.3,2082.6 941.2,2082.8 945.2,2082.9 949.2,2083.1 953.2,2083.2 957.2,2083.4 961.1,2083.5 965.1,2083.6 969.1,2083.7 973.1,2083.7 977.1,2083.7 981.0,2083.7 985.0,2083.6 989.0,2083.5 993.0,2083.2 997.0,2082.9 1000.9,2082.4 1004.9,2081.8 1008.9,2081.0 1012.9,2080.2 1016.9,2079.2 1020.8,2078.1 1024.8,2077.0 1028.8,2075.7 1032.8,2074.4 1036.8,2073.1 1040.7,2071.8 1044.7,2070.4 1048.7,2069.0 1052.7,2067.7 1056.7,2066.3 1060.6,2064.8 1064.6,2063.3 1068.6,2061.6 1072.6,2059.6 1076.6,2057.3 1080.5,2054.3 1084.5,2050.7 1088.5,2046.3 1092.5,2041.1 1096.5,2035.2 1100.4,2028.7 1104.4,2021.7 1108.4,2014.5 1112.4,2007.1 1116.4,1999.5 1120.3,1991.7 1124.3,1983.7 1128.3,1975.5 1132.3,1967.0 1136.3,1958.3 1140.2,1949.3 1144.2,1940.0 1148.2,1930.5 1152.2,1920.8 1156.2,1910.8 1160.1,1900.5 1164.1,1890.0 1168.1,1879.2 1172.1,1868.2 1176.1,1856.9 1180.0,1845.4 1184.0,1833.7 1188.0,1821.9 1192.0,1810.0 1196.0,1797.9 1199.9,1785.7 1203.9,1773.4 1207.9,1761.0 1211.9,1748.5 1215.9,1736.0 1219.8,1723.4 1223.8,1710.7 1227.8,1697.9 1231.8,1685.0 1235.8,1672.1 1239.7,1659.1 1243.7,1646.0 1247.7,1632.9 1251.7,1619.7 1255.7,1606.4 1259.6,1593.1 1263.6,1579.7 1267.6,1566.3 1271.6,1552.8 1275.6,1539.3 1279.5,1525.7 1283.5,1512.1 1287.5,1498.5 1291.5,1484.9 1295.5,1471.2 1299.4,1457.6 1303.4,1443.9 1307.4,1430.3 1311.4,1416.7 1315.4,1403.1 1319.3,1389.6 1323.3,1376.2 1327.3,1362.9 1331.3,1349.7 1335.3,1336.6 1339.2,1323.6 1343.2,1310.9 1347.2,1298.3 1351.2,1285.9 1355.2,1273.7 1359.1,1261.8 1363.1,1250.1 1367.1,1238.7 1371.1,1227.6 1375.1,1216.7 1379.0,1206.2 1383.0,1196.0 1387.0,1186.1 1391.0,1176.6 1395.0,1167.4 1398.9,1158.5 1402.9,1150.0 1406.9,1141.9 1410.9,1134.1 1414.9,1126.8 1418.8,1119.8 1422.8,1113.2 1426.8,1107.0 1430.8,1101.2 1434.8,1095.8 1438.7,1090.8 1442.7,1086.1 1446.7,1081.9 1450.7,1078.0 1454.7,1074.6 1458.6,1071.5 1462.6,1068.8 1466.6,1066.4 1470.6,1064.4 1474.6,1062.8 1478.5,1061.5 1482.5,1060.6 1486.5,1060.0 1490.5,1059.8 1494.5,1059.9 1498.4,1060.4 1502.4,1061.2 1506.4,1062.3 1510.4,1063.8 1514.4,1065.7 1518.3,1067.9 1522.3,1070.5 1526.3,1073.4 1530.3,1076.7 1534.3,1080.4 1538.2,1084.4 1542.2,1088.9 1546.2,1093.7 1550.2,1098.8 1554.2,1104.4 1558.1,1110.3 1562.1,1116.6 1566.1,1123.2 1570.1,1130.2 1574.1,1137.6 1578.0,1145.3 1582.0,1153.4 1586.0,1161.8 1590.0,1170.5 1594.0,1179.6 1597.9,1188.9 1601.9,1198.6 1605.9,1208.6 1609.9,1218.9 1613.9,1229.4 1617.8,1240.3 1621.8,1251.4 1625.8,1262.7 1629.8,1274.3 1633.8,1286.0 1637.7,1298.0 1641.7,1310.2 1645.7,1322.5 1649.7,1334.9 1653.7,1347.5 1657.6,1360.1 1661.6,1372.8 1665.6,1385.6 1669.6,1398.3 1673.6,1411.1 1677.5,1423.9 1681.5,1436.6 1685.5,1449.4 1689.5,1462.0 1693.5,1474.7 1697.4,1487.2 1701.4,1499.7 1705.4,1512.1 1709.4,1524.5 1713.4,1536.7 1717.3,1548.9 1721.3,1560.9 1725.3,1572.9 1729.3,1584.8 1733.3,1596.6 1737.2,1608.3 1741.2,1619.9 1745.2,1631.4 1749.2,1642.8 1753.2,1654.1 1757.1,1665.4 1761.1,1676.5 1765.1,1687.5 1769.1,1698.5 1773.1,1709.3 1777.0,1720.1 1781.0,1730.8 1785.0,1741.4 1789.0,1751.9 1793.0,1762.3 1796.9,1772.6 1800.9,1782.8 1804.9,1793.0 1808.9,1803.0 1812.9,1812.9 1816.8,1822.7 1820.8,1832.4 1824.8,1842.0 1828.8,1851.4 1832.8,1860.6 1836.7,1869.6 1840.7,1878.4 1844.7,1886.9 1848.7,1895.1 1852.7,1903.0 1856.6,1910.6 1860.6,1917.9 1864.6,1925.0 1868.6,1931.8 1872.6,1938.4 1876.5,1944.7 1880.5,1950.8 1884.5,1956.7 1888.5,1962.3 1892.5,1967.7 1896.4,1972.8 1900.4,1977.7 1904.4,1982.4 1908.4,1986.9 1912.4,1991.1 1916.3,1995.2 1920.3,1999.0 1924.3,2002.7 1928.3,2006.1 1932.3,2009.4 1936.2,2012.5 1940.2,2015.5 1944.2,2018.3 1948.2,2020.9 1952.2,2023.4 1956.1,2025.7 1960.1,2027.8 1964.1,2029.7 1968.1,2031.5 1972.1,2033.1 1976.0,2034.6 1980.0,2035.9 1984.0,2037.1 1988.0,2038.1 1992.0,2039.1 1995.9,2040.0 1999.9,2040.8 2003.9,2041.5 2007.9,2042.2 2011.9,2042.8 2015.8,2043.3 2019.8,2043.8 2023.8,2044.2 2027.8,2044.5 2031.8,2044.8 2035.7,2045.0 2039.7,2045.2 2043.7,2045.3 2047.7,2045.4 2051.7,2045.4 2055.6,2045.5 2059.6,2045.5 2063.6,2045.5 2067.6,2045.4 2071.6,2045.4 2075.5,2045.2 2079.5,2045.1 2083.5,2044.9 2087.5,2044.7 2091.5,2044.4 2095.4,2044.1 2099.4,2043.8 2103.4,2043.4 2107.4,2043.0 2111.4,2042.7 2115.3,2042.3 2119.3,2041.9 2123.3,2041.5 2127.3,2041.1 2131.3,2040.7 2135.2,2040.3 2139.2,2040.0 2143.2,2039.6 2147.2,2039.2 2151.2,2038.8 2155.1,2038.5 2159.1,2038.1 2163.1,2037.7 2167.1,2037.4 2171.1,2037.0 2175.0,2036.6 2179.0,2036.3 2183.0,2035.9 2187.0,2035.6 2191.0,2035.2 2194.9,2034.9 2198.9,2034.5 2202.9,2034.2 2206.9,2033.9 2210.9,2033.6 2214.8,2033.3 2218.8,2033.0 2222.8,2032.7 2226.8,2032.4 2230.8,2032.2 2234.7,2031.9 2238.7,2031.7 2242.7,2031.4 2246.7,2031.2 2250.7,2031.0 2254.6,2030.8 2258.6,2030.6 2262.6,2030.4 2266.6,2030.2 2270.6,2030.1 2274.5,2029.9 2278.5,2029.8 2282.5,2029.7"/>
</g>
<text transform="translate(261.0,2079.0) scale(0.985,1)" font-size="88.5" text-anchor="end">0</text>
<text transform="translate(261.0,1857.9) scale(0.985,1)" font-size="88.5" text-anchor="end">100</text>
<text transform="translate(261.0,1636.9) scale(0.985,1)" font-size="88.5" text-anchor="end">200</text>
<text transform="translate(261.0,1415.8) scale(0.985,1)" font-size="88.5" text-anchor="end">300</text>
<text transform="translate(261.0,1194.8) scale(0.985,1)" font-size="88.5" text-anchor="end">400</text>
<text transform="translate(261.0,973.7) scale(0.985,1)" font-size="88.5" text-anchor="end">500</text>
<text transform="translate(261.0,752.7) scale(0.985,1)" font-size="88.5" text-anchor="end">600</text>
<text transform="translate(261.0,531.6) scale(0.985,1)" font-size="88.5" text-anchor="end">700</text>
<text transform="translate(261.0,310.6) scale(0.985,1)" font-size="88.5" text-anchor="end">800</text>
<text transform="translate(261.0,89.5) scale(0.985,1)" font-size="88.5" text-anchor="end">900</text>
<text transform="translate(290.5,2173.0) scale(0.985,1)" font-size="88.5" text-anchor="middle">490</text>
<text transform="translate(688.5,2173.0) scale(0.985,1)" font-size="88.5" text-anchor="middle">500</text>
<text transform="translate(1086.5,2173.0) scale(0.985,1)" font-size="88.5" text-anchor="middle">510</text>
<text transform="translate(1484.5,2173.0) scale(0.985,1)" font-size="88.5" text-anchor="middle">520</text>
<text transform="translate(1882.5,2173.0) scale(0.985,1)" font-size="88.5" text-anchor="middle">530</text>
<text transform="translate(2280.5,2173.0) scale(0.985,1)" font-size="88.5" text-anchor="middle">540</text>
<text transform="translate(1287.0,2275.0) scale(1.008,1)" font-size="88.5" text-anchor="middle">Wavelength (nm)</text>
<text transform="translate(89.8,1050.5) rotate(-90) scale(1.012,1)" font-size="88.5" text-anchor="middle">FI Intensity (a.u.)</text>
<g fill="#000" stroke="none">
<rect x="2043.6" y="915" width="10.8" height="591" rx="2"/>
<path d="M2049,843 L2075.5,945 Q2076.5,950 2072.5,948 L2049,925 L2025.5,948 Q2021.5,950 2022.5,945 Z" stroke="#000" stroke-width="3.5" stroke-linejoin="round"/>
</g>
<text transform="translate(1883,793.5) scale(1.0,1)" font-size="100.5">Hg<tspan font-size="61" dy="-40" dx="1" letter-spacing="3">2+</tspan></text>
<g stroke="#000" stroke-width="4.3" fill="none">
<line x1="424.5" y1="44" x2="424.5" y2="950.4"/>
<line x1="422.4" y1="948.3" x2="1379" y2="948.3"/>
<line x1="424.5" y1="895.1" x2="431.5" y2="895.1"/>
<line x1="424.5" y1="841.9" x2="437.5" y2="841.9"/>
<line x1="424.5" y1="788.7" x2="431.5" y2="788.7"/>
<line x1="424.5" y1="735.5" x2="437.5" y2="735.5"/>
<line x1="424.5" y1="682.3" x2="431.5" y2="682.3"/>
<line x1="424.5" y1="629.1" x2="437.5" y2="629.1"/>
<line x1="424.5" y1="575.9" x2="431.5" y2="575.9"/>
<line x1="424.5" y1="522.7" x2="437.5" y2="522.7"/>
<line x1="424.5" y1="469.5" x2="431.5" y2="469.5"/>
<line x1="424.5" y1="416.3" x2="437.5" y2="416.3"/>
<line x1="424.5" y1="363.1" x2="431.5" y2="363.1"/>
<line x1="424.5" y1="309.9" x2="437.5" y2="309.9"/>
<line x1="424.5" y1="256.7" x2="431.5" y2="256.7"/>
<line x1="424.5" y1="203.5" x2="437.5" y2="203.5"/>
<line x1="424.5" y1="150.3" x2="431.5" y2="150.3"/>
<line x1="424.5" y1="97.1" x2="437.5" y2="97.1"/>
<line x1="424.5" y1="43.9" x2="431.5" y2="43.9"/>
<line x1="463.4" y1="948.3" x2="463.4" y2="941.3"/>
<line x1="524.3" y1="948.3" x2="524.3" y2="935.3"/>
<line x1="585.2" y1="948.3" x2="585.2" y2="941.3"/>
<line x1="646.1" y1="948.3" x2="646.1" y2="935.3"/>
<line x1="707.0" y1="948.3" x2="707.0" y2="941.3"/>
<line x1="767.9" y1="948.3" x2="767.9" y2="935.3"/>
<line x1="828.8" y1="948.3" x2="828.8" y2="941.3"/>
<line x1="889.7" y1="948.3" x2="889.7" y2="935.3"/>
<line x1="950.6" y1="948.3" x2="950.6" y2="941.3"/>
<line x1="1011.5" y1="948.3" x2="1011.5" y2="935.3"/>
<line x1="1072.4" y1="948.3" x2="1072.4" y2="941.3"/>
<line x1="1133.3" y1="948.3" x2="1133.3" y2="935.3"/>
<line x1="1194.2" y1="948.3" x2="1194.2" y2="941.3"/>
<line x1="1255.1" y1="948.3" x2="1255.1" y2="935.3"/>
<line x1="1316.0" y1="948.3" x2="1316.0" y2="941.3"/>
<line x1="1376.9" y1="948.3" x2="1376.9" y2="935.3"/>
</g>
<text transform="translate(410.0,959.9) scale(1.01,1)" font-size="37.2" text-anchor="end" fill="#000" stroke="#000" stroke-width="0.55">350</text>
<text transform="translate(410.0,853.5) scale(1.01,1)" font-size="37.2" text-anchor="end" fill="#000" stroke="#000" stroke-width="0.55">400</text>
<text transform="translate(410.0,747.1) scale(1.01,1)" font-size="37.2" text-anchor="end" fill="#000" stroke="#000" stroke-width="0.55">450</text>
<text transform="translate(410.0,640.7) scale(1.01,1)" font-size="37.2" text-anchor="end" fill="#000" stroke="#000" stroke-width="0.55">500</text>
<text transform="translate(410.0,534.3) scale(1.01,1)" font-size="37.2" text-anchor="end" fill="#000" stroke="#000" stroke-width="0.55">550</text>
<text transform="translate(410.0,427.9) scale(1.01,1)" font-size="37.2" text-anchor="end" fill="#000" stroke="#000" stroke-width="0.55">600</text>
<text transform="translate(410.0,321.5) scale(1.01,1)" font-size="37.2" text-anchor="end" fill="#000" stroke="#000" stroke-width="0.55">650</text>
<text transform="translate(410.0,215.1) scale(1.01,1)" font-size="37.2" text-anchor="end" fill="#000" stroke="#000" stroke-width="0.55">700</text>
<text transform="translate(410.0,108.7) scale(1.01,1)" font-size="37.2" text-anchor="end" fill="#000" stroke="#000" stroke-width="0.55">750</text>
<text transform="translate(524.3,992.5) scale(1.01,1)" font-size="37.2" text-anchor="middle" fill="#000" stroke="#000" stroke-width="0.55">0</text>
<text transform="translate(646.1,992.5) scale(1.01,1)" font-size="37.2" text-anchor="middle" fill="#000" stroke="#000" stroke-width="0.55">3</text>
<text transform="translate(767.9,992.5) scale(1.01,1)" font-size="37.2" text-anchor="middle" fill="#000" stroke="#000" stroke-width="0.55">6</text>
<text transform="translate(889.7,992.5) scale(1.01,1)" font-size="37.2" text-anchor="middle" fill="#000" stroke="#000" stroke-width="0.55">9</text>
<text transform="translate(1011.5,992.5) scale(1.01,1)" font-size="37.2" text-anchor="middle" fill="#000" stroke="#000" stroke-width="0.55">12</text>
<text transform="translate(1133.3,992.5) scale(1.01,1)" font-size="37.2" text-anchor="middle" fill="#000" stroke="#000" stroke-width="0.55">15</text>
<text transform="translate(1255.1,992.5) scale(1.01,1)" font-size="37.2" text-anchor="middle" fill="#000" stroke="#000" stroke-width="0.55">18</text>
<text transform="translate(1376.9,992.5) scale(1.01,1)" font-size="37.2" text-anchor="middle" fill="#000" stroke="#000" stroke-width="0.55">21</text>
<text transform="translate(752.3,1055.6) scale(1.07,1)" font-size="42" text-anchor="start" fill="#000" stroke="#000" stroke-width="0.55">[Hg</text>
<text transform="translate(827.5,1037.4)" font-size="30.5" text-anchor="start" fill="#000" stroke="#000" stroke-width="0.55">2+</text>
<text transform="translate(863.8,1055.6)" font-size="42" text-anchor="start" fill="#000" stroke="#000" stroke-width="0.55">]</text>
<text transform="translate(903.2,1061.0)" font-size="42" text-anchor="middle" fill="#000" stroke="#000" stroke-width="0.55">×</text>
<text transform="translate(932.8,1055.6) scale(1.04,1)" font-size="42" text-anchor="start" fill="#000" stroke="#000" stroke-width="0.55">10</text>
<text transform="translate(987.0,1037.6)" font-size="29" text-anchor="start" fill="#000" stroke="#000" stroke-width="0.55">−9</text>
<text transform="translate(338.3,495.5) rotate(-90) scale(1.085,1)" font-size="42.3" text-anchor="middle" fill="#000" stroke="#000" stroke-width="0.55">Fluorescence Intensity (a.u.)</text>
<g clip-path="url(#insclip)">
<line x1="561.7" y1="774.6" x2="1385.0" y2="134.2" stroke="#000" stroke-width="3.7"/>
<ellipse cx="564.5" cy="851.9" rx="14.1" ry="11.9" fill="url(#ball)"/>
<ellipse cx="605.5" cy="780.3" rx="14.1" ry="11.9" fill="url(#ball)"/>
<ellipse cx="646" cy="728.9" rx="14.1" ry="11.9" fill="url(#ball)"/>
<ellipse cx="687" cy="689.8" rx="14.1" ry="11.9" fill="url(#ball)"/>
<ellipse cx="727.6" cy="632" rx="14.1" ry="11.9" fill="url(#ball)"/>
<ellipse cx="767.8" cy="590.5" rx="14.1" ry="11.9" fill="url(#ball)"/>
<ellipse cx="808" cy="548" rx="14.1" ry="11.9" fill="url(#ball)"/>
<ellipse cx="848.5" cy="505.7" rx="14.1" ry="11.9" fill="url(#ball)"/>
<ellipse cx="889.3" cy="484.4" rx="14.1" ry="11.9" fill="url(#ball)"/>
<ellipse cx="929.8" cy="462.7" rx="14.1" ry="11.9" fill="url(#ball)"/>
<ellipse cx="971" cy="419.6" rx="14.1" ry="11.9" fill="url(#ball)"/>
<ellipse cx="1011.2" cy="398.9" rx="14.1" ry="11.9" fill="url(#ball)"/>
<ellipse cx="1052" cy="377.5" rx="14.1" ry="11.9" fill="url(#ball)"/>
<ellipse cx="1092.5" cy="356.1" rx="14.1" ry="11.9" fill="url(#ball)"/>
<ellipse cx="1133.3" cy="335.4" rx="14.1" ry="11.9" fill="url(#ball)"/>
<ellipse cx="1173.8" cy="314.7" rx="14.1" ry="11.9" fill="url(#ball)"/>
<ellipse cx="1214.5" cy="293" rx="14.1" ry="11.9" fill="url(#ball)"/>
<ellipse cx="1255.3" cy="250.6" rx="14.1" ry="11.9" fill="url(#ball)"/>
<ellipse cx="1295.5" cy="229.2" rx="14.1" ry="11.9" fill="url(#ball)"/>
<ellipse cx="1336.5" cy="207.8" rx="14.1" ry="11.9" fill="url(#ball)"/>
<ellipse cx="1377" cy="147.2" rx="14.1" ry="11.9" fill="url(#ball)"/>
</g>
<rect x="433.8" y="63.7" width="628.5" height="234.60000000000002" fill="#bdbdbd"/>
<rect x="432.3" y="62.2" width="628.5" height="234.60000000000002" fill="#fff" stroke="#808080" stroke-width="1.9"/>
<g stroke="#c6c6c6" stroke-width="1.5">
<line x1="432.3" y1="111.3" x2="1060.8" y2="111.3"/>
<line x1="432.3" y1="157.6" x2="1060.8" y2="157.6"/>
<line x1="432.3" y1="204.4" x2="1060.8" y2="204.4"/>
<line x1="432.3" y1="250.6" x2="1060.8" y2="250.6"/>
<line x1="714" y1="62.2" x2="714" y2="296.8"/>
</g>
<text transform="translate(441.5,97.0) scale(1.062,1)" font-size="30" text-anchor="start" fill="#111" stroke="#111" stroke-width="0.4">Equation</text>
<text transform="translate(888.0,92.0) scale(1.085,1)" font-size="30" text-anchor="middle" fill="#111" stroke="#111" stroke-width="0.4">y = a + b*x</text>
<text transform="translate(441.5,144.0) scale(1.062,1)" font-size="30" text-anchor="start" fill="#111" stroke="#111" stroke-width="0.4">Intercept</text>
<text transform="translate(888.0,139.0) scale(1.085,1)" font-size="30" text-anchor="middle" fill="#111" stroke="#111" stroke-width="0.4">417.96559 ± 6.83969</text>
<text transform="translate(441.5,190.0) scale(1.062,1)" font-size="30" text-anchor="start" fill="#111" stroke="#111" stroke-width="0.4">Slope</text>
<text transform="translate(888.0,185.0) scale(1.085,1)" font-size="30" text-anchor="middle" fill="#111" stroke="#111" stroke-width="0.4">14.83926 ± 0.54471</text>
<text transform="translate(441.5,236.5) scale(1.062,1)" font-size="30" text-anchor="start" fill="#111" stroke="#111" stroke-width="0.4">R-Square (COD)</text>
<text transform="translate(888.0,231.5) scale(1.085,1)" font-size="30" text-anchor="middle" fill="#111" stroke="#111" stroke-width="0.4">0.97504</text>
<text transform="translate(441.5,283.0) scale(1.062,1)" font-size="30" text-anchor="start" fill="#111" stroke="#111" stroke-width="0.4">Adj. R-Square</text>
<text transform="translate(888.0,278.0) scale(1.085,1)" font-size="30" text-anchor="middle" fill="#111" stroke="#111" stroke-width="0.4">0.97372</text>
</g>
</svg>
</body></html>
